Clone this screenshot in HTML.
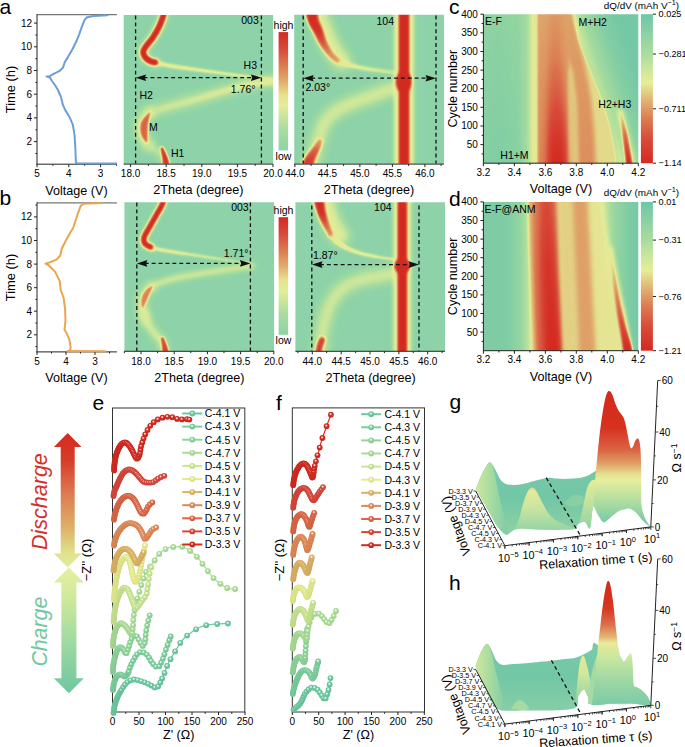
<!DOCTYPE html>
<html><head><meta charset="utf-8"><style>
html,body{margin:0;padding:0;background:#fff;width:685px;height:747px;overflow:hidden}
svg{display:block}
text{font-family:"Liberation Sans",sans-serif}
</style></head><body>
<svg width="685" height="747" viewBox="0 0 685 747" font-family="Liberation Sans">
<defs><filter id="cmX" filterUnits="userSpaceOnUse" x="0" y="0" width="685" height="747" color-interpolation-filters="sRGB"><feComponentTransfer><feFuncR type="table" tableValues="0.553 0.572 0.591 0.610 0.629 0.648 0.671 0.707 0.742 0.778 0.813 0.849 0.885 0.896 0.903 0.910 0.903 0.897 0.890 0.884 0.879 0.873 0.868 0.863 0.858 0.852 0.847 0.842 0.838 0.837 0.835 0.833 0.831"/><feFuncG type="table" tableValues="0.827 0.834 0.841 0.848 0.855 0.861 0.869 0.880 0.890 0.900 0.911 0.921 0.932 0.917 0.898 0.879 0.825 0.769 0.714 0.662 0.617 0.571 0.526 0.480 0.436 0.393 0.349 0.305 0.270 0.243 0.217 0.191 0.165"/><feFuncB type="table" tableValues="0.659 0.653 0.647 0.640 0.634 0.628 0.623 0.618 0.614 0.610 0.605 0.601 0.597 0.585 0.571 0.557 0.520 0.483 0.445 0.413 0.388 0.364 0.339 0.315 0.295 0.276 0.257 0.237 0.217 0.194 0.171 0.148 0.125"/></feComponentTransfer></filter><filter id="cmQ" filterUnits="userSpaceOnUse" x="0" y="0" width="685" height="747" color-interpolation-filters="sRGB"><feComponentTransfer><feFuncR type="table" tableValues="0.431 0.459 0.486 0.514 0.541 0.569 0.596 0.624 0.651 0.688 0.726 0.763 0.800 0.838 0.875 0.900 0.894 0.888 0.882 0.877 0.873 0.868 0.864 0.861 0.857 0.854 0.850 0.847 0.844 0.841 0.838 0.834 0.831"/><feFuncG type="table" tableValues="0.776 0.787 0.798 0.809 0.820 0.830 0.841 0.852 0.863 0.873 0.884 0.894 0.905 0.915 0.926 0.916 0.855 0.794 0.732 0.674 0.619 0.563 0.508 0.460 0.416 0.372 0.329 0.287 0.263 0.238 0.214 0.189 0.165"/><feFuncB type="table" tableValues="0.659 0.654 0.649 0.644 0.639 0.634 0.629 0.625 0.620 0.616 0.613 0.609 0.606 0.602 0.599 0.585 0.546 0.508 0.469 0.433 0.400 0.367 0.335 0.309 0.288 0.267 0.246 0.225 0.205 0.185 0.165 0.145 0.125"/></feComponentTransfer></filter><linearGradient id="sA104" gradientUnits="userSpaceOnUse" x1="0" y1="14" x2="0" y2="62"><stop offset="0" stop-color="rgb(255,255,255)"/><stop offset="0.35" stop-color="rgb(247,247,247)"/><stop offset="0.6" stop-color="rgb(209,209,209)"/><stop offset="0.8" stop-color="rgb(178,178,178)"/><stop offset="1" stop-color="rgb(158,158,158)"/></linearGradient><linearGradient id="sB104" gradientUnits="userSpaceOnUse" x1="0" y1="202" x2="0" y2="237"><stop offset="0" stop-color="rgb(255,255,255)"/><stop offset="0.35" stop-color="rgb(245,245,245)"/><stop offset="0.65" stop-color="rgb(204,204,204)"/><stop offset="1" stop-color="rgb(163,163,163)"/></linearGradient><linearGradient id="sA104b" gradientUnits="userSpaceOnUse" x1="0" y1="140" x2="0" y2="166"><stop offset="0" stop-color="rgb(158,158,158)"/><stop offset="0.4" stop-color="rgb(204,204,204)"/><stop offset="1" stop-color="rgb(242,242,242)"/></linearGradient><filter id="b4" filterUnits="userSpaceOnUse" x="0" y="0" width="685" height="747" color-interpolation-filters="sRGB"><feGaussianBlur stdDeviation="4"/></filter><filter id="b3_5" filterUnits="userSpaceOnUse" x="0" y="0" width="685" height="747" color-interpolation-filters="sRGB"><feGaussianBlur stdDeviation="3.5"/></filter><filter id="b3" filterUnits="userSpaceOnUse" x="0" y="0" width="685" height="747" color-interpolation-filters="sRGB"><feGaussianBlur stdDeviation="3"/></filter><filter id="b2" filterUnits="userSpaceOnUse" x="0" y="0" width="685" height="747" color-interpolation-filters="sRGB"><feGaussianBlur stdDeviation="2"/></filter><filter id="b1_3" filterUnits="userSpaceOnUse" x="0" y="0" width="685" height="747" color-interpolation-filters="sRGB"><feGaussianBlur stdDeviation="1.3"/></filter><filter id="b1_0" filterUnits="userSpaceOnUse" x="0" y="0" width="685" height="747" color-interpolation-filters="sRGB"><feGaussianBlur stdDeviation="1.0"/></filter><clipPath id="hc1"><rect x="123.7" y="14.9" width="149.4" height="148.9"/></clipPath><filter id="b1_4" filterUnits="userSpaceOnUse" x="0" y="0" width="685" height="747" color-interpolation-filters="sRGB"><feGaussianBlur stdDeviation="1.4"/></filter><filter id="b1_8" filterUnits="userSpaceOnUse" x="0" y="0" width="685" height="747" color-interpolation-filters="sRGB"><feGaussianBlur stdDeviation="1.8"/></filter><filter id="b1_1" filterUnits="userSpaceOnUse" x="0" y="0" width="685" height="747" color-interpolation-filters="sRGB"><feGaussianBlur stdDeviation="1.1"/></filter><filter id="b1_5" filterUnits="userSpaceOnUse" x="0" y="0" width="685" height="747" color-interpolation-filters="sRGB"><feGaussianBlur stdDeviation="1.5"/></filter><clipPath id="hc2"><rect x="294.2" y="14.7" width="149.8" height="149.1"/></clipPath><filter id="b2_5" filterUnits="userSpaceOnUse" x="0" y="0" width="685" height="747" color-interpolation-filters="sRGB"><feGaussianBlur stdDeviation="2.5"/></filter><filter id="b1_6" filterUnits="userSpaceOnUse" x="0" y="0" width="685" height="747" color-interpolation-filters="sRGB"><feGaussianBlur stdDeviation="1.6"/></filter><filter id="b0_9" filterUnits="userSpaceOnUse" x="0" y="0" width="685" height="747" color-interpolation-filters="sRGB"><feGaussianBlur stdDeviation="0.9"/></filter><filter id="b1_2" filterUnits="userSpaceOnUse" x="0" y="0" width="685" height="747" color-interpolation-filters="sRGB"><feGaussianBlur stdDeviation="1.2"/></filter><clipPath id="hc3"><rect x="124.4" y="202.2" width="149.7" height="148.9"/></clipPath><clipPath id="hc4"><rect x="295.4" y="202.2" width="149.6" height="148.9"/></clipPath><linearGradient id="gX" x1="0" y1="0" x2="0" y2="1"><stop offset="0.000" stop-color="#d42a20"/><stop offset="0.140" stop-color="#d6483a"/><stop offset="0.280" stop-color="#dc7a50"/><stop offset="0.420" stop-color="#e2ae6c"/><stop offset="0.530" stop-color="#e8e08e"/><stop offset="0.620" stop-color="#e3ee98"/><stop offset="0.820" stop-color="#a9dd9f"/><stop offset="1.000" stop-color="#8dd3a8"/></linearGradient><linearGradient id="cLeft" gradientUnits="userSpaceOnUse" x1="483" y1="0" x2="532" y2="0"><stop offset="0" stop-color="rgb(33,33,33)"/><stop offset="0.35" stop-color="rgb(26,26,26)"/><stop offset="0.7" stop-color="rgb(41,41,41)"/><stop offset="0.9" stop-color="rgb(66,66,66)"/><stop offset="1" stop-color="rgb(102,102,102)"/></linearGradient><linearGradient id="cLeftV" gradientUnits="userSpaceOnUse" x1="0" y1="14" x2="0" y2="163"><stop offset="0" stop-color="rgb(46,46,46)"/><stop offset="1" stop-color="rgb(18,18,18)"/></linearGradient><linearGradient id="cRight" gradientUnits="userSpaceOnUse" x1="592" y1="80" x2="634" y2="66"><stop offset="0" stop-color="rgb(102,102,102)"/><stop offset="0.25" stop-color="rgb(61,61,61)"/><stop offset="0.6" stop-color="rgb(26,26,26)"/><stop offset="1" stop-color="rgb(8,8,8)"/></linearGradient><linearGradient id="cMain" gradientUnits="userSpaceOnUse" x1="0" y1="14" x2="0" y2="163"><stop offset="0" stop-color="rgb(156,156,156)"/><stop offset="0.5" stop-color="rgb(166,166,166)"/><stop offset="1" stop-color="rgb(176,176,176)"/></linearGradient><linearGradient id="cRed" gradientUnits="userSpaceOnUse" x1="0" y1="14" x2="0" y2="163"><stop offset="0" stop-color="rgb(163,163,163)"/><stop offset="0.3" stop-color="rgb(178,178,178)"/><stop offset="0.6" stop-color="rgb(209,209,209)"/><stop offset="0.85" stop-color="rgb(242,242,242)"/><stop offset="1" stop-color="rgb(255,255,255)"/></linearGradient><linearGradient id="cSec" gradientUnits="userSpaceOnUse" x1="0" y1="14" x2="0" y2="163"><stop offset="0" stop-color="rgb(158,158,158)"/><stop offset="1" stop-color="rgb(168,168,168)"/></linearGradient><linearGradient id="cH23" gradientUnits="userSpaceOnUse" x1="0" y1="108" x2="0" y2="163"><stop offset="0" stop-color="rgb(115,115,115)"/><stop offset="0.45" stop-color="rgb(184,184,184)"/><stop offset="1" stop-color="rgb(255,255,255)"/></linearGradient><filter id="b0_8" filterUnits="userSpaceOnUse" x="0" y="0" width="685" height="747" color-interpolation-filters="sRGB"><feGaussianBlur stdDeviation="0.8"/></filter><clipPath id="hc5"><rect x="483.4" y="14.2" width="154.9" height="149"/></clipPath><linearGradient id="dLeft" gradientUnits="userSpaceOnUse" x1="483" y1="0" x2="532" y2="0"><stop offset="0" stop-color="rgb(20,20,20)"/><stop offset="0.5" stop-color="rgb(20,20,20)"/><stop offset="0.76" stop-color="rgb(43,43,43)"/><stop offset="0.9" stop-color="rgb(76,76,76)"/><stop offset="1" stop-color="rgb(115,115,115)"/></linearGradient><linearGradient id="dRight" gradientUnits="userSpaceOnUse" x1="604" y1="0" x2="640" y2="0"><stop offset="0" stop-color="rgb(92,92,92)"/><stop offset="0.3" stop-color="rgb(46,46,46)"/><stop offset="0.7" stop-color="rgb(18,18,18)"/><stop offset="1" stop-color="rgb(10,10,10)"/></linearGradient><linearGradient id="dMain" gradientUnits="userSpaceOnUse" x1="0" y1="202" x2="0" y2="351"><stop offset="0" stop-color="rgb(173,173,173)"/><stop offset="0.5" stop-color="rgb(189,189,189)"/><stop offset="1" stop-color="rgb(199,199,199)"/></linearGradient><linearGradient id="dRed" gradientUnits="userSpaceOnUse" x1="0" y1="202" x2="0" y2="351"><stop offset="0" stop-color="rgb(214,214,214)"/><stop offset="0.4" stop-color="rgb(240,240,240)"/><stop offset="1" stop-color="rgb(255,255,255)"/></linearGradient><linearGradient id="dH23" gradientUnits="userSpaceOnUse" x1="0" y1="250" x2="0" y2="351"><stop offset="0" stop-color="rgb(107,107,107)"/><stop offset="0.4" stop-color="rgb(168,168,168)"/><stop offset="1" stop-color="rgb(255,255,255)"/></linearGradient><filter id="b3_2" filterUnits="userSpaceOnUse" x="0" y="0" width="685" height="747" color-interpolation-filters="sRGB"><feGaussianBlur stdDeviation="3.2"/></filter><clipPath id="hc6"><rect x="483.4" y="201.9" width="154.9" height="148.8"/></clipPath><linearGradient id="gQ" x1="0" y1="0" x2="0" y2="1"><stop offset="0.000" stop-color="#6ec6a8"/><stop offset="0.250" stop-color="#a6dc9e"/><stop offset="0.460" stop-color="#e6ee98"/><stop offset="0.580" stop-color="#e0b272"/><stop offset="0.700" stop-color="#dc7c52"/><stop offset="0.840" stop-color="#d84a3a"/><stop offset="1.000" stop-color="#d42a20"/></linearGradient><radialGradient id="m0" cx="0.45" cy="0.42" r="0.58" fx="0.45" fy="0.38"><stop offset="0" stop-color="#e9f7f1"/><stop offset="0.12" stop-color="#e9f7f1"/><stop offset="0.3" stop-color="#9fdcc1"/><stop offset="0.45" stop-color="#6cc9a0"/><stop offset="1" stop-color="#64bb95"/></radialGradient><radialGradient id="m1" cx="0.45" cy="0.42" r="0.58" fx="0.45" fy="0.38"><stop offset="0" stop-color="#ebf8f0"/><stop offset="0.12" stop-color="#ebf8f0"/><stop offset="0.3" stop-color="#aae0bf"/><stop offset="0.45" stop-color="#7ccf9c"/><stop offset="1" stop-color="#73c191"/></radialGradient><radialGradient id="m2" cx="0.45" cy="0.42" r="0.58" fx="0.45" fy="0.38"><stop offset="0" stop-color="#eef9f0"/><stop offset="0.12" stop-color="#eef9f0"/><stop offset="0.3" stop-color="#b6e4be"/><stop offset="0.45" stop-color="#8fd59b"/><stop offset="1" stop-color="#85c690"/></radialGradient><radialGradient id="m3" cx="0.45" cy="0.42" r="0.58" fx="0.45" fy="0.38"><stop offset="0" stop-color="#f2faef"/><stop offset="0.12" stop-color="#f2faef"/><stop offset="0.3" stop-color="#c7e9b9"/><stop offset="0.45" stop-color="#a9dd94"/><stop offset="1" stop-color="#9dce8a"/></radialGradient><radialGradient id="m4" cx="0.45" cy="0.42" r="0.58" fx="0.45" fy="0.38"><stop offset="0" stop-color="#f7fbee"/><stop offset="0.12" stop-color="#f7fbee"/><stop offset="0.3" stop-color="#dbefb7"/><stop offset="0.45" stop-color="#c8e690"/><stop offset="1" stop-color="#bad686"/></radialGradient><radialGradient id="m5" cx="0.45" cy="0.42" r="0.58" fx="0.45" fy="0.38"><stop offset="0" stop-color="#fbfcee"/><stop offset="0.12" stop-color="#fbfcee"/><stop offset="0.3" stop-color="#edf3b6"/><stop offset="0.45" stop-color="#e4ec8e"/><stop offset="1" stop-color="#d4db84"/></radialGradient><radialGradient id="m6" cx="0.45" cy="0.42" r="0.58" fx="0.45" fy="0.38"><stop offset="0" stop-color="#faf3e8"/><stop offset="0.12" stop-color="#faf3e8"/><stop offset="0.3" stop-color="#e9cd9a"/><stop offset="0.45" stop-color="#ddb264"/><stop offset="1" stop-color="#cea65d"/></radialGradient><radialGradient id="m7" cx="0.45" cy="0.42" r="0.58" fx="0.45" fy="0.38"><stop offset="0" stop-color="#faede6"/><stop offset="0.12" stop-color="#faede6"/><stop offset="0.3" stop-color="#eab391"/><stop offset="0.45" stop-color="#df8a56"/><stop offset="1" stop-color="#cf8050"/></radialGradient><radialGradient id="m8" cx="0.45" cy="0.42" r="0.58" fx="0.45" fy="0.38"><stop offset="0" stop-color="#fae8e3"/><stop offset="0.12" stop-color="#fae8e3"/><stop offset="0.3" stop-color="#e89c87"/><stop offset="0.45" stop-color="#dc6646"/><stop offset="1" stop-color="#cd5f41"/></radialGradient><radialGradient id="m9" cx="0.45" cy="0.42" r="0.58" fx="0.45" fy="0.38"><stop offset="0" stop-color="#f9e3e1"/><stop offset="0.12" stop-color="#f9e3e1"/><stop offset="0.3" stop-color="#e5877f"/><stop offset="0.45" stop-color="#d7463a"/><stop offset="1" stop-color="#c84136"/></radialGradient><radialGradient id="m10" cx="0.45" cy="0.42" r="0.58" fx="0.45" fy="0.38"><stop offset="0" stop-color="#f9dfde"/><stop offset="0.12" stop-color="#f9dfde"/><stop offset="0.3" stop-color="#e3756e"/><stop offset="0.45" stop-color="#d42a20"/><stop offset="1" stop-color="#c5271e"/></radialGradient><linearGradient id="gDis" x1="0" y1="432.9" x2="0" y2="567.4" gradientUnits="userSpaceOnUse"><stop offset="0" stop-color="#d42a1e"/><stop offset="0.2" stop-color="#d63c2a"/><stop offset="0.45" stop-color="#dc7a52"/><stop offset="0.7" stop-color="#ddb068"/><stop offset="0.88" stop-color="#e0df88"/><stop offset="1" stop-color="#e2eca0"/></linearGradient><linearGradient id="gCh" x1="0" y1="567.4" x2="0" y2="693.2" gradientUnits="userSpaceOnUse"><stop offset="0" stop-color="#e6f0a0"/><stop offset="0.25" stop-color="#cfe89c"/><stop offset="0.55" stop-color="#a4dca0"/><stop offset="1" stop-color="#6ec6a0"/></linearGradient><linearGradient id="gRed" gradientUnits="userSpaceOnUse" x1="0" y1="391" x2="0" y2="522"><stop offset="0" stop-color="#d42a1c"/><stop offset="0.28" stop-color="#d5321f"/><stop offset="0.45" stop-color="#da6444"/><stop offset="0.56" stop-color="#e0a468"/><stop offset="0.64" stop-color="#e6e294"/><stop offset="0.68" stop-color="#e8ee9c"/><stop offset="0.82" stop-color="#b6e0a0"/><stop offset="1" stop-color="#7ccaa8"/></linearGradient><linearGradient id="gBack" gradientUnits="userSpaceOnUse" x1="0" y1="462" x2="0" y2="535"><stop offset="0" stop-color="#76c9a6"/><stop offset="0.5" stop-color="#72c7a6"/><stop offset="1" stop-color="#8ed2a4"/></linearGradient><linearGradient id="gLeft" gradientUnits="userSpaceOnUse" x1="478" y1="0" x2="508" y2="0"><stop offset="0" stop-color="#c8e69c"/><stop offset="0.45" stop-color="#a6dba0"/><stop offset="1" stop-color="#7ecba8"/></linearGradient><linearGradient id="gMid" gradientUnits="userSpaceOnUse" x1="0" y1="487" x2="0" y2="530"><stop offset="0" stop-color="#e4cc8a"/><stop offset="0.1" stop-color="#e6ea98"/><stop offset="0.5" stop-color="#c8e4a0"/><stop offset="1" stop-color="#96d4a4"/></linearGradient><linearGradient id="gMid2" gradientUnits="userSpaceOnUse" x1="0" y1="481" x2="0" y2="528"><stop offset="0" stop-color="#e4ec98"/><stop offset="0.45" stop-color="#c2e29e"/><stop offset="1" stop-color="#94d3a4"/></linearGradient><linearGradient id="hRed" gradientUnits="userSpaceOnUse" x1="0" y1="581" x2="0" y2="705"><stop offset="0" stop-color="#d42a1c"/><stop offset="0.22" stop-color="#d6361f"/><stop offset="0.36" stop-color="#dc7450"/><stop offset="0.45" stop-color="#e2b474"/><stop offset="0.5" stop-color="#e8ea98"/><stop offset="0.63" stop-color="#c6e6a0"/><stop offset="0.82" stop-color="#9ad6a4"/><stop offset="1" stop-color="#7ccaa8"/></linearGradient><linearGradient id="hBack" gradientUnits="userSpaceOnUse" x1="0" y1="640" x2="0" y2="712"><stop offset="0" stop-color="#7acba8"/><stop offset="0.5" stop-color="#72c7a6"/><stop offset="1" stop-color="#86cea6"/></linearGradient><linearGradient id="hLeft" gradientUnits="userSpaceOnUse" x1="478" y1="0" x2="506" y2="0"><stop offset="0" stop-color="#c8e69c"/><stop offset="0.45" stop-color="#a6dba0"/><stop offset="1" stop-color="#7ecba8"/></linearGradient><linearGradient id="hMid" gradientUnits="userSpaceOnUse" x1="0" y1="655" x2="0" y2="705"><stop offset="0" stop-color="#e2ea98"/><stop offset="0.35" stop-color="#d2e89c"/><stop offset="0.7" stop-color="#acdca0"/><stop offset="1" stop-color="#88d0a6"/></linearGradient></defs>
<text x="-0.5" y="14.3" font-size="21">a</text><text x="-0.5" y="205" font-size="21">b</text><text x="449" y="14.3" font-size="21">c</text><text x="449" y="205.8" font-size="21">d</text><text x="92.5" y="409.7" font-size="21">e</text><text x="276" y="409.7" font-size="21">f</text><text x="449.5" y="409" font-size="21">g</text><text x="449" y="589.5" font-size="21">h</text><line x1="37" y1="14.7" x2="116.9" y2="14.7" stroke="#777" stroke-width="1.2"/><line x1="37" y1="14.1" x2="37" y2="164.7" stroke="#222" stroke-width="1"/><line x1="36.5" y1="164.2" x2="116.9" y2="164.2" stroke="#222" stroke-width="1"/><line x1="35.4" y1="153.5" x2="37" y2="153.5" stroke="#222" stroke-width="1"/><line x1="34" y1="141.6" x2="37" y2="141.6" stroke="#222" stroke-width="1"/><text x="32" y="145.1" font-size="10" text-anchor="end">2</text><line x1="35.4" y1="129.8" x2="37" y2="129.8" stroke="#222" stroke-width="1"/><line x1="34" y1="117.9" x2="37" y2="117.9" stroke="#222" stroke-width="1"/><text x="32" y="121.4" font-size="10" text-anchor="end">4</text><line x1="35.4" y1="106.1" x2="37" y2="106.1" stroke="#222" stroke-width="1"/><line x1="34" y1="94.2" x2="37" y2="94.2" stroke="#222" stroke-width="1"/><text x="32" y="97.7" font-size="10" text-anchor="end">6</text><line x1="35.4" y1="82.4" x2="37" y2="82.4" stroke="#222" stroke-width="1"/><line x1="34" y1="70.5" x2="37" y2="70.5" stroke="#222" stroke-width="1"/><text x="32" y="74" font-size="10" text-anchor="end">8</text><line x1="35.4" y1="58.7" x2="37" y2="58.7" stroke="#222" stroke-width="1"/><line x1="34" y1="46.8" x2="37" y2="46.8" stroke="#222" stroke-width="1"/><text x="32" y="50.3" font-size="10" text-anchor="end">10</text><line x1="35.4" y1="35" x2="37" y2="35" stroke="#222" stroke-width="1"/><line x1="34" y1="23.1" x2="37" y2="23.1" stroke="#222" stroke-width="1"/><text x="32" y="26.6" font-size="10" text-anchor="end">12</text><line x1="37" y1="164.2" x2="37" y2="167.2" stroke="#222" stroke-width="1"/><text x="37" y="177.2" font-size="10" text-anchor="middle">5</text><line x1="52.9" y1="164.2" x2="52.9" y2="165.8" stroke="#222" stroke-width="1"/><line x1="68.8" y1="164.2" x2="68.8" y2="167.2" stroke="#222" stroke-width="1"/><text x="68.8" y="177.2" font-size="10" text-anchor="middle">4</text><line x1="84.7" y1="164.2" x2="84.7" y2="165.8" stroke="#222" stroke-width="1"/><line x1="100.6" y1="164.2" x2="100.6" y2="167.2" stroke="#222" stroke-width="1"/><text x="100.6" y="177.2" font-size="10" text-anchor="middle">3</text><line x1="116.5" y1="164.2" x2="116.5" y2="165.8" stroke="#222" stroke-width="1"/><path d="M116.3,163.5 L77.2,163.2 L75.9,162.5 L75.3,147 L74.5,134.6 L72.8,124.7 L69.7,117.3 L65.4,110.4 L62.9,104.9 L61.1,97.4 L58,90 L54.9,85 L52,81 L49.9,77.6 L46.4,76.4 L49.3,76.4 L53.6,73.9 L59.8,70.8 L62.9,67.7 L64.8,62.1 L67.9,57.1 L72.2,49.7 L75.9,42.3 L79,34.8 L82.1,26.1 L84.6,19.9 L87.1,17.2 L93.3,16 L107.6,15.2" fill="none" stroke="#6c9fd8" stroke-width="2" stroke-linejoin="round" stroke-linecap="round"/><line x1="37" y1="202.9" x2="116.9" y2="202.9" stroke="#777" stroke-width="1.2"/><line x1="37" y1="202.3" x2="37" y2="352.4" stroke="#222" stroke-width="1"/><line x1="36.5" y1="351.9" x2="116.9" y2="351.9" stroke="#222" stroke-width="1"/><line x1="35.4" y1="346.6" x2="37" y2="346.6" stroke="#222" stroke-width="1"/><line x1="34" y1="334.8" x2="37" y2="334.8" stroke="#222" stroke-width="1"/><text x="32" y="338.3" font-size="10" text-anchor="end">2</text><line x1="35.4" y1="323" x2="37" y2="323" stroke="#222" stroke-width="1"/><line x1="34" y1="311.2" x2="37" y2="311.2" stroke="#222" stroke-width="1"/><text x="32" y="314.7" font-size="10" text-anchor="end">4</text><line x1="35.4" y1="299.4" x2="37" y2="299.4" stroke="#222" stroke-width="1"/><line x1="34" y1="287.7" x2="37" y2="287.7" stroke="#222" stroke-width="1"/><text x="32" y="291.2" font-size="10" text-anchor="end">6</text><line x1="35.4" y1="275.9" x2="37" y2="275.9" stroke="#222" stroke-width="1"/><line x1="34" y1="264.1" x2="37" y2="264.1" stroke="#222" stroke-width="1"/><text x="32" y="267.6" font-size="10" text-anchor="end">8</text><line x1="35.4" y1="252.3" x2="37" y2="252.3" stroke="#222" stroke-width="1"/><line x1="34" y1="240.5" x2="37" y2="240.5" stroke="#222" stroke-width="1"/><text x="32" y="244" font-size="10" text-anchor="end">10</text><line x1="35.4" y1="228.7" x2="37" y2="228.7" stroke="#222" stroke-width="1"/><line x1="34" y1="216.9" x2="37" y2="216.9" stroke="#222" stroke-width="1"/><text x="32" y="220.4" font-size="10" text-anchor="end">12</text><line x1="35.4" y1="205.1" x2="37" y2="205.1" stroke="#222" stroke-width="1"/><line x1="37" y1="351.9" x2="37" y2="354.9" stroke="#222" stroke-width="1"/><text x="37" y="364.9" font-size="10" text-anchor="middle">5</text><line x1="51.5" y1="351.9" x2="51.5" y2="353.5" stroke="#222" stroke-width="1"/><line x1="66" y1="351.9" x2="66" y2="354.9" stroke="#222" stroke-width="1"/><text x="66" y="364.9" font-size="10" text-anchor="middle">4</text><line x1="80.5" y1="351.9" x2="80.5" y2="353.5" stroke="#222" stroke-width="1"/><line x1="95" y1="351.9" x2="95" y2="354.9" stroke="#222" stroke-width="1"/><text x="95" y="364.9" font-size="10" text-anchor="middle">3</text><line x1="109.5" y1="351.9" x2="109.5" y2="353.5" stroke="#222" stroke-width="1"/><path d="M105.3,351.3 L67.4,351.1 L70.2,350.3 L70.6,346.9 L69.3,339.3 L66.4,332.7 L64.5,329.8 L65.5,320.4 L65.1,309 L63.6,297.6 L60.7,290 L59.8,281.1 L55,271.6 L48.4,265 L45.5,263.6 L50.3,262.1 L56.9,259.3 L60.3,255.5 L61.7,248.8 L65.5,241.2 L70.2,232.7 L73.1,228 L77.8,213.7 L80.6,206.1 L83.5,203.7 L101.5,202.9" fill="none" stroke="#eaa54e" stroke-width="2" stroke-linejoin="round" stroke-linecap="round"/><text transform="translate(15.2,89.5) rotate(-90)" font-size="12.9" text-anchor="middle" fill="#000">Time (h)</text><text transform="translate(15.2,277.5) rotate(-90)" font-size="12.9" text-anchor="middle" fill="#000">Time (h)</text><text x="76.5" y="195" font-size="12.6" text-anchor="middle">Voltage (V)</text><text x="76.5" y="382" font-size="12.6" text-anchor="middle">Voltage (V)</text><g clip-path="url(#hc1)"><g filter="url(#cmX)"><rect x="103.7" y="-5.1" width="189.4" height="188.9" fill="rgb(0,0,0)"/><path d="M282,80 C276.8,80.6 262.2,81.1 250.8,83.5 C239.4,85.9 225.5,91.1 213.4,94.5 C201.3,97.9 187.8,101.4 178.4,104 C169,106.6 161.7,108.6 157,110 C152.3,111.4 151.2,112.1 150,112.5" fill="none" stroke="rgb(84,84,84)" stroke-width="10" stroke-linecap="round" stroke-linejoin="round" filter="url(#b4)"/><path d="M150,112 C149,113 145.6,115.8 144,118 C142.4,120.2 140.8,122.2 140.5,125 C140.2,127.8 140.8,131.7 142,135 C143.2,138.3 147,143.3 148,145" fill="none" stroke="rgb(92,92,92)" stroke-width="12" stroke-linecap="round" stroke-linejoin="round" filter="url(#b3_5)"/><path d="M148,145 C149.3,145.8 153.5,148.2 156,150 C158.5,151.8 161.3,153.3 163,156 C164.7,158.7 165.5,164.3 166,166" fill="none" stroke="rgb(76,76,76)" stroke-width="8" stroke-linecap="round" stroke-linejoin="round" filter="url(#b3)"/><path d="M164.5,8 C164.3,9.2 164.3,12.1 163.5,15 C162.7,17.9 161.3,22 159.6,25.7 C157.8,29.4 155.1,34.2 153,37.4 C150.9,40.6 148.6,42.8 147,45 C145.4,47.2 144,48.8 143.5,50.5 C143,52.2 143.3,54 144,55.5 C144.7,57 146.2,58.5 147.5,59.5 C148.8,60.5 150.6,61.2 152,61.8 C153.4,62.3 155.3,62.6 156,62.8" fill="none" stroke="rgb(102,102,102)" stroke-width="10" stroke-linecap="round" stroke-linejoin="round" filter="url(#b2)"/><path d="M151.5,64.4 L152.5,64.6 L153.7,64.9 L155.3,65.2 L157,65.6 L158.9,66 L160.8,66.4 L162.7,66.8 L164.5,67.1 L166.2,67.4 L167.7,67.7 L169.2,67.9 L170.8,68.2 L172.6,68.5 L174.6,68.8 L176.9,69.2 L179.7,69.5 L183,70 L186.7,70.5 L190.8,71 L195.2,71.5 L199.7,72.1 L204.2,72.7 L208.8,73.2 L213.2,73.8 L217.5,74.3 L222,74.8 L226.5,75.4 L231,75.9 L235.5,76.5 L239.9,77 L244.2,77.5 L248.3,77.9 L252.5,78.4 L256.8,78.8 L261.1,79.2 L265.3,79.6 L269.2,80 L272.7,80.3 L275.7,80.6 L277.9,80.8 L278.1,78.8 L275.9,78.5 L272.9,78.2 L269.5,77.8 L265.6,77.3 L261.4,76.9 L257.1,76.3 L252.8,75.8 L248.7,75.3 L244.5,74.7 L240.3,74.1 L235.9,73.5 L231.4,72.8 L226.9,72.2 L222.4,71.5 L218,70.9 L213.6,70.2 L209.3,69.6 L204.7,68.9 L200.2,68.3 L195.7,67.6 L191.4,67 L187.3,66.3 L183.6,65.8 L180.3,65.3 L177.6,64.8 L175.3,64.4 L173.3,64.1 L171.6,63.8 L170.1,63.5 L168.6,63.2 L167.1,62.8 L165.5,62.5 L163.7,62.1 L161.8,61.7 L159.9,61.3 L158.1,60.9 L156.4,60.5 L154.8,60.1 L153.5,59.8 L152.5,59.6Z" fill="rgb(107,107,107)" filter="url(#b1_3)"/><path d="M164.5,8 C164.3,9.2 164.3,12.1 163.5,15 C162.7,17.9 161.3,22 159.6,25.7 C157.8,29.4 155.1,34.2 153,37.4 C150.9,40.6 148.6,42.8 147,45 C145.4,47.2 144,48.8 143.5,50.5 C143,52.2 143.3,54 144,55.5 C144.7,57 146.2,58.5 147.5,59.5 C148.8,60.5 150.8,61.3 152,61.8 C153.2,62.3 154.5,62.2 155,62.3" fill="none" stroke="rgb(255,255,255)" stroke-width="6" stroke-linecap="round" stroke-linejoin="round" filter="url(#b1_0)"/><path d="M277.7,78 L275.5,78.3 L272.6,78.7 L269.1,79.1 L265.2,79.6 L261.2,80.2 L257.1,80.8 L253.2,81.4 L249.6,82.1 L246.3,82.7 L243,83.5 L239.9,84.3 L236.8,85.1 L233.7,85.9 L230.6,86.8 L227.6,87.7 L224.5,88.6 L221.3,89.5 L218.2,90.5 L215.1,91.5 L212,92.5 L208.9,93.5 L205.8,94.5 L202.7,95.5 L199.6,96.5 L196.4,97.5 L193.2,98.5 L189.9,99.5 L186.7,100.4 L183.5,101.4 L180.4,102.3 L177.4,103.2 L174.7,104 L172.1,104.7 L169.5,105.5 L167.1,106.2 L164.7,106.8 L162.6,107.4 L160.7,108 L159.1,108.4 L157.8,108.8 L158.2,110.2 L159.5,109.9 L161.1,109.5 L163,109.1 L165.2,108.5 L167.5,108 L170,107.3 L172.6,106.7 L175.3,106 L178,105.3 L181,104.6 L184.1,103.8 L187.3,102.9 L190.6,102.1 L193.9,101.2 L197.2,100.3 L200.4,99.5 L203.6,98.6 L206.7,97.7 L209.9,96.8 L213,95.9 L216.2,95 L219.3,94.1 L222.4,93.3 L225.5,92.4 L228.6,91.7 L231.7,90.9 L234.8,90.2 L237.9,89.4 L240.9,88.7 L244,88.1 L247.2,87.5 L250.4,86.9 L253.9,86.4 L257.8,86 L261.8,85.5 L265.9,85.1 L269.7,84.8 L273.2,84.5 L276.1,84.2 L278.3,84Z" fill="rgb(102,102,102)" filter="url(#b2)"/><path d="M151,111 L150.3,111.6 L149.4,112.4 L148.3,113.3 L147.1,114.4 L146,115.5 L145,116.5 L144.2,117.5 L143.3,118.5 L142.6,119.6 L141.9,120.7 L141.3,121.8 L140.8,123 L140.5,124.3 L140.3,125.6 L140.2,127 L140.1,128.4 L140.2,129.7 L140.3,131 L140.5,132.2 L140.7,133.4 L141.1,134.6 L141.5,135.8 L141.9,136.9 L142.5,138 L143.2,139.1 L144.1,140.3 L145.1,141.4 L146.1,142.5 L146.9,143.4 L147.5,144 L147.5,144 L147.5,143.1 L147.6,141.9 L147.6,140.5 L147.7,139 L147.8,137.4 L147.8,136 L147.8,134.7 L147.8,133.3 L147.9,132 L147.9,130.7 L147.9,129.3 L148,128 L148.1,126.7 L148.2,125.4 L148.4,124.1 L148.6,122.7 L148.8,121.4 L149,120 L149.3,118.5 L149.7,116.7 L150.1,115 L150.4,113.4 L150.8,112 L151,111Z" fill="rgb(199,199,199)" filter="url(#b1_0)"/><path d="M160.1,147.5 L160.2,148 L160.3,148.6 L160.5,149.3 L160.7,150.1 L160.8,151 L161,151.9 L161.2,152.8 L161.4,153.7 L161.5,154.5 L161.7,155.4 L161.9,156.3 L162,157.1 L162.2,158 L162.3,158.9 L162.4,159.7 L162.5,160.6 L162.5,161.5 L162.6,162.6 L162.6,163.7 L162.6,164.8 L162.5,165.9 L162.5,166.9 L162.5,167.8 L162.5,168.4 L170.5,167.6 L170.3,167 L170.2,166.1 L169.9,165.2 L169.7,164 L169.4,162.9 L169.1,161.7 L168.8,160.5 L168.5,159.4 L168.2,158.4 L167.8,157.4 L167.5,156.5 L167.1,155.6 L166.7,154.7 L166.3,153.9 L166,153.1 L165.6,152.3 L165.3,151.5 L164.9,150.7 L164.5,149.8 L164.1,149 L163.7,148.2 L163.4,147.5 L163.1,147 L162.9,146.5Z" fill="rgb(242,242,242)" filter="url(#b1_0)"/></g></g><g clip-path="url(#hc2)"><g filter="url(#cmX)"><rect x="274.2" y="-5.3" width="189.8" height="189.1" fill="rgb(0,0,0)"/><path d="M400,86 C396.7,87.2 387,90.5 380,93 C373,95.5 365,98.2 358,101 C351,103.8 343.5,106.5 338,110 C332.5,113.5 328.3,116.9 325,122 C321.7,127.1 320.2,133.5 318,140.7 C315.8,147.9 313,160.9 312,165" fill="none" stroke="rgb(84,84,84)" stroke-width="16" stroke-linecap="round" stroke-linejoin="round" filter="url(#b4)"/><path d="M316,8 C317,10.8 320,19.7 322,25 C324,30.3 325.8,35.3 328,40 C330.2,44.7 332.7,49.5 335,53 C337.3,56.5 340.8,59.7 342,61" fill="none" stroke="rgb(92,92,92)" stroke-width="20" stroke-linecap="round" stroke-linejoin="round" filter="url(#b4)"/><path d="M332.5,59.6 L333.6,60.2 L334.9,60.9 L336.6,61.9 L338.5,62.9 L340.6,64 L342.7,65.1 L344.9,66.1 L347.1,66.9 L349.2,67.6 L351.4,68.2 L353.6,68.7 L355.8,69.1 L358,69.5 L360.3,69.9 L362.4,70.3 L364.6,70.6 L366.8,71 L369,71.3 L371.1,71.5 L373.3,71.8 L375.4,72 L377.6,72.2 L379.7,72.5 L381.8,72.7 L383.9,72.9 L386.2,73.2 L388.6,73.4 L390.9,73.6 L393,73.8 L395,74 L396.6,74.2 L397.8,74.3 L398.2,71.7 L396.9,71.5 L395.3,71.3 L393.4,71 L391.2,70.7 L389,70.3 L386.6,70 L384.4,69.6 L382.2,69.3 L380.2,69 L378.1,68.6 L375.9,68.3 L373.8,68 L371.7,67.6 L369.6,67.2 L367.5,66.8 L365.4,66.4 L363.3,65.9 L361.1,65.5 L358.9,65 L356.8,64.5 L354.7,64 L352.7,63.4 L350.7,62.8 L348.9,62.1 L347.1,61.3 L345.2,60.3 L343.2,59.2 L341.3,58.1 L339.6,56.9 L337.9,55.9 L336.6,55 L335.5,54.4Z" fill="rgb(107,107,107)" filter="url(#b1_4)"/><path d="M303.6,5.1 L303.9,6.3 L304.3,8 L304.7,10 L305.2,12.3 L305.8,14.7 L306.4,17.1 L307,19.4 L307.7,21.6 L308.4,23.5 L309.2,25.2 L310,26.7 L310.8,28.1 L311.6,29.4 L312.3,30.6 L313,31.8 L313.6,32.9 L314.2,34.2 L314.8,35.5 L315.5,36.8 L316.1,38.2 L316.7,39.6 L317.4,41 L318.1,42.4 L318.8,43.8 L319.6,45.1 L320.4,46.4 L321.2,47.6 L322,48.8 L322.9,49.9 L323.7,51 L324.4,52 L325.2,53 L325.9,53.9 L326.6,54.7 L327.3,55.5 L328,56.3 L328.7,57 L329.4,57.7 L330.1,58.4 L330.9,59.1 L331.8,59.9 L332.7,60.6 L333.7,61.3 L334.6,62 L335.5,62.6 L336.3,63.2 L337,63.6 L337.4,63.9 L340.6,60.1 L340.1,59.6 L339.5,59.1 L338.8,58.5 L338,57.8 L337.2,57 L336.4,56.3 L335.7,55.6 L335.1,54.9 L334.5,54.2 L334,53.6 L333.4,52.9 L332.9,52.2 L332.4,51.5 L331.9,50.7 L331.4,49.9 L330.8,49 L330.2,48 L329.6,47 L329,45.9 L328.4,44.8 L327.8,43.7 L327.2,42.5 L326.7,41.4 L326.2,40.2 L325.7,39 L325.2,37.7 L324.8,36.4 L324.4,35 L323.9,33.6 L323.4,32.1 L322.9,30.6 L322.4,29.1 L321.8,27.6 L321.2,26.1 L320.6,24.8 L320,23.5 L319.5,22.3 L319,21 L318.6,19.8 L318.3,18.4 L318,16.8 L317.7,14.8 L317.4,12.6 L317.2,10.3 L316.9,8.1 L316.7,6 L316.6,4.2 L316.4,2.9Z" fill="url(#sA104)" filter="url(#b1_4)"/><path d="M318.8,137.9 L318.3,138.6 L317.7,139.6 L316.9,140.8 L316.1,142 L315.3,143.4 L314.4,144.7 L313.5,146 L312.7,147.2 L311.9,148.2 L311,149.3 L310.1,150.4 L309.2,151.5 L308.2,152.7 L307.2,154 L306.3,155.3 L305.4,156.8 L304.5,158.3 L303.6,160 L302.8,161.6 L302,163.2 L301.3,164.7 L300.7,166 L300.2,167.1 L299.9,167.9 L312.1,172.1 L312.4,171.2 L312.6,170 L312.9,168.6 L313.2,167 L313.6,165.5 L313.9,163.9 L314.3,162.5 L314.6,161.2 L315,160.1 L315.5,158.9 L316.1,157.6 L316.7,156.4 L317.3,155 L318,153.7 L318.7,152.3 L319.3,150.8 L319.9,149.4 L320.5,147.8 L321.1,146.3 L321.6,144.7 L322.1,143.3 L322.6,142 L323,140.9 L323.2,140.1Z" fill="url(#sA104b)" filter="url(#b1_8)"/><path d="M404,8 L404,170" fill="none" stroke="rgb(115,115,115)" stroke-width="20" stroke-linecap="round" stroke-linejoin="round" filter="url(#b2)"/><path d="M404,8 L404,170" fill="none" stroke="rgb(255,255,255)" stroke-width="10" stroke-linecap="round" stroke-linejoin="round" filter="url(#b1_1)"/><ellipse cx="403.7" cy="82" rx="7.8" ry="10.5" fill="rgb(255,255,255)" filter="url(#b1_5)"/></g></g><g clip-path="url(#hc3)"><g filter="url(#cmX)"><rect x="104.4" y="182.2" width="189.7" height="188.9" fill="rgb(0,0,0)"/><path d="M252,266 C246.7,266.8 232.7,268.6 220.4,270.5 C208.1,272.4 189.3,275.2 178.4,277.5 C167.5,279.8 159.6,282.9 155,284.5 C150.4,286.1 151.7,286.6 151,287" fill="none" stroke="rgb(87,87,87)" stroke-width="7" stroke-linecap="round" stroke-linejoin="round" filter="url(#b2_5)"/><path d="M151,287 C150,288 146.5,290.8 145,293 C143.5,295.2 142.4,297.2 142,300 C141.6,302.8 142,306.7 142.5,310 C143,313.3 144.6,318.3 145,320" fill="none" stroke="rgb(87,87,87)" stroke-width="11" stroke-linecap="round" stroke-linejoin="round" filter="url(#b3_5)"/><path d="M144,312 C144.7,314 146.2,320.3 148,324 C149.8,327.7 152.7,331 155,334 C157.3,337 160.3,338.5 162,342 C163.7,345.5 164.5,352.8 165,355" fill="none" stroke="rgb(92,92,92)" stroke-width="9" stroke-linecap="round" stroke-linejoin="round" filter="url(#b3)"/><path d="M164,196 C163.8,197 163.6,200.2 163.1,202 C162.6,203.8 161.9,205.2 161,207 C160.1,208.8 158.8,210.7 157.5,213 C156.2,215.3 154.5,218.3 153,221 C151.5,223.7 149.8,226.7 148.5,229 C147.2,231.3 145.8,233.3 145,235 C144.2,236.7 143.9,237.7 143.8,239 C143.7,240.3 143.9,241.9 144.5,243 C145.1,244.1 146.2,244.8 147.4,245.5 C148.6,246.2 150.8,247.2 151.5,247.5" fill="none" stroke="rgb(107,107,107)" stroke-width="9" stroke-linecap="round" stroke-linejoin="round" filter="url(#b1_6)"/><path d="M149.6,250 L150.8,250.2 L152.3,250.5 L154.1,250.8 L156.2,251.1 L158.3,251.5 L160.5,251.8 L162.7,252.2 L164.7,252.5 L166.4,252.8 L168.1,253 L169.6,253.3 L171.2,253.5 L173,253.8 L174.9,254.1 L177.1,254.4 L179.7,254.7 L182.7,255.2 L186.1,255.6 L189.7,256.1 L193.5,256.6 L197.4,257.1 L201.5,257.6 L205.7,258.2 L209.8,258.8 L214.2,259.4 L219.1,260.1 L224.2,260.8 L229.3,261.5 L234.3,262.2 L238.8,262.9 L242.8,263.5 L245.9,263.9 L248.1,264.2 L249.7,264.4 L250.6,264.5 L251.2,264.6 L251.5,264.6 L251.6,264.6 L251.7,264.6 L251.9,264.6 L252.1,263.4 L251.8,263.4 L251.6,263.4 L251.5,263.4 L251.3,263.3 L250.8,263.3 L249.8,263.1 L248.3,262.9 L246.1,262.5 L243,262 L239.1,261.3 L234.6,260.5 L229.7,259.6 L224.5,258.7 L219.5,257.8 L214.6,257 L210.2,256.2 L206.1,255.5 L201.9,254.8 L197.9,254.2 L193.9,253.5 L190.1,252.9 L186.6,252.3 L183.2,251.8 L180.3,251.3 L177.7,250.8 L175.5,250.4 L173.6,250.1 L171.9,249.8 L170.3,249.5 L168.7,249.2 L167.1,248.9 L165.3,248.5 L163.4,248.1 L161.3,247.7 L159.1,247.3 L156.9,246.9 L154.9,246.5 L153.1,246.1 L151.6,245.8 L150.4,245.6Z" fill="rgb(105,105,105)" filter="url(#b1_1)"/><path d="M164,196 C163.8,197 163.6,200.2 163.1,202 C162.6,203.8 161.9,205.2 161,207 C160.1,208.8 158.8,210.7 157.5,213 C156.2,215.3 154.5,218.3 153,221 C151.5,223.7 149.8,226.7 148.5,229 C147.2,231.3 145.8,233.3 145,235 C144.2,236.7 143.9,237.7 143.8,239 C143.7,240.3 143.9,241.9 144.5,243 C145.1,244.1 146.4,244.8 147.4,245.5 C148.4,246.2 150,246.8 150.5,247" fill="none" stroke="rgb(255,255,255)" stroke-width="5.2" stroke-linecap="round" stroke-linejoin="round" filter="url(#b0_9)"/><path d="M153.5,285 L152.8,285.3 L151.7,285.8 L150.5,286.3 L149.3,287 L148,287.7 L147,288.5 L146.1,289.4 L145.2,290.4 L144.4,291.5 L143.6,292.7 L143,293.9 L142.4,295 L142,296.1 L141.6,297.3 L141.4,298.4 L141.2,299.6 L141.1,300.8 L141,302 L141,303.4 L141.2,304.9 L141.4,306.4 L141.7,307.9 L141.9,309.1 L142,310 L142,310 L142.5,309.1 L143.2,307.9 L144.1,306.4 L145,304.8 L145.8,303.3 L146.5,302 L147,300.9 L147.5,299.8 L147.9,298.8 L148.2,297.9 L148.6,296.9 L149,296 L149.4,295.1 L149.9,294.1 L150.3,293.2 L150.7,292.3 L151.1,291.4 L151.5,290.5 L151.9,289.5 L152.3,288.5 L152.7,287.4 L153,286.4 L153.3,285.6 L153.5,285Z" fill="rgb(178,178,178)" filter="url(#b1_1)"/><path d="M160.6,337.4 L160.7,338 L160.8,338.7 L160.9,339.6 L161.1,340.6 L161.3,341.6 L161.4,342.7 L161.6,343.7 L161.7,344.6 L161.8,345.5 L161.9,346.4 L162,347.2 L162,348.1 L162.1,349 L162.2,349.9 L162.2,350.8 L162.3,351.6 L162.3,352.4 L162.4,353.3 L162.4,354.2 L162.5,355 L162.5,355.8 L162.5,356.5 L162.5,357.2 L162.6,357.6 L170.4,356.4 L170.3,355.9 L170.2,355.3 L170,354.6 L169.7,353.9 L169.5,353 L169.2,352.1 L169,351.2 L168.7,350.4 L168.4,349.6 L168.2,348.7 L167.9,347.9 L167.6,347 L167.3,346.1 L167,345.2 L166.6,344.3 L166.3,343.4 L166,342.5 L165.6,341.5 L165.1,340.5 L164.7,339.5 L164.3,338.6 L164,337.8 L163.7,337.1 L163.4,336.6Z" fill="rgb(224,224,224)" filter="url(#b1_2)"/></g></g><g clip-path="url(#hc4)"><g filter="url(#cmX)"><rect x="275.4" y="182.2" width="189.6" height="188.9" fill="rgb(0,0,0)"/><path d="M398,273 C395,273.5 386.3,274.8 380,276 C373.7,277.2 366.3,277.8 360,280 C353.7,282.2 347,284.8 342,289 C337,293.2 333.2,298.4 330,305 C326.8,311.6 324.7,319.9 323,328.4 C321.3,336.9 320.5,351.4 320,356" fill="none" stroke="rgb(82,82,82)" stroke-width="15" stroke-linecap="round" stroke-linejoin="round" filter="url(#b4)"/><path d="M324,196 C324.7,198.7 326.5,207.2 328,212 C329.5,216.8 331,221 333,225 C335,229 338.8,234.2 340,236" fill="none" stroke="rgb(92,92,92)" stroke-width="20" stroke-linecap="round" stroke-linejoin="round" filter="url(#b4)"/><path d="M326.8,235.1 L327.6,235.9 L328.7,237 L330,238.4 L331.5,240 L333.1,241.6 L334.8,243.2 L336.6,244.8 L338.5,246.1 L340.2,247.3 L342.1,248.4 L343.9,249.4 L345.9,250.3 L347.8,251.2 L349.9,252 L352,252.8 L354.3,253.6 L356.6,254.3 L359,255 L361.6,255.6 L364.2,256.2 L366.8,256.7 L369.4,257.3 L372.1,257.7 L374.7,258.2 L377.4,258.6 L380.4,259 L383.5,259.4 L386.6,259.7 L389.4,260 L392,260.3 L394.2,260.5 L395.8,260.7 L396.2,258.3 L394.5,258.1 L392.4,257.7 L389.8,257.3 L386.9,256.9 L383.9,256.4 L380.9,255.9 L378,255.4 L375.3,254.8 L372.8,254.2 L370.2,253.6 L367.6,253 L365.1,252.4 L362.6,251.7 L360.2,251 L357.9,250.2 L355.7,249.4 L353.7,248.6 L351.7,247.7 L349.8,246.9 L348,246 L346.3,245 L344.6,244 L343.1,243 L341.5,241.9 L340.1,240.7 L338.6,239.3 L337.1,237.7 L335.6,236.1 L334.3,234.5 L333.1,233.1 L332,231.9 L331.2,230.9Z" fill="rgb(107,107,107)" filter="url(#b1_3)"/><path d="M312.6,197 L312.9,198.2 L313.3,199.8 L313.8,201.7 L314.4,203.9 L315,206.1 L315.6,208.3 L316.2,210.3 L316.7,212.1 L317.2,213.6 L317.7,214.9 L318.2,216.1 L318.6,217.3 L319.1,218.3 L319.6,219.4 L320,220.3 L320.5,221.4 L321,222.4 L321.5,223.5 L322,224.5 L322.5,225.5 L323.1,226.4 L323.6,227.4 L324.1,228.4 L324.7,229.3 L325.3,230.4 L325.9,231.5 L326.6,232.6 L327.2,233.8 L327.9,234.8 L328.4,235.8 L328.9,236.5 L329.3,237.1 L333.7,234.9 L333.5,234.2 L333.1,233.4 L332.7,232.4 L332.2,231.2 L331.7,230.1 L331.2,228.9 L330.7,227.7 L330.3,226.7 L329.9,225.7 L329.6,224.6 L329.2,223.7 L328.8,222.7 L328.5,221.7 L328.1,220.7 L327.8,219.7 L327.5,218.6 L327.2,217.6 L326.9,216.6 L326.6,215.6 L326.3,214.6 L326,213.6 L325.8,212.5 L325.5,211.3 L325.3,209.9 L325,208.3 L324.8,206.4 L324.5,204.2 L324.2,202 L324,199.8 L323.7,197.9 L323.6,196.2 L323.4,195Z" fill="url(#sB104)" filter="url(#b1_4)"/><path d="M322,340 C321.6,341.2 320.2,344.3 319.5,347 C318.8,349.7 318.2,354.5 318,356" fill="none" stroke="rgb(230,230,230)" stroke-width="6.5" stroke-linecap="round" stroke-linejoin="round" filter="url(#b1_6)"/><path d="M402.3,196 L402.3,358" fill="none" stroke="rgb(115,115,115)" stroke-width="18" stroke-linecap="round" stroke-linejoin="round" filter="url(#b2)"/><path d="M402.3,196 L402.3,358" fill="none" stroke="rgb(255,255,255)" stroke-width="9" stroke-linecap="round" stroke-linejoin="round" filter="url(#b1_1)"/><ellipse cx="402.2" cy="266" rx="8" ry="7.5" fill="rgb(255,255,255)" filter="url(#b1_5)"/></g></g><line x1="135.6" y1="15.5" x2="135.6" y2="163.5" stroke="#111" stroke-width="1.3" stroke-dasharray="3.9,3"/><line x1="261.4" y1="15.5" x2="261.4" y2="163.5" stroke="#111" stroke-width="1.3" stroke-dasharray="3.9,3"/><line x1="143.6" y1="77.7" x2="253.4" y2="77.7" stroke="#111" stroke-width="1.3" stroke-dasharray="3.9,3"/><path d="M135.6,77.7 L146.1,74.4 L144.9,77.7 L146.1,81Z M261.4,77.7 L250.9,74.4 L252.1,77.7 L250.9,81Z" fill="#111"/><line x1="303.2" y1="15.5" x2="303.2" y2="163.5" stroke="#111" stroke-width="1.3" stroke-dasharray="3.9,3"/><line x1="436" y1="15.5" x2="436" y2="163.5" stroke="#111" stroke-width="1.3" stroke-dasharray="3.9,3"/><line x1="311.2" y1="78.2" x2="428" y2="78.2" stroke="#111" stroke-width="1.3" stroke-dasharray="3.9,3"/><path d="M303.2,78.2 L313.7,74.9 L312.5,78.2 L313.7,81.5Z M436,78.2 L425.5,74.9 L426.7,78.2 L425.5,81.5Z" fill="#111"/><line x1="136.8" y1="202.5" x2="136.8" y2="351" stroke="#111" stroke-width="1.3" stroke-dasharray="3.9,3"/><line x1="250.4" y1="202.5" x2="250.4" y2="351" stroke="#111" stroke-width="1.3" stroke-dasharray="3.9,3"/><line x1="144.8" y1="263.4" x2="242.4" y2="263.4" stroke="#111" stroke-width="1.3" stroke-dasharray="3.9,3"/><path d="M136.8,263.4 L147.3,260.1 L146.1,263.4 L147.3,266.7Z M250.4,263.4 L239.9,260.1 L241.1,263.4 L239.9,266.7Z" fill="#111"/><line x1="311.8" y1="205.5" x2="311.8" y2="351" stroke="#111" stroke-width="1.3" stroke-dasharray="3.9,3"/><line x1="419" y1="205.5" x2="419" y2="351" stroke="#111" stroke-width="1.3" stroke-dasharray="3.9,3"/><line x1="320" y1="264.6" x2="411" y2="264.6" stroke="#111" stroke-width="1.3" stroke-dasharray="3.9,3"/><path d="M312,264.6 L322.5,261.3 L321.3,264.6 L322.5,267.9Z M419,264.6 L408.5,261.3 L409.7,264.6 L408.5,267.9Z" fill="#111"/><text x="258.8" y="23.6" font-size="10.5" text-anchor="end">003</text><text x="394" y="24.5" font-size="10.5" text-anchor="end">104</text><text x="248.7" y="211.4" font-size="10.5" text-anchor="end">003</text><text x="391.6" y="211.3" font-size="10.5" text-anchor="end">104</text><text x="257" y="68.6" font-size="10.5" text-anchor="end">H3</text><text x="139.5" y="98.7" font-size="10.5">H2</text><text x="149" y="131.4" font-size="10.5">M</text><text x="171" y="157.1" font-size="10.5">H1</text><text x="255.5" y="92.8" font-size="10.5" text-anchor="end">1.76°</text><text x="305.5" y="90.5" font-size="10.5">2.03°</text><text x="248.5" y="256.9" font-size="10.5" text-anchor="end">1.71°</text><text x="313" y="259.2" font-size="10.5">1.87°</text><rect x="278.6" y="32.1" width="9.5" height="118.3" fill="url(#gX)"/><text x="283.5" y="28.5" font-size="10.5" text-anchor="middle">high</text><text x="283.5" y="159.9" font-size="10.5" text-anchor="middle">low</text><rect x="278.6" y="217.2" width="9.5" height="117.6" fill="url(#gX)"/><text x="283.5" y="213.9" font-size="10.5" text-anchor="middle">high</text><text x="283.5" y="343.9" font-size="10.5" text-anchor="middle">low</text><line x1="123.7" y1="164.1" x2="273.1" y2="164.1" stroke="#222" stroke-width="1"/><line x1="130.6" y1="164.1" x2="130.6" y2="167.1" stroke="#222" stroke-width="1"/><text x="130.6" y="177.2" font-size="10" text-anchor="middle">18.0</text><line x1="166.2" y1="164.1" x2="166.2" y2="167.1" stroke="#222" stroke-width="1"/><text x="166.2" y="177.2" font-size="10" text-anchor="middle">18.5</text><line x1="201.8" y1="164.1" x2="201.8" y2="167.1" stroke="#222" stroke-width="1"/><text x="201.8" y="177.2" font-size="10" text-anchor="middle">19.0</text><line x1="237.4" y1="164.1" x2="237.4" y2="167.1" stroke="#222" stroke-width="1"/><text x="237.4" y="177.2" font-size="10" text-anchor="middle">19.5</text><line x1="273" y1="164.1" x2="273" y2="167.1" stroke="#222" stroke-width="1"/><text x="273" y="177.2" font-size="10" text-anchor="middle">20.0</text><line x1="148.4" y1="164.1" x2="148.4" y2="165.9" stroke="#222" stroke-width="1"/><line x1="184" y1="164.1" x2="184" y2="165.9" stroke="#222" stroke-width="1"/><line x1="219.6" y1="164.1" x2="219.6" y2="165.9" stroke="#222" stroke-width="1"/><line x1="255.2" y1="164.1" x2="255.2" y2="165.9" stroke="#222" stroke-width="1"/><line x1="294.2" y1="164.1" x2="444" y2="164.1" stroke="#222" stroke-width="1"/><line x1="294.9" y1="164.1" x2="294.9" y2="167.1" stroke="#222" stroke-width="1"/><text x="294.9" y="177.2" font-size="10" text-anchor="middle">44.0</text><line x1="327.4" y1="164.1" x2="327.4" y2="167.1" stroke="#222" stroke-width="1"/><text x="327.4" y="177.2" font-size="10" text-anchor="middle">44.5</text><line x1="359.9" y1="164.1" x2="359.9" y2="167.1" stroke="#222" stroke-width="1"/><text x="359.9" y="177.2" font-size="10" text-anchor="middle">45.0</text><line x1="392.4" y1="164.1" x2="392.4" y2="167.1" stroke="#222" stroke-width="1"/><text x="392.4" y="177.2" font-size="10" text-anchor="middle">45.5</text><line x1="424.9" y1="164.1" x2="424.9" y2="167.1" stroke="#222" stroke-width="1"/><text x="424.9" y="177.2" font-size="10" text-anchor="middle">46.0</text><line x1="311.1" y1="164.1" x2="311.1" y2="165.9" stroke="#222" stroke-width="1"/><line x1="343.6" y1="164.1" x2="343.6" y2="165.9" stroke="#222" stroke-width="1"/><line x1="376.1" y1="164.1" x2="376.1" y2="165.9" stroke="#222" stroke-width="1"/><line x1="408.6" y1="164.1" x2="408.6" y2="165.9" stroke="#222" stroke-width="1"/><line x1="441.1" y1="164.1" x2="441.1" y2="165.9" stroke="#222" stroke-width="1"/><line x1="124.4" y1="351.3" x2="274.1" y2="351.3" stroke="#222" stroke-width="1"/><line x1="141" y1="351.3" x2="141" y2="354.3" stroke="#222" stroke-width="1"/><text x="141" y="364.7" font-size="10" text-anchor="middle">18.0</text><line x1="174.2" y1="351.3" x2="174.2" y2="354.3" stroke="#222" stroke-width="1"/><text x="174.2" y="364.7" font-size="10" text-anchor="middle">18.5</text><line x1="207.4" y1="351.3" x2="207.4" y2="354.3" stroke="#222" stroke-width="1"/><text x="207.4" y="364.7" font-size="10" text-anchor="middle">19.0</text><line x1="240.6" y1="351.3" x2="240.6" y2="354.3" stroke="#222" stroke-width="1"/><text x="240.6" y="364.7" font-size="10" text-anchor="middle">19.5</text><line x1="273.8" y1="351.3" x2="273.8" y2="354.3" stroke="#222" stroke-width="1"/><text x="273.8" y="364.7" font-size="10" text-anchor="middle">20.0</text><line x1="124.4" y1="351.3" x2="124.4" y2="353.1" stroke="#222" stroke-width="1"/><line x1="157.6" y1="351.3" x2="157.6" y2="353.1" stroke="#222" stroke-width="1"/><line x1="190.8" y1="351.3" x2="190.8" y2="353.1" stroke="#222" stroke-width="1"/><line x1="224" y1="351.3" x2="224" y2="353.1" stroke="#222" stroke-width="1"/><line x1="257.2" y1="351.3" x2="257.2" y2="353.1" stroke="#222" stroke-width="1"/><line x1="295.4" y1="351.3" x2="445" y2="351.3" stroke="#222" stroke-width="1"/><line x1="312.3" y1="351.3" x2="312.3" y2="354.3" stroke="#222" stroke-width="1"/><text x="312.3" y="364.7" font-size="10" text-anchor="middle">44.0</text><line x1="341.2" y1="351.3" x2="341.2" y2="354.3" stroke="#222" stroke-width="1"/><text x="341.2" y="364.7" font-size="10" text-anchor="middle">44.5</text><line x1="370" y1="351.3" x2="370" y2="354.3" stroke="#222" stroke-width="1"/><text x="370" y="364.7" font-size="10" text-anchor="middle">45.0</text><line x1="398.9" y1="351.3" x2="398.9" y2="354.3" stroke="#222" stroke-width="1"/><text x="398.9" y="364.7" font-size="10" text-anchor="middle">45.5</text><line x1="427.7" y1="351.3" x2="427.7" y2="354.3" stroke="#222" stroke-width="1"/><text x="427.7" y="364.7" font-size="10" text-anchor="middle">46.0</text><line x1="297.9" y1="351.3" x2="297.9" y2="353.1" stroke="#222" stroke-width="1"/><line x1="326.7" y1="351.3" x2="326.7" y2="353.1" stroke="#222" stroke-width="1"/><line x1="355.6" y1="351.3" x2="355.6" y2="353.1" stroke="#222" stroke-width="1"/><line x1="384.4" y1="351.3" x2="384.4" y2="353.1" stroke="#222" stroke-width="1"/><line x1="413.3" y1="351.3" x2="413.3" y2="353.1" stroke="#222" stroke-width="1"/><line x1="442.1" y1="351.3" x2="442.1" y2="353.1" stroke="#222" stroke-width="1"/><text x="198.4" y="194" font-size="12.6" text-anchor="middle">2Theta (degree)</text><text x="369" y="194" font-size="12.6" text-anchor="middle">2Theta (degree)</text><text x="199.4" y="382" font-size="12.6" text-anchor="middle">2Theta (degree)</text><text x="370.6" y="382" font-size="12.6" text-anchor="middle">2Theta (degree)</text><g clip-path="url(#hc5)"><g filter="url(#cmQ)"><rect x="463.4" y="-5.8" width="194.9" height="189" fill="rgb(0,0,0)"/><path d="M470,4.2 L532,4.2 L532,173.2 L470,173.2Z" fill="url(#cLeft)" filter="url(#b0_8)"/><path d="M470,4.2 L522,4.2 L522,173.2 L470,173.2Z" fill="url(#cLeftV)" fill-opacity="0.5" filter="url(#b3)"/><path d="M570.4,0 L570.4,13.6 L581.2,46 L593.3,75 L602.9,99 L610.1,123 L615,145 L617.3,161.8 L618,175 L660,175 L660,0Z" fill="url(#cRight)" filter="url(#b1_2)"/><path d="M531,0 L537,0 L537,175 L531,175Z" fill="rgb(120,120,120)" filter="url(#b0_8)"/><path d="M536,0 L570.4,0 L570.4,13.6 L581.2,46 L593.3,75 L602.9,99 L610.1,123 L615,145 L617.3,161.8 L618,175 L536,175Z" fill="rgb(128,128,128)" filter="url(#b1_2)"/><path d="M537.5,0 L570,0 L569,60 L568,175 L538,175Z" fill="url(#cMain)" filter="url(#b1_5)"/><path d="M556,0 L571,0 L578,40 L584,62 L588,82 L591,100 L594,130 L596,175 L578,175 L576,100 L572,70 L560,40Z" fill="url(#cSec)" filter="url(#b2)"/><path d="M568,70 L570.5,70 L576,112 L578,175 L569,175 L569,112Z" fill="rgb(140,140,140)" filter="url(#b2)"/><path d="M550,0 L560,0 L562,60 L565,120 L567,175 L548,175 L548,120 L549,60Z" fill="url(#cRed)" filter="url(#b3)"/><path d="M620,112 C620.6,114.5 622.3,122 623.5,127 C624.7,132 625.8,136.8 627,142 C628.2,147.2 629.7,153.3 630.5,158 C631.3,162.7 631.8,168 632,170" fill="none" stroke="rgb(117,117,117)" stroke-width="7" stroke-linecap="round" stroke-linejoin="round" filter="url(#b2)"/><path d="M620,112 L621.5,112 L627.5,135 L633.5,173.2 L627.5,173.2 L622.5,135Z" fill="url(#cH23)" filter="url(#b1_0)"/></g></g><g clip-path="url(#hc6)"><g filter="url(#cmQ)"><rect x="463.4" y="181.9" width="194.9" height="188.8" fill="rgb(0,0,0)"/><path d="M470,191.9 L530,191.9 L536,360.7 L470,360.7Z" fill="url(#dLeft)" filter="url(#b0_8)"/><path d="M527,191.9 L612,191.9 L634,360.7 L532,360.7Z" fill="rgb(122,122,122)" filter="url(#b1_2)"/><path d="M530,191.9 L557,191.9 L559,270 L563.5,360.7 L536,360.7 L532.5,270Z" fill="url(#dMain)" filter="url(#b2_5)"/><path d="M539,191.9 L553,191.9 L556,270 L562,360.7 L545,360.7 L541,270Z" fill="url(#dRed)" filter="url(#b3_2)"/><path d="M558,191.9 L572,191.9 L578,360.7 L563,360.7Z" fill="rgb(133,133,133)" filter="url(#b2_5)"/><path d="M572,191.9 L587,191.9 L596,360.7 L579,360.7Z" fill="rgb(158,158,158)" filter="url(#b2_5)"/><path d="M602,191.9 L650,191.9 L650,360.7 L635,360.7 L629,330 L618,285 L609,240Z" fill="url(#dRight)" filter="url(#b2_5)"/><path d="M609,250 C609.8,255 612.3,270.8 614,280 C615.7,289.2 617.2,296.3 619,305 C620.8,313.7 623.2,323.5 625,332 C626.8,340.5 629.2,352 630,356" fill="none" stroke="rgb(117,117,117)" stroke-width="8" stroke-linecap="round" stroke-linejoin="round" filter="url(#b2)"/><path d="M610,252 L611.5,252 L616,280 L620.5,305 L625.5,327 L631,345 L634,360.7 L625,360.7 L621.5,337 L617.5,315 L614,290Z" fill="url(#dH23)" filter="url(#b1_0)"/></g></g><line x1="483.4" y1="14.2" x2="483.4" y2="163.2" stroke="#222" stroke-width="1"/><line x1="483.4" y1="163.2" x2="638.3" y2="163.2" stroke="#222" stroke-width="1"/><line x1="480.4" y1="14.2" x2="483.4" y2="14.2" stroke="#222" stroke-width="1"/><text x="477.9" y="17.7" font-size="10" text-anchor="end">400</text><line x1="481.6" y1="23.5" x2="483.4" y2="23.5" stroke="#222" stroke-width="1"/><line x1="480.4" y1="32.8" x2="483.4" y2="32.8" stroke="#222" stroke-width="1"/><text x="477.9" y="36.3" font-size="10" text-anchor="end">350</text><line x1="481.6" y1="42.1" x2="483.4" y2="42.1" stroke="#222" stroke-width="1"/><line x1="480.4" y1="51.5" x2="483.4" y2="51.5" stroke="#222" stroke-width="1"/><text x="477.9" y="55" font-size="10" text-anchor="end">300</text><line x1="481.6" y1="60.8" x2="483.4" y2="60.8" stroke="#222" stroke-width="1"/><line x1="480.4" y1="70.1" x2="483.4" y2="70.1" stroke="#222" stroke-width="1"/><text x="477.9" y="73.6" font-size="10" text-anchor="end">250</text><line x1="481.6" y1="79.4" x2="483.4" y2="79.4" stroke="#222" stroke-width="1"/><line x1="480.4" y1="88.7" x2="483.4" y2="88.7" stroke="#222" stroke-width="1"/><text x="477.9" y="92.2" font-size="10" text-anchor="end">200</text><line x1="481.6" y1="98" x2="483.4" y2="98" stroke="#222" stroke-width="1"/><line x1="480.4" y1="107.3" x2="483.4" y2="107.3" stroke="#222" stroke-width="1"/><text x="477.9" y="110.8" font-size="10" text-anchor="end">150</text><line x1="481.6" y1="116.6" x2="483.4" y2="116.6" stroke="#222" stroke-width="1"/><line x1="480.4" y1="126" x2="483.4" y2="126" stroke="#222" stroke-width="1"/><text x="477.9" y="129.4" font-size="10" text-anchor="end">100</text><line x1="481.6" y1="135.3" x2="483.4" y2="135.3" stroke="#222" stroke-width="1"/><line x1="480.4" y1="144.6" x2="483.4" y2="144.6" stroke="#222" stroke-width="1"/><text x="477.9" y="148.1" font-size="10" text-anchor="end">50</text><line x1="481.6" y1="153.9" x2="483.4" y2="153.9" stroke="#222" stroke-width="1"/><line x1="483.4" y1="163.2" x2="483.4" y2="166.2" stroke="#222" stroke-width="1"/><text x="483.4" y="175.9" font-size="10" text-anchor="middle">3.2</text><line x1="498.9" y1="163.2" x2="498.9" y2="165" stroke="#222" stroke-width="1"/><line x1="514.4" y1="163.2" x2="514.4" y2="166.2" stroke="#222" stroke-width="1"/><text x="514.4" y="175.9" font-size="10" text-anchor="middle">3.4</text><line x1="529.9" y1="163.2" x2="529.9" y2="165" stroke="#222" stroke-width="1"/><line x1="545.4" y1="163.2" x2="545.4" y2="166.2" stroke="#222" stroke-width="1"/><text x="545.4" y="175.9" font-size="10" text-anchor="middle">3.6</text><line x1="560.9" y1="163.2" x2="560.9" y2="165" stroke="#222" stroke-width="1"/><line x1="576.3" y1="163.2" x2="576.3" y2="166.2" stroke="#222" stroke-width="1"/><text x="576.3" y="175.9" font-size="10" text-anchor="middle">3.8</text><line x1="591.8" y1="163.2" x2="591.8" y2="165" stroke="#222" stroke-width="1"/><line x1="607.3" y1="163.2" x2="607.3" y2="166.2" stroke="#222" stroke-width="1"/><text x="607.3" y="175.9" font-size="10" text-anchor="middle">4.0</text><line x1="622.8" y1="163.2" x2="622.8" y2="165" stroke="#222" stroke-width="1"/><line x1="638.3" y1="163.2" x2="638.3" y2="166.2" stroke="#222" stroke-width="1"/><text x="638.3" y="175.9" font-size="10" text-anchor="middle">4.2</text><rect x="640.9" y="14.2" width="12" height="149" fill="url(#gQ)"/><line x1="652.9" y1="14.2" x2="656" y2="14.2" stroke="#222" stroke-width="1"/><text x="658.6" y="17.4" font-size="9.1">0.025</text><line x1="652.9" y1="54" x2="656" y2="54" stroke="#222" stroke-width="1"/><text x="658.6" y="57.2" font-size="9.1">−0.281</text><line x1="652.9" y1="108.8" x2="656" y2="108.8" stroke="#222" stroke-width="1"/><text x="658.6" y="112" font-size="9.1">−0.711</text><line x1="652.9" y1="163.2" x2="656" y2="163.2" stroke="#222" stroke-width="1"/><text x="658.6" y="166.4" font-size="9.1">−1.14</text><text transform="translate(456.5,88.7) rotate(-90)" font-size="12.6" text-anchor="middle" fill="#000">Cycle number</text><text x="561" y="193" font-size="12.6" text-anchor="middle">Voltage (V)</text><line x1="483.4" y1="201.9" x2="483.4" y2="350.7" stroke="#222" stroke-width="1"/><line x1="483.4" y1="350.7" x2="638.3" y2="350.7" stroke="#222" stroke-width="1"/><line x1="480.4" y1="201.9" x2="483.4" y2="201.9" stroke="#222" stroke-width="1"/><text x="477.9" y="205.4" font-size="10" text-anchor="end">400</text><line x1="481.6" y1="211.2" x2="483.4" y2="211.2" stroke="#222" stroke-width="1"/><line x1="480.4" y1="220.5" x2="483.4" y2="220.5" stroke="#222" stroke-width="1"/><text x="477.9" y="224" font-size="10" text-anchor="end">350</text><line x1="481.6" y1="229.8" x2="483.4" y2="229.8" stroke="#222" stroke-width="1"/><line x1="480.4" y1="239.1" x2="483.4" y2="239.1" stroke="#222" stroke-width="1"/><text x="477.9" y="242.6" font-size="10" text-anchor="end">300</text><line x1="481.6" y1="248.4" x2="483.4" y2="248.4" stroke="#222" stroke-width="1"/><line x1="480.4" y1="257.7" x2="483.4" y2="257.7" stroke="#222" stroke-width="1"/><text x="477.9" y="261.2" font-size="10" text-anchor="end">250</text><line x1="481.6" y1="267" x2="483.4" y2="267" stroke="#222" stroke-width="1"/><line x1="480.4" y1="276.3" x2="483.4" y2="276.3" stroke="#222" stroke-width="1"/><text x="477.9" y="279.8" font-size="10" text-anchor="end">200</text><line x1="481.6" y1="285.6" x2="483.4" y2="285.6" stroke="#222" stroke-width="1"/><line x1="480.4" y1="294.9" x2="483.4" y2="294.9" stroke="#222" stroke-width="1"/><text x="477.9" y="298.4" font-size="10" text-anchor="end">150</text><line x1="481.6" y1="304.2" x2="483.4" y2="304.2" stroke="#222" stroke-width="1"/><line x1="480.4" y1="313.5" x2="483.4" y2="313.5" stroke="#222" stroke-width="1"/><text x="477.9" y="317" font-size="10" text-anchor="end">100</text><line x1="481.6" y1="322.8" x2="483.4" y2="322.8" stroke="#222" stroke-width="1"/><line x1="480.4" y1="332.1" x2="483.4" y2="332.1" stroke="#222" stroke-width="1"/><text x="477.9" y="335.6" font-size="10" text-anchor="end">50</text><line x1="481.6" y1="341.4" x2="483.4" y2="341.4" stroke="#222" stroke-width="1"/><line x1="483.4" y1="350.7" x2="483.4" y2="353.7" stroke="#222" stroke-width="1"/><text x="483.4" y="363.4" font-size="10" text-anchor="middle">3.2</text><line x1="498.9" y1="350.7" x2="498.9" y2="352.5" stroke="#222" stroke-width="1"/><line x1="514.4" y1="350.7" x2="514.4" y2="353.7" stroke="#222" stroke-width="1"/><text x="514.4" y="363.4" font-size="10" text-anchor="middle">3.4</text><line x1="529.9" y1="350.7" x2="529.9" y2="352.5" stroke="#222" stroke-width="1"/><line x1="545.4" y1="350.7" x2="545.4" y2="353.7" stroke="#222" stroke-width="1"/><text x="545.4" y="363.4" font-size="10" text-anchor="middle">3.6</text><line x1="560.9" y1="350.7" x2="560.9" y2="352.5" stroke="#222" stroke-width="1"/><line x1="576.3" y1="350.7" x2="576.3" y2="353.7" stroke="#222" stroke-width="1"/><text x="576.3" y="363.4" font-size="10" text-anchor="middle">3.8</text><line x1="591.8" y1="350.7" x2="591.8" y2="352.5" stroke="#222" stroke-width="1"/><line x1="607.3" y1="350.7" x2="607.3" y2="353.7" stroke="#222" stroke-width="1"/><text x="607.3" y="363.4" font-size="10" text-anchor="middle">4.0</text><line x1="622.8" y1="350.7" x2="622.8" y2="352.5" stroke="#222" stroke-width="1"/><line x1="638.3" y1="350.7" x2="638.3" y2="353.7" stroke="#222" stroke-width="1"/><text x="638.3" y="363.4" font-size="10" text-anchor="middle">4.2</text><rect x="640.9" y="201.9" width="12" height="148.8" fill="url(#gQ)"/><line x1="652.9" y1="201.9" x2="656" y2="201.9" stroke="#222" stroke-width="1"/><text x="658.6" y="205.1" font-size="9.1">0.01</text><line x1="652.9" y1="240.1" x2="656" y2="240.1" stroke="#222" stroke-width="1"/><text x="658.6" y="243.3" font-size="9.1">−0.31</text><line x1="652.9" y1="296.5" x2="656" y2="296.5" stroke="#222" stroke-width="1"/><text x="658.6" y="299.7" font-size="9.1">−0.76</text><line x1="652.9" y1="350.7" x2="656" y2="350.7" stroke="#222" stroke-width="1"/><text x="658.6" y="353.9" font-size="9.1">−1.21</text><text transform="translate(456.5,276.3) rotate(-90)" font-size="12.6" text-anchor="middle" fill="#000">Cycle number</text><text x="561" y="381" font-size="12.6" text-anchor="middle">Voltage (V)</text><text x="641.5" y="8.5" font-size="9.9" text-anchor="middle">dQ/dV (mAh V<tspan font-size="7.3" dy="-3.6">−1</tspan><tspan dy="3.6">)</tspan></text><text x="641.5" y="195.6" font-size="9.9" text-anchor="middle">dQ/dV (mAh V<tspan font-size="7.3" dy="-3.6">−1</tspan><tspan dy="3.6">)</tspan></text><text x="485" y="24.5" font-size="10.5">E-F</text><text x="578.5" y="25.7" font-size="10.5">M+H2</text><text x="598.3" y="108.4" font-size="10.5">H2+H3</text><text x="500.3" y="158.5" font-size="10.5">H1+M</text><text x="484.6" y="213" font-size="10.5">E-F@ANM</text><rect x="112.5" y="408" width="132.3" height="304" fill="none" stroke="#333" stroke-width="1"/><line x1="112.5" y1="712" x2="112.5" y2="715" stroke="#222" stroke-width="1"/><text x="112.5" y="724.5" font-size="10" text-anchor="middle">0</text><line x1="125.8" y1="712" x2="125.8" y2="713.8" stroke="#222" stroke-width="1"/><line x1="139" y1="712" x2="139" y2="715" stroke="#222" stroke-width="1"/><text x="139" y="724.5" font-size="10" text-anchor="middle">50</text><line x1="152.2" y1="712" x2="152.2" y2="713.8" stroke="#222" stroke-width="1"/><line x1="165.5" y1="712" x2="165.5" y2="715" stroke="#222" stroke-width="1"/><text x="165.5" y="724.5" font-size="10" text-anchor="middle">100</text><line x1="178.8" y1="712" x2="178.8" y2="713.8" stroke="#222" stroke-width="1"/><line x1="192" y1="712" x2="192" y2="715" stroke="#222" stroke-width="1"/><text x="192" y="724.5" font-size="10" text-anchor="middle">150</text><line x1="205.2" y1="712" x2="205.2" y2="713.8" stroke="#222" stroke-width="1"/><line x1="218.5" y1="712" x2="218.5" y2="715" stroke="#222" stroke-width="1"/><text x="218.5" y="724.5" font-size="10" text-anchor="middle">200</text><line x1="231.8" y1="712" x2="231.8" y2="713.8" stroke="#222" stroke-width="1"/><line x1="245" y1="712" x2="245" y2="715" stroke="#222" stroke-width="1"/><text x="245" y="724.5" font-size="10" text-anchor="middle">250</text><text x="178.7" y="739" font-size="12.6" text-anchor="middle">Z' (Ω)</text><path d="M113.5,713 L113.7,711.7 L113.9,709.8 L114.2,707.8 L114.5,706 L114.8,704.6 L115.2,703.4 L115.6,702.2 L116,701 L116.5,699.7 L116.9,698.5 L117.5,697.2 L118,696 L118.5,694.9 L119.1,693.9 L119.7,692.8 L120.5,691.5 L121.6,689.7 L122.8,687.7 L124.1,685.7 L125.4,684 L126.6,682.8 L127.8,681.8 L128.9,681.1 L130,680.5 L131,680 L131.9,679.7 L132.8,679.5 L134,679.5 L135.5,679.7 L137.3,680 L139.1,680.5 L140.9,681 L142.6,681.6 L144.4,682.2 L146.1,682.9 L147.9,683.7 L149.8,684.7 L151.7,685.8 L153.5,686.9 L155,687.5 L156,687.7 L156.8,687.5 L157.4,687.1 L158,686.5 L158.6,685.7 L159.2,684.7 L159.8,683.5 L160.5,682 L161.3,680.3 L162.2,678.3 L163.1,676.2 L164,674 L164.9,671.7 L165.8,669.3 L166.8,666.7 L168,664 L169.5,661 L171.2,657.9 L173.1,654.6 L175,651.5 L176.9,648.4 L178.8,645.3 L180.8,642.3 L183,639.5 L185.5,636.9 L188.3,634.6 L191.2,632.4 L194,630.5 L196.7,628.9 L199.4,627.5 L202.2,626.4 L205,625.5 L208,624.9 L211,624.5 L214,624.2 L217,624 L220.1,623.8 L223.2,623.7 L226,623.6 L228,623.5 L228,623.5" fill="none" stroke="#6cc9a0" stroke-width="1.2"/><g fill="url(#m0)"><circle cx="113.5" cy="713" r="2.9"/><circle cx="113.8" cy="711" r="2.9"/><circle cx="114" cy="709" r="2.9"/><circle cx="114.3" cy="707.1" r="2.9"/><circle cx="114.7" cy="705.1" r="2.9"/><circle cx="115.3" cy="703.2" r="2.9"/><circle cx="115.9" cy="701.3" r="2.9"/><circle cx="116.6" cy="699.4" r="2.9"/><circle cx="117.3" cy="697.5" r="2.9"/><circle cx="118.1" cy="695.7" r="2.9"/><circle cx="119.1" cy="693.8" r="2.9"/><circle cx="120.3" cy="691.9" r="2.9"/><circle cx="121.4" cy="690" r="2.9"/><circle cx="123.1" cy="687.2" r="2.9"/><circle cx="125" cy="684.5" r="2.9"/><circle cx="127.4" cy="682.1" r="2.9"/><circle cx="130.4" cy="680.3" r="2.9"/><circle cx="134" cy="679.5" r="2.9"/><circle cx="137.6" cy="680.1" r="2.9"/><circle cx="141.2" cy="681.1" r="2.9"/><circle cx="144.7" cy="682.3" r="2.9"/><circle cx="148.1" cy="683.8" r="2.9"/><circle cx="151.4" cy="685.6" r="2.9"/><circle cx="154.8" cy="687.4" r="2.9"/><circle cx="158.1" cy="686.4" r="2.9"/><circle cx="160.3" cy="682.5" r="2.9"/><circle cx="162.1" cy="678.4" r="2.9"/><circle cx="164.5" cy="672.9" r="2.9"/><circle cx="167.1" cy="665.9" r="2.9"/><circle cx="170.5" cy="659.2" r="2.9"/><circle cx="175.1" cy="651.4" r="2.9"/><circle cx="180.3" cy="642.9" r="2.9"/><circle cx="187.1" cy="635.6" r="2.9"/><circle cx="196.1" cy="629.3" r="2.9"/><circle cx="206.2" cy="625.2" r="2.9"/><circle cx="217.2" cy="624" r="2.9"/><circle cx="228" cy="623.5" r="2.9"/></g><path d="M113,690 L113.2,688.7 L113.4,686.8 L113.7,684.8 L114,683 L114.4,681.5 L114.9,680 L115.4,678.7 L116,677.5 L116.7,676.5 L117.4,675.6 L118.2,674.9 L119,674.5 L119.8,674.4 L120.5,674.5 L121.2,674.7 L122,675 L122.8,675.4 L123.5,676 L124.2,676.5 L125,676.5 L125.8,676.1 L126.5,675.3 L127.2,674.3 L128,673 L128.7,671.3 L129.5,669.2 L130.2,667 L131,665 L131.9,663.1 L132.8,661.3 L133.7,659.6 L134.6,658 L135.5,656.5 L136.3,655.1 L137.2,653.9 L138.1,653 L139.1,652.4 L140.1,652.1 L141.2,652 L142.3,652.1 L143.5,652.5 L144.8,653.1 L146.1,654 L147.2,655 L148.2,656.2 L149,657.6 L149.8,659.2 L150.7,660.6 L151.7,662.1 L152.9,663.6 L154,665 L155,666 L155.9,666.7 L156.8,667.1 L157.5,667.2 L158.3,667 L159,666.4 L159.7,665.4 L160.4,664.2 L161,663 L161.6,661.9 L162.1,660.8 L162.6,659.4 L163.3,657.6 L164.1,655.2 L165.1,652.3 L166,649.2 L167,646.4 L168,643.6 L169.1,640.8 L170,638.2 L170.7,636.5 L170.7,636.5" fill="none" stroke="#7ccf9c" stroke-width="1.2"/><g fill="url(#m1)"><circle cx="113" cy="690" r="2.9"/><circle cx="113.2" cy="688.5" r="2.9"/><circle cx="113.4" cy="687" r="2.9"/><circle cx="113.5" cy="685.5" r="2.9"/><circle cx="113.8" cy="684.1" r="2.9"/><circle cx="114.1" cy="682.6" r="2.9"/><circle cx="114.5" cy="681.1" r="2.9"/><circle cx="115" cy="679.7" r="2.9"/><circle cx="115.6" cy="678.3" r="2.9"/><circle cx="116.3" cy="677" r="2.9"/><circle cx="117.3" cy="675.8" r="2.9"/><circle cx="118.5" cy="674.8" r="2.9"/><circle cx="120" cy="674.4" r="2.9"/><circle cx="121.6" cy="674.8" r="2.9"/><circle cx="123" cy="675.6" r="2.9"/><circle cx="124.4" cy="676.5" r="2.9"/><circle cx="125.9" cy="675.9" r="2.9"/><circle cx="127.1" cy="674.6" r="2.9"/><circle cx="128" cy="673" r="2.9"/><circle cx="128.7" cy="671.4" r="2.9"/><circle cx="129.9" cy="667.8" r="2.9"/><circle cx="131.3" cy="664.3" r="2.9"/><circle cx="133" cy="660.8" r="2.9"/><circle cx="134.9" cy="657.5" r="2.9"/><circle cx="136.9" cy="654.3" r="2.9"/><circle cx="139.9" cy="652.1" r="2.9"/><circle cx="143.6" cy="652.5" r="2.9"/><circle cx="146.8" cy="654.6" r="2.9"/><circle cx="149" cy="657.6" r="2.9"/><circle cx="150.9" cy="660.9" r="2.9"/><circle cx="153.2" cy="664" r="2.9"/><circle cx="155.9" cy="666.6" r="2.9"/><circle cx="159.2" cy="666.2" r="2.9"/><circle cx="161.1" cy="662.7" r="2.9"/><circle cx="162.9" cy="658.6" r="2.9"/><circle cx="164.4" cy="654.3" r="2.9"/><circle cx="165.9" cy="649.6" r="2.9"/><circle cx="167.6" cy="644.9" r="2.9"/><circle cx="169.3" cy="640.2" r="2.9"/><circle cx="170.7" cy="636.5" r="2.9"/></g><path d="M112.8,672 L112.9,670.6 L113,668.6 L113.2,666.3 L113.5,664 L113.9,661.8 L114.4,659.4 L114.9,657.1 L115.5,655 L116.1,653.2 L116.7,651.6 L117.4,650.1 L118,649 L118.6,648.2 L119.2,647.6 L119.8,647.3 L120.5,647.2 L121.2,647.4 L122,648 L122.8,648.7 L123.5,649.5 L124.2,650.6 L124.9,652 L125.6,653.1 L126.2,653.5 L126.8,652.8 L127.4,651.4 L128,649.7 L128.5,648 L129,646.4 L129.5,644.7 L130,643 L130.5,641.5 L131.1,640.1 L131.7,638.7 L132.3,637.4 L133,636.5 L133.7,635.8 L134.4,635.2 L135.2,635 L136,635.3 L136.8,636.3 L137.7,637.8 L138.6,639.5 L139.5,641 L140.4,642.5 L141.3,644.1 L142.2,645.4 L143,646 L143.6,645.8 L144.2,644.9 L144.6,643.6 L145,642 L145.3,640 L145.5,637.5 L145.7,634.9 L146,632.5 L146.3,630.3 L146.7,628.3 L147,626.2 L147.5,624 L148.1,621.4 L148.8,618.6 L149.5,616 L150,614.2 L150,614.2" fill="none" stroke="#8fd59b" stroke-width="1.2"/><g fill="url(#m2)"><circle cx="112.8" cy="672" r="2.9"/><circle cx="112.9" cy="670.5" r="2.9"/><circle cx="113" cy="669" r="2.9"/><circle cx="113.1" cy="667.5" r="2.9"/><circle cx="113.2" cy="666" r="2.9"/><circle cx="113.4" cy="664.5" r="2.9"/><circle cx="113.7" cy="663" r="2.9"/><circle cx="113.9" cy="661.6" r="2.9"/><circle cx="114.2" cy="660.1" r="2.9"/><circle cx="114.6" cy="658.6" r="2.9"/><circle cx="114.9" cy="657.2" r="2.9"/><circle cx="115.3" cy="655.7" r="2.9"/><circle cx="115.7" cy="654.3" r="2.9"/><circle cx="116.2" cy="652.8" r="2.9"/><circle cx="116.8" cy="651.3" r="2.9"/><circle cx="117.5" cy="649.8" r="2.9"/><circle cx="118.4" cy="648.5" r="2.9"/><circle cx="119.5" cy="647.4" r="2.9"/><circle cx="121" cy="647.4" r="2.9"/><circle cx="122.4" cy="648.4" r="2.9"/><circle cx="123.6" cy="649.6" r="2.9"/><circle cx="124.5" cy="651.2" r="2.9"/><circle cx="125.3" cy="652.8" r="2.9"/><circle cx="126.6" cy="653.1" r="2.9"/><circle cx="128" cy="649.6" r="2.9"/><circle cx="129.1" cy="646" r="2.9"/><circle cx="130.2" cy="642.3" r="2.9"/><circle cx="131.6" cy="638.8" r="2.9"/><circle cx="133.8" cy="635.7" r="2.9"/><circle cx="136.9" cy="636.3" r="2.9"/><circle cx="138.7" cy="639.6" r="2.9"/><circle cx="140.6" cy="642.9" r="2.9"/><circle cx="142.8" cy="645.9" r="2.9"/><circle cx="144.7" cy="643.1" r="2.9"/><circle cx="145.4" cy="639.3" r="2.9"/><circle cx="145.7" cy="634.8" r="2.9"/><circle cx="146.3" cy="630.4" r="2.9"/><circle cx="147.2" cy="625.5" r="2.9"/><circle cx="148.3" cy="620.6" r="2.9"/><circle cx="149.7" cy="615.3" r="2.9"/></g><path d="M113,646 L113.1,644.6 L113.2,642.5 L113.3,640.2 L113.6,638 L114,635.9 L114.4,633.8 L115,631.8 L115.5,630 L116.1,628.5 L116.7,627.1 L117.3,625.9 L118,625 L118.8,624.3 L119.7,623.8 L120.6,623.5 L121.5,623.4 L122.4,623.6 L123.2,624.1 L124.1,624.7 L125,625.5 L125.9,626.5 L126.8,627.6 L127.7,628.9 L128.5,630 L129.3,631.3 L130.1,632.8 L130.9,633.9 L131.5,634 L132,632.9 L132.4,630.9 L132.7,628.5 L133,626 L133.2,623.6 L133.3,620.9 L133.4,618.1 L133.8,615 L134.4,611.5 L135.2,607.7 L136.1,603.8 L137,600 L138,596.3 L139,592.6 L140.1,589.1 L141,586 L141.8,583.4 L142.5,581.1 L143.2,579.1 L144,577 L144.8,574.8 L145.7,572.7 L146.6,570.7 L147.5,569 L148.5,567.8 L149.5,566.9 L150.6,566 L151.8,564.6 L153.3,562.5 L154.9,559.8 L156.6,557.2 L158.2,555 L159.7,553.4 L161.1,552.1 L162.5,551 L164,550 L165.5,549.1 L167,548.4 L168.6,547.8 L170.2,547.3 L171.8,547 L173.5,546.8 L175.3,546.8 L177,546.8 L178.7,546.7 L180.4,546.7 L182.2,546.8 L184.3,547.5 L186.8,548.8 L189.5,550.5 L192.4,552.6 L195,554.8 L197.4,557.3 L199.7,560.1 L201.9,563.1 L204.1,565.9 L206.2,568.7 L208.2,571.5 L210.2,574.2 L212.1,576.6 L214,578.6 L215.9,580.3 L217.8,581.8 L219.7,583.3 L221.7,584.7 L223.7,586.1 L225.7,587.3 L227.7,588.2 L229.8,588.7 L231.9,588.9 L233.8,589 L235.1,589 L235.1,589" fill="none" stroke="#a9dd94" stroke-width="1.2"/><g fill="url(#m3)"><circle cx="113" cy="646" r="2.9"/><circle cx="113.1" cy="644.5" r="2.9"/><circle cx="113.2" cy="643" r="2.9"/><circle cx="113.2" cy="641.5" r="2.9"/><circle cx="113.4" cy="640" r="2.9"/><circle cx="113.5" cy="638.5" r="2.9"/><circle cx="113.8" cy="637" r="2.9"/><circle cx="114" cy="635.6" r="2.9"/><circle cx="114.4" cy="634.1" r="2.9"/><circle cx="114.7" cy="632.6" r="2.9"/><circle cx="115.1" cy="631.2" r="2.9"/><circle cx="115.6" cy="629.8" r="2.9"/><circle cx="116.1" cy="628.3" r="2.9"/><circle cx="116.8" cy="626.8" r="2.9"/><circle cx="117.6" cy="625.5" r="2.9"/><circle cx="118.8" cy="624.3" r="2.9"/><circle cx="120.3" cy="623.5" r="2.9"/><circle cx="121.9" cy="623.5" r="2.9"/><circle cx="123.5" cy="624.3" r="2.9"/><circle cx="124.9" cy="625.4" r="2.9"/><circle cx="126.1" cy="626.8" r="2.9"/><circle cx="127.2" cy="628.2" r="2.9"/><circle cx="128.2" cy="629.7" r="2.9"/><circle cx="129.2" cy="631.2" r="2.9"/><circle cx="130.1" cy="632.7" r="2.9"/><circle cx="131.2" cy="634.1" r="2.9"/><circle cx="132.1" cy="632.6" r="2.9"/><circle cx="132.7" cy="628.9" r="2.9"/><circle cx="133.1" cy="625.1" r="2.9"/><circle cx="133.3" cy="620.1" r="2.9"/><circle cx="133.8" cy="615.1" r="2.9"/><circle cx="134.7" cy="610.2" r="2.9"/><circle cx="136" cy="604.3" r="2.9"/><circle cx="137.4" cy="598.5" r="2.9"/><circle cx="139.3" cy="591.8" r="2.9"/><circle cx="141.3" cy="585.1" r="2.9"/><circle cx="143.5" cy="578.4" r="2.9"/><circle cx="146" cy="571.9" r="2.9"/><circle cx="150.1" cy="566.4" r="2.9"/><circle cx="154.6" cy="560.4" r="2.9"/><circle cx="159.2" cy="553.9" r="2.9"/><circle cx="165.6" cy="549.1" r="2.9"/><circle cx="173.2" cy="546.9" r="2.9"/><circle cx="182.2" cy="546.8" r="2.9"/><circle cx="190.1" cy="550.9" r="2.9"/><circle cx="196.9" cy="556.8" r="2.9"/><circle cx="202.5" cy="563.8" r="2.9"/><circle cx="207.9" cy="571.1" r="2.9"/><circle cx="213.5" cy="578.1" r="2.9"/><circle cx="220.4" cy="583.8" r="2.9"/><circle cx="227.2" cy="588" r="2.9"/><circle cx="235.1" cy="589" r="2.9"/></g><path d="M113.5,622 L113.7,620.4 L113.9,618.1 L114.2,615.5 L114.5,613 L114.8,610.7 L115.2,608.4 L115.5,606.2 L116,604 L116.5,601.9 L117.2,599.8 L117.8,597.8 L118.5,596 L119.2,594.3 L120,592.7 L120.7,591.2 L121.5,590 L122.2,589 L123,588.2 L123.7,587.7 L124.5,587.5 L125.3,587.6 L126.2,588.1 L127.1,588.9 L128,590 L128.9,591.6 L129.8,593.7 L130.7,595.9 L131.5,598 L132.3,600.2 L133.1,602.4 L133.9,604.5 L134.6,606 L135.2,607 L135.8,607.5 L136.3,607.7 L137,607.5 L137.8,606.8 L138.7,605.7 L139.6,604.3 L140.5,603 L141.4,601.7 L142.3,600.4 L143.2,599.1 L144,598 L144.7,597.2 L145.3,596.6 L145.9,595.8 L146.4,594.6 L146.9,592.7 L147.3,590.3 L147.6,587.6 L148,585 L148.4,582.4 L148.8,579.6 L149.2,576.9 L149.6,574.3 L150.2,571.8 L150.8,569.3 L151.4,567.2 L151.8,565.7 L151.8,565.7" fill="none" stroke="#c8e690" stroke-width="1.2"/><g fill="url(#m4)"><circle cx="113.5" cy="622" r="2.9"/><circle cx="113.7" cy="620.5" r="2.9"/><circle cx="113.8" cy="619" r="2.9"/><circle cx="114" cy="617.5" r="2.9"/><circle cx="114.1" cy="616" r="2.9"/><circle cx="114.3" cy="614.5" r="2.9"/><circle cx="114.5" cy="613.1" r="2.9"/><circle cx="114.7" cy="611.6" r="2.9"/><circle cx="114.9" cy="610.1" r="2.9"/><circle cx="115.1" cy="608.6" r="2.9"/><circle cx="115.4" cy="607.1" r="2.9"/><circle cx="115.6" cy="605.6" r="2.9"/><circle cx="116" cy="604.2" r="2.9"/><circle cx="116.3" cy="602.7" r="2.9"/><circle cx="116.7" cy="601.3" r="2.9"/><circle cx="117.1" cy="599.8" r="2.9"/><circle cx="117.6" cy="598.4" r="2.9"/><circle cx="118.1" cy="597" r="2.9"/><circle cx="118.7" cy="595.6" r="2.9"/><circle cx="119.3" cy="594.1" r="2.9"/><circle cx="120" cy="592.7" r="2.9"/><circle cx="120.7" cy="591.3" r="2.9"/><circle cx="121.6" cy="589.9" r="2.9"/><circle cx="122.6" cy="588.6" r="2.9"/><circle cx="124" cy="587.6" r="2.9"/><circle cx="125.6" cy="587.8" r="2.9"/><circle cx="127.1" cy="588.8" r="2.9"/><circle cx="128.2" cy="590.2" r="2.9"/><circle cx="129" cy="591.8" r="2.9"/><circle cx="129.7" cy="593.5" r="2.9"/><circle cx="130.4" cy="595.2" r="2.9"/><circle cx="131" cy="596.8" r="2.9"/><circle cx="131.7" cy="598.5" r="2.9"/><circle cx="132.3" cy="600.2" r="2.9"/><circle cx="132.9" cy="601.9" r="2.9"/><circle cx="133.5" cy="603.6" r="2.9"/><circle cx="134.2" cy="605.3" r="2.9"/><circle cx="135.1" cy="606.8" r="2.9"/><circle cx="137.2" cy="607.4" r="2.9"/><circle cx="139.1" cy="605.1" r="2.9"/><circle cx="140.8" cy="602.6" r="2.9"/><circle cx="142.8" cy="599.7" r="2.9"/><circle cx="144.9" cy="597" r="2.9"/><circle cx="146.7" cy="593.5" r="2.9"/><circle cx="147.4" cy="589" r="2.9"/><circle cx="148.1" cy="584.6" r="2.9"/><circle cx="148.8" cy="579.1" r="2.9"/><circle cx="149.7" cy="573.7" r="2.9"/><circle cx="151.3" cy="567.4" r="2.9"/></g><path d="M114,600 L114.1,598.2 L114.3,595.6 L114.5,592.7 L114.8,590 L115.1,587.5 L115.4,585.1 L115.8,582.6 L116.2,580 L116.7,577.3 L117.2,574.4 L117.8,571.6 L118.5,569 L119.3,566.6 L120.2,564.3 L121.1,562.2 L122,560.5 L122.9,559.1 L123.8,558 L124.6,557.3 L125.5,557 L126.4,557.2 L127.3,557.7 L128.2,558.7 L129,560 L129.7,561.8 L130.3,564.1 L130.9,566.6 L131.5,569 L132,571.4 L132.5,573.8 L133,576.1 L133.5,578 L134,579.5 L134.5,580.8 L135,581.6 L135.5,582 L136.1,581.9 L136.8,581.2 L137.4,580.3 L138,579 L138.5,577.4 L139,575.4 L139.5,573.3 L140,571 L140.5,568.6 L141,566 L141.5,563.4 L142,561 L142.4,558.9 L142.8,556.9 L143.1,555 L143.5,553 L143.9,550.8 L144.3,548.5 L144.7,546.4 L145,545 L145,545" fill="none" stroke="#e4ec8e" stroke-width="1.2"/><g fill="url(#m5)"><circle cx="114" cy="600" r="2.9"/><circle cx="114.1" cy="598.5" r="2.9"/><circle cx="114.2" cy="597" r="2.9"/><circle cx="114.3" cy="595.5" r="2.9"/><circle cx="114.4" cy="594" r="2.9"/><circle cx="114.6" cy="592.5" r="2.9"/><circle cx="114.7" cy="591" r="2.9"/><circle cx="114.9" cy="589.5" r="2.9"/><circle cx="115" cy="588" r="2.9"/><circle cx="115.2" cy="586.6" r="2.9"/><circle cx="115.4" cy="585.1" r="2.9"/><circle cx="115.6" cy="583.6" r="2.9"/><circle cx="115.8" cy="582.1" r="2.9"/><circle cx="116.1" cy="580.6" r="2.9"/><circle cx="116.4" cy="579.1" r="2.9"/><circle cx="116.6" cy="577.7" r="2.9"/><circle cx="116.9" cy="576.2" r="2.9"/><circle cx="117.2" cy="574.7" r="2.9"/><circle cx="117.5" cy="573.2" r="2.9"/><circle cx="117.8" cy="571.8" r="2.9"/><circle cx="118.1" cy="570.3" r="2.9"/><circle cx="118.5" cy="568.9" r="2.9"/><circle cx="119" cy="567.4" r="2.9"/><circle cx="119.6" cy="565.8" r="2.9"/><circle cx="120.1" cy="564.4" r="2.9"/><circle cx="120.8" cy="562.9" r="2.9"/><circle cx="121.5" cy="561.5" r="2.9"/><circle cx="122.3" cy="560.1" r="2.9"/><circle cx="123.2" cy="558.7" r="2.9"/><circle cx="124.4" cy="557.4" r="2.9"/><circle cx="126" cy="557" r="2.9"/><circle cx="127.5" cy="557.9" r="2.9"/><circle cx="128.6" cy="559.3" r="2.9"/><circle cx="129.4" cy="561" r="2.9"/><circle cx="130" cy="562.7" r="2.9"/><circle cx="130.4" cy="564.4" r="2.9"/><circle cx="130.8" cy="566.2" r="2.9"/><circle cx="131.2" cy="567.9" r="2.9"/><circle cx="131.7" cy="569.7" r="2.9"/><circle cx="132" cy="571.4" r="2.9"/><circle cx="132.4" cy="573.2" r="2.9"/><circle cx="132.8" cy="575" r="2.9"/><circle cx="133.2" cy="576.7" r="2.9"/><circle cx="133.6" cy="578.5" r="2.9"/><circle cx="134.2" cy="580.2" r="2.9"/><circle cx="135.1" cy="581.7" r="2.9"/><circle cx="136.6" cy="581.4" r="2.9"/><circle cx="137.9" cy="579.3" r="2.9"/><circle cx="138.7" cy="576.9" r="2.9"/><circle cx="139.4" cy="574" r="2.9"/><circle cx="140" cy="571.1" r="2.9"/><circle cx="140.6" cy="568.1" r="2.9"/><circle cx="141.3" cy="564.7" r="2.9"/><circle cx="141.9" cy="561.3" r="2.9"/><circle cx="142.6" cy="557.8" r="2.9"/><circle cx="143.3" cy="553.9" r="2.9"/><circle cx="144.1" cy="550" r="2.9"/><circle cx="144.9" cy="545.5" r="2.9"/></g><path d="M113.5,570.5 L113.6,569.5 L113.8,568.1 L114,566.5 L114.3,565 L114.6,563.5 L114.9,562 L115.3,560.5 L115.8,559 L116.4,557.5 L117.1,556.1 L117.8,554.7 L118.5,553.5 L119.2,552.4 L120,551.5 L120.7,550.7 L121.5,550 L122.3,549.5 L123.2,549.1 L124.1,548.8 L125,548.8 L126,549 L127,549.3 L128,549.8 L129,550.5 L129.9,551.4 L130.8,552.5 L131.7,553.8 L132.5,555 L133.2,556.2 L133.8,557.6 L134.4,558.8 L135,560 L135.5,561.1 L136,562.3 L136.5,563.2 L137,563.5 L137.6,563.1 L138.2,562.2 L138.9,561.1 L139.5,560 L140.1,558.9 L140.8,557.8 L141.4,556.6 L142,555.5 L142.6,554.4 L143.2,553.2 L143.7,552.2 L144,551.5 L144,551.5" fill="none" stroke="#ddb264" stroke-width="1.2"/><g fill="url(#m6)"><circle cx="113.5" cy="570.5" r="2.9"/><circle cx="113.7" cy="569.1" r="2.9"/><circle cx="113.9" cy="567.7" r="2.9"/><circle cx="114.1" cy="566.3" r="2.9"/><circle cx="114.3" cy="565" r="2.9"/><circle cx="114.6" cy="563.6" r="2.9"/><circle cx="114.9" cy="562.2" r="2.9"/><circle cx="115.2" cy="560.9" r="2.9"/><circle cx="115.6" cy="559.5" r="2.9"/><circle cx="116.1" cy="558.2" r="2.9"/><circle cx="116.7" cy="556.9" r="2.9"/><circle cx="117.3" cy="555.7" r="2.9"/><circle cx="117.9" cy="554.4" r="2.9"/><circle cx="118.7" cy="553.2" r="2.9"/><circle cx="119.5" cy="552" r="2.9"/><circle cx="120.5" cy="550.9" r="2.9"/><circle cx="121.6" cy="549.9" r="2.9"/><circle cx="123" cy="549.2" r="2.9"/><circle cx="124.4" cy="548.8" r="2.9"/><circle cx="125.9" cy="548.9" r="2.9"/><circle cx="127.4" cy="549.5" r="2.9"/><circle cx="128.8" cy="550.3" r="2.9"/><circle cx="129.9" cy="551.4" r="2.9"/><circle cx="130.9" cy="552.6" r="2.9"/><circle cx="131.8" cy="554" r="2.9"/><circle cx="132.7" cy="555.3" r="2.9"/><circle cx="133.4" cy="556.7" r="2.9"/><circle cx="134.1" cy="558.2" r="2.9"/><circle cx="134.8" cy="559.6" r="2.9"/><circle cx="135.5" cy="561.1" r="2.9"/><circle cx="136.1" cy="562.5" r="2.9"/><circle cx="137.2" cy="563.4" r="2.9"/><circle cx="138.4" cy="561.9" r="2.9"/><circle cx="139.4" cy="560.1" r="2.9"/><circle cx="140.4" cy="558.4" r="2.9"/><circle cx="141.5" cy="556.5" r="2.9"/><circle cx="142.5" cy="554.5" r="2.9"/><circle cx="143.6" cy="552.3" r="2.9"/></g><path d="M114,545.5 L114.1,544.7 L114.3,543.5 L114.5,542.2 L114.8,541 L115.1,539.9 L115.5,538.8 L115.9,537.6 L116.3,536.5 L116.8,535.4 L117.3,534.2 L117.9,533.1 L118.5,532 L119.1,531 L119.8,530 L120.6,529 L121.5,528 L122.6,526.9 L123.9,525.8 L125.2,524.8 L126.5,524 L127.6,523.5 L128.7,523.2 L129.8,523.1 L131,523.2 L132.4,523.5 L134,523.9 L135.6,524.6 L137,525.5 L138.3,526.7 L139.4,528.2 L140.5,529.8 L141.5,531.5 L142.4,533.5 L143.3,535.9 L144.1,537.9 L145,539 L145.9,538.8 L146.8,537.8 L147.6,536.3 L148.5,535 L149.4,533.8 L150.2,532.4 L151.1,531.1 L152,530 L153.2,529.1 L154.5,528.3 L155.7,527.7 L156.5,527.3 L156.5,527.3" fill="none" stroke="#df8a56" stroke-width="1.2"/><g fill="url(#m7)"><circle cx="114" cy="545.5" r="2.9"/><circle cx="114.2" cy="544.1" r="2.9"/><circle cx="114.4" cy="542.7" r="2.9"/><circle cx="114.7" cy="541.4" r="2.9"/><circle cx="115.1" cy="540" r="2.9"/><circle cx="115.5" cy="538.7" r="2.9"/><circle cx="116" cy="537.4" r="2.9"/><circle cx="116.5" cy="536.1" r="2.9"/><circle cx="117" cy="534.8" r="2.9"/><circle cx="117.7" cy="533.5" r="2.9"/><circle cx="118.3" cy="532.3" r="2.9"/><circle cx="119.1" cy="531.1" r="2.9"/><circle cx="119.9" cy="529.9" r="2.9"/><circle cx="120.9" cy="528.7" r="2.9"/><circle cx="121.9" cy="527.6" r="2.9"/><circle cx="123" cy="526.6" r="2.9"/><circle cx="124.1" cy="525.6" r="2.9"/><circle cx="125.3" cy="524.7" r="2.9"/><circle cx="126.6" cy="523.9" r="2.9"/><circle cx="128.1" cy="523.3" r="2.9"/><circle cx="129.7" cy="523.1" r="2.9"/><circle cx="131.3" cy="523.2" r="2.9"/><circle cx="132.8" cy="523.6" r="2.9"/><circle cx="134.4" cy="524.1" r="2.9"/><circle cx="135.8" cy="524.7" r="2.9"/><circle cx="137.1" cy="525.6" r="2.9"/><circle cx="138.3" cy="526.7" r="2.9"/><circle cx="139.3" cy="528" r="2.9"/><circle cx="140.2" cy="529.3" r="2.9"/><circle cx="141" cy="530.7" r="2.9"/><circle cx="141.8" cy="532.1" r="2.9"/><circle cx="142.5" cy="533.7" r="2.9"/><circle cx="143.1" cy="535.4" r="2.9"/><circle cx="143.8" cy="537.1" r="2.9"/><circle cx="144.6" cy="538.7" r="2.9"/><circle cx="146.1" cy="538.6" r="2.9"/><circle cx="147.4" cy="536.8" r="2.9"/><circle cx="148.6" cy="534.9" r="2.9"/><circle cx="150" cy="532.8" r="2.9"/><circle cx="151.4" cy="530.6" r="2.9"/><circle cx="153.4" cy="528.9" r="2.9"/><circle cx="156.1" cy="527.5" r="2.9"/></g><path d="M114,519.7 L114.1,518.9 L114.3,517.6 L114.5,516.3 L114.7,515 L115,513.9 L115.3,512.8 L115.6,511.7 L116,510.5 L116.4,509.2 L116.9,507.8 L117.4,506.4 L118,505 L118.7,503.7 L119.4,502.3 L120.2,501.1 L121,500 L121.8,499.1 L122.7,498.3 L123.6,497.6 L124.5,497 L125.5,496.5 L126.5,496 L127.6,495.8 L128.7,495.8 L129.9,496.2 L131.1,496.8 L132.3,497.7 L133.4,498.7 L134.4,499.9 L135.3,501.3 L136.1,502.9 L137,504.5 L137.9,506.3 L138.7,508.2 L139.6,510 L140.4,511.5 L141.2,512.6 L141.9,513.4 L142.6,513.9 L143.3,514 L144,513.6 L144.8,512.6 L145.5,511.5 L146.2,510.4 L146.8,509.3 L147.3,508 L147.8,506.8 L148.5,505.7 L149.5,504.7 L150.7,503.7 L151.8,502.8 L152.6,502.2 L152.6,502.2" fill="none" stroke="#dc6646" stroke-width="1.2"/><g fill="url(#m8)"><circle cx="114" cy="519.7" r="2.9"/><circle cx="114.2" cy="518.3" r="2.9"/><circle cx="114.4" cy="516.9" r="2.9"/><circle cx="114.6" cy="515.5" r="2.9"/><circle cx="114.9" cy="514.2" r="2.9"/><circle cx="115.3" cy="512.8" r="2.9"/><circle cx="115.7" cy="511.5" r="2.9"/><circle cx="116.1" cy="510.2" r="2.9"/><circle cx="116.5" cy="508.8" r="2.9"/><circle cx="117" cy="507.5" r="2.9"/><circle cx="117.5" cy="506.2" r="2.9"/><circle cx="118" cy="504.9" r="2.9"/><circle cx="118.7" cy="503.6" r="2.9"/><circle cx="119.5" cy="502.3" r="2.9"/><circle cx="120.3" cy="501" r="2.9"/><circle cx="121.2" cy="499.8" r="2.9"/><circle cx="122.2" cy="498.7" r="2.9"/><circle cx="123.3" cy="497.7" r="2.9"/><circle cx="124.6" cy="496.9" r="2.9"/><circle cx="126" cy="496.2" r="2.9"/><circle cx="127.6" cy="495.8" r="2.9"/><circle cx="129.1" cy="495.9" r="2.9"/><circle cx="130.6" cy="496.5" r="2.9"/><circle cx="132" cy="497.4" r="2.9"/><circle cx="133.2" cy="498.5" r="2.9"/><circle cx="134.2" cy="499.7" r="2.9"/><circle cx="135.1" cy="501" r="2.9"/><circle cx="135.9" cy="502.4" r="2.9"/><circle cx="136.6" cy="503.8" r="2.9"/><circle cx="137.4" cy="505.2" r="2.9"/><circle cx="138.1" cy="506.9" r="2.9"/><circle cx="138.9" cy="508.5" r="2.9"/><circle cx="139.6" cy="510.1" r="2.9"/><circle cx="140.5" cy="511.7" r="2.9"/><circle cx="141.9" cy="513.4" r="2.9"/><circle cx="143.8" cy="513.7" r="2.9"/><circle cx="145.4" cy="511.7" r="2.9"/><circle cx="146.7" cy="509.4" r="2.9"/><circle cx="147.9" cy="506.7" r="2.9"/><circle cx="149.8" cy="504.4" r="2.9"/><circle cx="152.3" cy="502.4" r="2.9"/></g><path d="M113.5,496 L113.6,495.3 L113.8,494.2 L114,493.1 L114.2,492 L114.5,491.1 L114.8,490.3 L115.1,489.4 L115.5,488.5 L115.9,487.5 L116.4,486.4 L116.9,485.2 L117.5,484 L118.1,482.7 L118.7,481.2 L119.4,479.8 L120,478.5 L120.6,477.3 L121.2,476.1 L121.8,475 L122.5,474 L123.2,473.1 L124,472.2 L124.7,471.4 L125.5,470.8 L126.3,470.3 L127.1,469.9 L127.9,469.6 L128.7,469.5 L129.5,469.5 L130.3,469.7 L131.2,469.9 L132,470.3 L132.8,470.8 L133.7,471.3 L134.6,472 L135.5,472.8 L136.5,473.8 L137.4,475 L138.5,476.2 L139.5,477.4 L140.6,478.6 L141.7,479.8 L142.8,481 L143.9,481.8 L145,482.3 L146.2,482.5 L147.3,482.6 L148.5,482.6 L149.7,482.6 L150.9,482.6 L152.1,482.4 L153.2,482.1 L154.2,481.6 L155,481 L155.9,480.3 L156.7,479.7 L157.6,479.1 L158.4,478.5 L159.3,477.9 L160.2,477.4 L161.3,476.9 L162.6,476.4 L163.7,476 L164.5,475.7 L164.5,475.7" fill="none" stroke="#d7463a" stroke-width="1.2"/><g fill="url(#m9)"><circle cx="113.5" cy="496" r="2.9"/><circle cx="113.7" cy="494.6" r="2.9"/><circle cx="113.9" cy="493.2" r="2.9"/><circle cx="114.2" cy="491.9" r="2.9"/><circle cx="114.7" cy="490.5" r="2.9"/><circle cx="115.2" cy="489.2" r="2.9"/><circle cx="115.7" cy="487.9" r="2.9"/><circle cx="116.3" cy="486.7" r="2.9"/><circle cx="116.9" cy="485.4" r="2.9"/><circle cx="117.4" cy="484.1" r="2.9"/><circle cx="118" cy="482.8" r="2.9"/><circle cx="118.6" cy="481.5" r="2.9"/><circle cx="119.2" cy="480.1" r="2.9"/><circle cx="119.9" cy="478.7" r="2.9"/><circle cx="120.6" cy="477.4" r="2.9"/><circle cx="121.2" cy="476.1" r="2.9"/><circle cx="122" cy="474.8" r="2.9"/><circle cx="122.8" cy="473.5" r="2.9"/><circle cx="123.9" cy="472.3" r="2.9"/><circle cx="125" cy="471.2" r="2.9"/><circle cx="126.3" cy="470.3" r="2.9"/><circle cx="127.8" cy="469.7" r="2.9"/><circle cx="129.4" cy="469.5" r="2.9"/><circle cx="130.9" cy="469.8" r="2.9"/><circle cx="132.4" cy="470.5" r="2.9"/><circle cx="133.8" cy="471.4" r="2.9"/><circle cx="135.2" cy="472.5" r="2.9"/><circle cx="136.3" cy="473.7" r="2.9"/><circle cx="137.5" cy="475.1" r="2.9"/><circle cx="138.7" cy="476.4" r="2.9"/><circle cx="139.9" cy="477.8" r="2.9"/><circle cx="141.2" cy="479.3" r="2.9"/><circle cx="142.5" cy="480.7" r="2.9"/><circle cx="144.1" cy="481.9" r="2.9"/><circle cx="146.3" cy="482.5" r="2.9"/><circle cx="148.5" cy="482.6" r="2.9"/><circle cx="150.7" cy="482.6" r="2.9"/><circle cx="153.2" cy="482.1" r="2.9"/><circle cx="155.7" cy="480.5" r="2.9"/><circle cx="158.1" cy="478.7" r="2.9"/><circle cx="161" cy="477" r="2.9"/><circle cx="164.3" cy="475.8" r="2.9"/></g><path d="M114.1,470.4 L114.2,469.3 L114.2,467.6 L114.3,465.8 L114.5,464 L114.7,462.4 L114.9,460.8 L115.2,459.1 L115.5,457.5 L115.9,455.8 L116.4,454.2 L116.9,452.5 L117.5,451 L118.1,449.6 L118.7,448.3 L119.4,447.1 L120,446 L120.6,445.1 L121.2,444.3 L121.8,443.7 L122.5,443.2 L123.2,442.8 L124,442.5 L124.7,442.3 L125.5,442.4 L126.3,442.7 L127.1,443.3 L127.9,444.1 L128.7,445 L129.6,446.2 L130.5,447.5 L131.4,449 L132.2,450.5 L133,452 L133.7,453.7 L134.4,455.2 L135.1,456.4 L135.7,457.4 L136.3,458.2 L136.8,458.7 L137.4,458.7 L138,458.1 L138.7,456.9 L139.3,455.5 L139.8,454 L140.2,452.4 L140.4,450.6 L140.6,448.7 L140.9,447 L141.3,445.5 L141.8,444 L142.2,442.6 L142.7,441.2 L143.1,439.9 L143.5,438.6 L144,437.3 L144.5,436 L145.1,434.6 L145.8,433.1 L146.6,431.5 L147.4,430.1 L148.2,428.7 L149,427.4 L149.9,426.1 L150.9,424.9 L152,423.8 L153.1,422.7 L154.3,421.7 L155.5,420.8 L156.7,420.1 L157.8,419.4 L159,418.9 L160.2,418.4 L161.4,418 L162.5,417.7 L163.7,417.5 L164.9,417.3 L166.1,417.1 L167.3,416.9 L168.4,416.7 L169.6,416.7 L170.7,416.8 L171.9,417.1 L173,417.4 L174.2,417.8 L175.5,418.3 L176.8,418.8 L178.2,419.3 L179.5,419.6 L180.8,419.6 L182.1,419.4 L183.4,419.1 L184.7,419 L186,419.1 L187.4,419.3 L188.6,419.5 L189.4,419.6 L189.4,419.6" fill="none" stroke="#d42a20" stroke-width="1.2"/><g fill="url(#m10)"><circle cx="114.1" cy="470.4" r="2.9"/><circle cx="114.2" cy="469" r="2.9"/><circle cx="114.2" cy="467.6" r="2.9"/><circle cx="114.3" cy="466.2" r="2.9"/><circle cx="114.4" cy="464.8" r="2.9"/><circle cx="114.6" cy="463.4" r="2.9"/><circle cx="114.7" cy="462" r="2.9"/><circle cx="114.9" cy="460.6" r="2.9"/><circle cx="115.1" cy="459.3" r="2.9"/><circle cx="115.4" cy="457.9" r="2.9"/><circle cx="115.7" cy="456.5" r="2.9"/><circle cx="116.1" cy="455.2" r="2.9"/><circle cx="116.5" cy="453.8" r="2.9"/><circle cx="116.9" cy="452.5" r="2.9"/><circle cx="117.4" cy="451.2" r="2.9"/><circle cx="118" cy="449.9" r="2.9"/><circle cx="118.6" cy="448.5" r="2.9"/><circle cx="119.3" cy="447.2" r="2.9"/><circle cx="120.1" cy="445.9" r="2.9"/><circle cx="120.9" cy="444.7" r="2.9"/><circle cx="122" cy="443.6" r="2.9"/><circle cx="123.2" cy="442.8" r="2.9"/><circle cx="124.7" cy="442.3" r="2.9"/><circle cx="126.2" cy="442.7" r="2.9"/><circle cx="127.5" cy="443.7" r="2.9"/><circle cx="128.6" cy="444.9" r="2.9"/><circle cx="129.6" cy="446.1" r="2.9"/><circle cx="130.4" cy="447.5" r="2.9"/><circle cx="131.3" cy="448.9" r="2.9"/><circle cx="132.1" cy="450.2" r="2.9"/><circle cx="132.8" cy="451.7" r="2.9"/><circle cx="133.5" cy="453.1" r="2.9"/><circle cx="134.1" cy="454.6" r="2.9"/><circle cx="134.9" cy="456" r="2.9"/><circle cx="135.7" cy="457.4" r="2.9"/><circle cx="136.9" cy="458.7" r="2.9"/><circle cx="138.2" cy="457.8" r="2.9"/><circle cx="139.3" cy="455.5" r="2.9"/><circle cx="140" cy="453.1" r="2.9"/><circle cx="140.5" cy="449.7" r="2.9"/><circle cx="141.1" cy="446.2" r="2.9"/><circle cx="142.3" cy="442.4" r="2.9"/><circle cx="143.5" cy="438.6" r="2.9"/><circle cx="145.2" cy="434.4" r="2.9"/><circle cx="147.5" cy="430" r="2.9"/><circle cx="150.2" cy="425.8" r="2.9"/><circle cx="153.7" cy="422.2" r="2.9"/><circle cx="157.8" cy="419.4" r="2.9"/><circle cx="162.5" cy="417.7" r="2.9"/><circle cx="167.4" cy="416.8" r="2.9"/><circle cx="172.3" cy="417.2" r="2.9"/><circle cx="177.1" cy="418.9" r="2.9"/><circle cx="181.9" cy="419.4" r="2.9"/><circle cx="186.9" cy="419.2" r="2.9"/><circle cx="189.4" cy="419.6" r="2.9"/></g><line x1="182.2" y1="413.5" x2="202.3" y2="413.5" stroke="#6cc9a0" stroke-width="2"/><circle cx="192.3" cy="413.5" r="2.9" fill="url(#m0)"/><text x="204.7" y="417.3" font-size="10.5">C-4.1 V</text><line x1="182.2" y1="426.6" x2="202.3" y2="426.6" stroke="#7ccf9c" stroke-width="2"/><circle cx="192.3" cy="426.6" r="2.9" fill="url(#m1)"/><text x="204.7" y="430.4" font-size="10.5">C-4.3 V</text><line x1="182.2" y1="439.7" x2="202.3" y2="439.7" stroke="#8fd59b" stroke-width="2"/><circle cx="192.3" cy="439.7" r="2.9" fill="url(#m2)"/><text x="204.7" y="443.5" font-size="10.5">C-4.5 V</text><line x1="182.2" y1="452.8" x2="202.3" y2="452.8" stroke="#a9dd94" stroke-width="2"/><circle cx="192.3" cy="452.8" r="2.9" fill="url(#m3)"/><text x="204.7" y="456.6" font-size="10.5">C-4.7 V</text><line x1="182.2" y1="465.9" x2="202.3" y2="465.9" stroke="#c8e690" stroke-width="2"/><circle cx="192.3" cy="465.9" r="2.9" fill="url(#m4)"/><text x="204.7" y="469.7" font-size="10.5">D-4.5 V</text><line x1="182.2" y1="479" x2="202.3" y2="479" stroke="#e4ec8e" stroke-width="2"/><circle cx="192.3" cy="479" r="2.9" fill="url(#m5)"/><text x="204.7" y="482.8" font-size="10.5">D-4.3 V</text><line x1="182.2" y1="492.1" x2="202.3" y2="492.1" stroke="#ddb264" stroke-width="2"/><circle cx="192.3" cy="492.1" r="2.9" fill="url(#m6)"/><text x="204.7" y="495.9" font-size="10.5">D-4.1 V</text><line x1="182.2" y1="505.2" x2="202.3" y2="505.2" stroke="#df8a56" stroke-width="2"/><circle cx="192.3" cy="505.2" r="2.9" fill="url(#m7)"/><text x="204.7" y="509" font-size="10.5">D-3.9 V</text><line x1="182.2" y1="518.3" x2="202.3" y2="518.3" stroke="#dc6646" stroke-width="2"/><circle cx="192.3" cy="518.3" r="2.9" fill="url(#m8)"/><text x="204.7" y="522.1" font-size="10.5">D-3.7 V</text><line x1="182.2" y1="531.4" x2="202.3" y2="531.4" stroke="#d7463a" stroke-width="2"/><circle cx="192.3" cy="531.4" r="2.9" fill="url(#m9)"/><text x="204.7" y="535.2" font-size="10.5">D-3.5 V</text><line x1="182.2" y1="544.5" x2="202.3" y2="544.5" stroke="#d42a20" stroke-width="2"/><circle cx="192.3" cy="544.5" r="2.9" fill="url(#m10)"/><text x="204.7" y="548.3" font-size="10.5">D-3.3 V</text><rect x="292.3" y="407.9" width="132.2" height="304.1" fill="none" stroke="#333" stroke-width="1"/><line x1="292.3" y1="712" x2="292.3" y2="715" stroke="#222" stroke-width="1"/><text x="292.3" y="724.5" font-size="10" text-anchor="middle">0</text><line x1="305.5" y1="712" x2="305.5" y2="713.8" stroke="#222" stroke-width="1"/><line x1="318.7" y1="712" x2="318.7" y2="715" stroke="#222" stroke-width="1"/><text x="318.7" y="724.5" font-size="10" text-anchor="middle">50</text><line x1="331.9" y1="712" x2="331.9" y2="713.8" stroke="#222" stroke-width="1"/><line x1="345.1" y1="712" x2="345.1" y2="715" stroke="#222" stroke-width="1"/><text x="345.1" y="724.5" font-size="10" text-anchor="middle">100</text><line x1="358.3" y1="712" x2="358.3" y2="713.8" stroke="#222" stroke-width="1"/><line x1="371.5" y1="712" x2="371.5" y2="715" stroke="#222" stroke-width="1"/><text x="371.5" y="724.5" font-size="10" text-anchor="middle">150</text><line x1="384.7" y1="712" x2="384.7" y2="713.8" stroke="#222" stroke-width="1"/><line x1="397.9" y1="712" x2="397.9" y2="715" stroke="#222" stroke-width="1"/><text x="397.9" y="724.5" font-size="10" text-anchor="middle">200</text><line x1="411.1" y1="712" x2="411.1" y2="713.8" stroke="#222" stroke-width="1"/><line x1="424.3" y1="712" x2="424.3" y2="715" stroke="#222" stroke-width="1"/><text x="424.3" y="724.5" font-size="10" text-anchor="middle">250</text><text x="358.4" y="739" font-size="12.6" text-anchor="middle">Z' (Ω)</text><path d="M293.6,709.5 L294,709.2 L294.6,708.7 L295.2,708.2 L296,707.5 L296.9,706.8 L297.9,705.9 L298.9,705 L299.8,704 L300.5,703 L301.1,701.9 L301.7,700.8 L302.3,699.6 L302.9,698.3 L303.4,697 L303.9,695.7 L304.5,694.5 L305.1,693.5 L305.8,692.6 L306.4,691.7 L307.2,690.9 L308,690 L309,689 L309.9,688.1 L311,687.6 L312.2,687.4 L313.5,687.6 L314.7,687.9 L315.9,688.4 L316.9,689.1 L317.8,689.9 L318.7,691 L319.6,692.1 L320.6,693.5 L321.6,695.2 L322.5,696.8 L323.3,698 L323.8,698.9 L324.2,699.6 L324.6,699.9 L325,699.6 L325.6,698.6 L326.3,697.1 L327,695.2 L327.6,693.3 L328.2,691.3 L328.7,689.1 L329.2,686.9 L329.6,684.7 L330,682.3 L330.3,679.8 L330.6,677.6 L330.8,676 L330.8,676" fill="none" stroke="#6cc9a0" stroke-width="1.2"/><g fill="url(#m0)"><circle cx="293.6" cy="709.5" r="2.9"/><circle cx="295.3" cy="708.1" r="2.9"/><circle cx="297" cy="706.7" r="2.9"/><circle cx="298.7" cy="705.2" r="2.9"/><circle cx="300.2" cy="703.4" r="2.9"/><circle cx="301.5" cy="701.3" r="2.9"/><circle cx="302.6" cy="699" r="2.9"/><circle cx="303.6" cy="696.5" r="2.9"/><circle cx="304.7" cy="694.1" r="2.9"/><circle cx="306.5" cy="691.7" r="2.9"/><circle cx="308.5" cy="689.4" r="2.9"/><circle cx="311.2" cy="687.6" r="2.9"/><circle cx="314.6" cy="687.9" r="2.9"/><circle cx="317.6" cy="689.7" r="2.9"/><circle cx="319.8" cy="692.4" r="2.9"/><circle cx="321.7" cy="695.3" r="2.9"/><circle cx="323.5" cy="698.3" r="2.9"/><circle cx="325.7" cy="698.4" r="2.9"/><circle cx="327.3" cy="694.2" r="2.9"/><circle cx="328.5" cy="689.9" r="2.9"/><circle cx="329.6" cy="684.5" r="2.9"/><circle cx="330.5" cy="678.1" r="2.9"/></g><path d="M292.8,694 L293,692.9 L293.3,691.4 L293.6,689.6 L294,688 L294.4,686.5 L294.9,685 L295.4,683.5 L296,682 L296.6,680.5 L297.2,678.9 L297.8,677.4 L298.5,676 L299.2,674.7 L300,673.5 L300.7,672.4 L301.5,671.5 L302.2,670.9 L303,670.5 L303.7,670.3 L304.5,670.2 L305.4,670.2 L306.3,670.4 L307.2,670.7 L308,671.2 L308.7,671.8 L309.3,672.7 L309.9,673.6 L310.5,674.5 L311,675.7 L311.6,677 L312.1,678.1 L312.6,678.6 L313.2,678.2 L313.8,677.2 L314.5,675.9 L315,674.5 L315.4,673 L315.8,671.4 L316.1,669.7 L316.5,668 L317,666.2 L317.4,664.3 L317.9,662.7 L318.2,661.5 L318.2,661.5" fill="none" stroke="#7ccf9c" stroke-width="1.2"/><g fill="url(#m1)"><circle cx="292.8" cy="694" r="2.9"/><circle cx="293.1" cy="692.5" r="2.9"/><circle cx="293.3" cy="691" r="2.9"/><circle cx="293.6" cy="689.6" r="2.9"/><circle cx="294" cy="688.1" r="2.9"/><circle cx="294.4" cy="686.7" r="2.9"/><circle cx="294.8" cy="685.2" r="2.9"/><circle cx="295.3" cy="683.8" r="2.9"/><circle cx="295.8" cy="682.4" r="2.9"/><circle cx="296.4" cy="681" r="2.9"/><circle cx="296.9" cy="679.6" r="2.9"/><circle cx="297.5" cy="678.2" r="2.9"/><circle cx="298.1" cy="676.9" r="2.9"/><circle cx="298.8" cy="675.5" r="2.9"/><circle cx="299.6" cy="674.1" r="2.9"/><circle cx="300.4" cy="672.8" r="2.9"/><circle cx="301.4" cy="671.6" r="2.9"/><circle cx="302.7" cy="670.6" r="2.9"/><circle cx="304.3" cy="670.2" r="2.9"/><circle cx="305.9" cy="670.3" r="2.9"/><circle cx="307.4" cy="670.8" r="2.9"/><circle cx="308.6" cy="671.8" r="2.9"/><circle cx="309.6" cy="673.1" r="2.9"/><circle cx="310.4" cy="674.4" r="2.9"/><circle cx="311.1" cy="675.9" r="2.9"/><circle cx="311.7" cy="677.4" r="2.9"/><circle cx="312.6" cy="678.6" r="2.9"/><circle cx="313.9" cy="677.1" r="2.9"/><circle cx="314.7" cy="675.3" r="2.9"/><circle cx="315.3" cy="673.4" r="2.9"/><circle cx="315.9" cy="671" r="2.9"/><circle cx="316.4" cy="668.5" r="2.9"/><circle cx="317" cy="666.1" r="2.9"/><circle cx="317.7" cy="663.2" r="2.9"/><circle cx="318.2" cy="661.5" r="2.9"/></g><path d="M292.8,672.5 L292.9,671.5 L293.1,670.1 L293.3,668.5 L293.6,667 L293.9,665.7 L294.2,664.4 L294.6,663.1 L295,662 L295.4,661 L295.9,660 L296.5,659.2 L297,658.5 L297.6,657.9 L298.2,657.4 L298.9,657.1 L299.5,657 L300.1,657.2 L300.8,657.7 L301.4,658.3 L302,659 L302.6,660 L303.1,661.2 L303.6,662.2 L304,662.5 L304.4,662 L304.7,660.9 L305,659.4 L305.2,658 L305.3,656.6 L305.4,655 L305.4,653.3 L305.5,651.6 L305.6,649.8 L305.7,647.9 L305.9,646 L306,644 L306.1,642 L306.2,640 L306.4,637.9 L306.5,636 L306.7,634 L306.9,632 L307.1,630.2 L307.2,629 L307.2,629" fill="none" stroke="#8fd59b" stroke-width="1.2"/><g fill="url(#m2)"><circle cx="292.8" cy="672.5" r="2.9"/><circle cx="293" cy="671" r="2.9"/><circle cx="293.2" cy="669.5" r="2.9"/><circle cx="293.4" cy="668" r="2.9"/><circle cx="293.7" cy="666.6" r="2.9"/><circle cx="294" cy="665.1" r="2.9"/><circle cx="294.4" cy="663.7" r="2.9"/><circle cx="294.9" cy="662.2" r="2.9"/><circle cx="295.5" cy="660.9" r="2.9"/><circle cx="296.2" cy="659.5" r="2.9"/><circle cx="297.1" cy="658.4" r="2.9"/><circle cx="298.3" cy="657.4" r="2.9"/><circle cx="299.7" cy="657" r="2.9"/><circle cx="300.9" cy="657.8" r="2.9"/><circle cx="301.9" cy="658.9" r="2.9"/><circle cx="302.7" cy="660.2" r="2.9"/><circle cx="303.3" cy="661.6" r="2.9"/><circle cx="304.2" cy="662.3" r="2.9"/><circle cx="304.7" cy="660.8" r="2.9"/><circle cx="305" cy="659.2" r="2.9"/><circle cx="305.2" cy="657.6" r="2.9"/><circle cx="305.4" cy="654.1" r="2.9"/><circle cx="305.6" cy="650.6" r="2.9"/><circle cx="305.9" cy="646.1" r="2.9"/><circle cx="306.1" cy="641.7" r="2.9"/><circle cx="306.4" cy="636.7" r="2.9"/><circle cx="306.9" cy="631.7" r="2.9"/><circle cx="307.2" cy="629" r="2.9"/></g><path d="M292.8,648.5 L292.9,647.5 L293.1,646.1 L293.3,644.5 L293.6,643 L293.9,641.7 L294.2,640.4 L294.6,639.1 L295,638 L295.4,637 L295.9,636 L296.4,635.2 L297,634.5 L297.6,634 L298.2,633.6 L298.9,633.4 L299.6,633.3 L300.3,633.4 L301.1,633.6 L301.8,634 L302.5,634.5 L303.2,635.2 L303.8,636 L304.4,636.8 L305,637.5 L305.5,638.2 L306,638.9 L306.4,639.3 L306.8,639 L307,637.9 L307.1,636.2 L307.3,634.1 L307.5,632 L307.9,629.7 L308.4,627.2 L308.9,624.8 L309.5,622.5 L310.2,620.5 L310.9,618.5 L311.7,616.9 L312.6,615.5 L313.6,614.5 L314.8,613.9 L315.9,613.5 L317,613.3 L318,613.3 L318.9,613.6 L319.7,614.1 L320.5,614.6 L321.2,615.2 L321.9,616 L322.5,616.8 L323.1,617.6 L323.7,618.5 L324.4,619.4 L325,620.3 L325.7,621.1 L326.4,622 L327.2,622.8 L328,623.5 L328.7,623.7 L329.4,623.3 L330.1,622.4 L330.7,621.2 L331.3,620.2 L331.9,619.3 L332.4,618.4 L332.9,617.5 L333.5,616.3 L334.3,614.7 L335.2,612.8 L336,611 L336.6,609.8 L336.6,609.8" fill="none" stroke="#a9dd94" stroke-width="1.2"/><g fill="url(#m3)"><circle cx="292.8" cy="648.5" r="2.9"/><circle cx="293" cy="647" r="2.9"/><circle cx="293.2" cy="645.5" r="2.9"/><circle cx="293.4" cy="644" r="2.9"/><circle cx="293.7" cy="642.6" r="2.9"/><circle cx="294" cy="641.1" r="2.9"/><circle cx="294.4" cy="639.7" r="2.9"/><circle cx="294.9" cy="638.2" r="2.9"/><circle cx="295.5" cy="636.9" r="2.9"/><circle cx="296.2" cy="635.5" r="2.9"/><circle cx="297.1" cy="634.4" r="2.9"/><circle cx="298.4" cy="633.5" r="2.9"/><circle cx="299.8" cy="633.3" r="2.9"/><circle cx="301.3" cy="633.7" r="2.9"/><circle cx="302.5" cy="634.5" r="2.9"/><circle cx="303.6" cy="635.6" r="2.9"/><circle cx="304.5" cy="636.8" r="2.9"/><circle cx="305.4" cy="638" r="2.9"/><circle cx="306.4" cy="639.2" r="2.9"/><circle cx="307" cy="638" r="2.9"/><circle cx="307.2" cy="634.5" r="2.9"/><circle cx="307.7" cy="631" r="2.9"/><circle cx="308.5" cy="626.6" r="2.9"/><circle cx="309.6" cy="622.2" r="2.9"/><circle cx="311.4" cy="617.5" r="2.9"/><circle cx="314.7" cy="613.9" r="2.9"/><circle cx="319" cy="613.7" r="2.9"/><circle cx="321.9" cy="616.1" r="2.9"/><circle cx="324.2" cy="619.1" r="2.9"/><circle cx="326.5" cy="622.1" r="2.9"/><circle cx="329.5" cy="623.1" r="2.9"/><circle cx="331.5" cy="619.9" r="2.9"/><circle cx="333.7" cy="616" r="2.9"/><circle cx="336" cy="611" r="2.9"/></g><path d="M292.8,624.6 L292.9,623.6 L293.1,622.1 L293.3,620.5 L293.6,619 L293.9,617.7 L294.3,616.4 L294.7,615.1 L295.2,614 L295.7,613 L296.3,612 L296.9,611.2 L297.5,610.5 L298.2,609.9 L298.9,609.3 L299.6,609 L300.4,608.9 L301.2,609.1 L302,609.6 L302.8,610.2 L303.5,611 L304.2,611.9 L304.8,613 L305.4,614.2 L306,615.5 L306.6,617.1 L307.2,618.9 L307.8,620.4 L308.3,621 L308.8,620.3 L309.2,618.7 L309.6,616.8 L310,615 L310.4,613.5 L310.8,612 L311.1,610.5 L311.5,609 L311.9,607.3 L312.4,605.5 L312.8,603.9 L313.1,602.8 L313.1,602.8" fill="none" stroke="#c8e690" stroke-width="1.2"/><g fill="url(#m4)"><circle cx="292.8" cy="624.6" r="2.9"/><circle cx="293" cy="623.2" r="2.9"/><circle cx="293.1" cy="621.8" r="2.9"/><circle cx="293.3" cy="620.4" r="2.9"/><circle cx="293.6" cy="619.1" r="2.9"/><circle cx="293.9" cy="617.7" r="2.9"/><circle cx="294.3" cy="616.4" r="2.9"/><circle cx="294.8" cy="615" r="2.9"/><circle cx="295.3" cy="613.7" r="2.9"/><circle cx="296" cy="612.5" r="2.9"/><circle cx="296.8" cy="611.3" r="2.9"/><circle cx="297.7" cy="610.3" r="2.9"/><circle cx="298.8" cy="609.4" r="2.9"/><circle cx="300.1" cy="608.9" r="2.9"/><circle cx="301.4" cy="609.2" r="2.9"/><circle cx="302.5" cy="610" r="2.9"/><circle cx="303.5" cy="611" r="2.9"/><circle cx="304.3" cy="612.2" r="2.9"/><circle cx="305" cy="613.4" r="2.9"/><circle cx="305.6" cy="614.7" r="2.9"/><circle cx="306.2" cy="615.9" r="2.9"/><circle cx="306.7" cy="617.3" r="2.9"/><circle cx="307.1" cy="618.6" r="2.9"/><circle cx="307.6" cy="619.9" r="2.9"/><circle cx="308.3" cy="621" r="2.9"/><circle cx="309" cy="619.6" r="2.9"/><circle cx="309.4" cy="618" r="2.9"/><circle cx="309.7" cy="616.4" r="2.9"/><circle cx="310" cy="614.9" r="2.9"/><circle cx="310.5" cy="612.9" r="2.9"/><circle cx="311" cy="611" r="2.9"/><circle cx="311.5" cy="609.1" r="2.9"/><circle cx="312" cy="607.1" r="2.9"/><circle cx="312.6" cy="604.7" r="2.9"/><circle cx="313.1" cy="602.8" r="2.9"/></g><path d="M292.8,601 L292.9,600 L293.1,598.5 L293.3,596.9 L293.6,595.5 L293.9,594.3 L294.3,593.1 L294.8,592 L295.2,591 L295.6,590.1 L296,589.4 L296.5,588.7 L297,588.2 L297.5,587.8 L298.1,587.5 L298.7,587.3 L299.4,587.3 L300.1,587.5 L300.9,587.9 L301.8,588.4 L302.5,589 L303.2,589.7 L303.8,590.6 L304.4,591.5 L305,592.5 L305.6,593.8 L306.2,595.4 L306.8,596.7 L307.4,597.2 L308,596.5 L308.5,595 L309.1,593.2 L309.6,591.5 L310,590.1 L310.5,588.7 L310.8,587.3 L311.2,586 L311.6,584.6 L312,583.1 L312.4,581.8 L312.6,580.9 L312.6,580.9" fill="none" stroke="#e4ec8e" stroke-width="1.2"/><g fill="url(#m5)"><circle cx="292.8" cy="601" r="2.9"/><circle cx="293" cy="599.6" r="2.9"/><circle cx="293.1" cy="598.2" r="2.9"/><circle cx="293.3" cy="596.8" r="2.9"/><circle cx="293.6" cy="595.5" r="2.9"/><circle cx="294" cy="594.1" r="2.9"/><circle cx="294.4" cy="592.8" r="2.9"/><circle cx="295" cy="591.5" r="2.9"/><circle cx="295.6" cy="590.2" r="2.9"/><circle cx="296.3" cy="589" r="2.9"/><circle cx="297.2" cy="588" r="2.9"/><circle cx="298.5" cy="587.4" r="2.9"/><circle cx="299.8" cy="587.4" r="2.9"/><circle cx="301.1" cy="588" r="2.9"/><circle cx="302.3" cy="588.8" r="2.9"/><circle cx="303.2" cy="589.8" r="2.9"/><circle cx="304" cy="590.9" r="2.9"/><circle cx="304.8" cy="592.1" r="2.9"/><circle cx="305.4" cy="593.4" r="2.9"/><circle cx="305.9" cy="594.7" r="2.9"/><circle cx="306.4" cy="596" r="2.9"/><circle cx="307.2" cy="597.1" r="2.9"/><circle cx="308.1" cy="596.3" r="2.9"/><circle cx="308.6" cy="594.8" r="2.9"/><circle cx="309.1" cy="593.2" r="2.9"/><circle cx="309.5" cy="591.7" r="2.9"/><circle cx="310" cy="590.2" r="2.9"/><circle cx="310.6" cy="588.3" r="2.9"/><circle cx="311.1" cy="586.3" r="2.9"/><circle cx="311.6" cy="584.4" r="2.9"/><circle cx="312.3" cy="582" r="2.9"/><circle cx="312.6" cy="580.9" r="2.9"/></g><path d="M293.2,579.3 L293.3,578.4 L293.5,577 L293.7,575.5 L294,574 L294.3,572.6 L294.7,571.2 L295.1,569.8 L295.5,568.5 L295.9,567.3 L296.4,566.3 L296.9,565.3 L297.4,564.5 L297.9,563.8 L298.4,563.2 L299,562.8 L299.6,562.7 L300.3,562.8 L301,563.2 L301.8,563.8 L302.5,564.5 L303.2,565.3 L303.8,566.3 L304.4,567.4 L305,568.5 L305.6,569.9 L306.2,571.5 L306.8,572.8 L307.4,573.2 L307.9,572.4 L308.4,570.7 L308.9,568.7 L309.3,567 L309.7,565.7 L310,564.4 L310.3,563.2 L310.6,562 L310.9,560.7 L311.3,559.4 L311.6,558.3 L311.8,557.5 L311.8,557.5" fill="none" stroke="#ddb264" stroke-width="1.2"/><g fill="url(#m6)"><circle cx="293.2" cy="579.3" r="2.9"/><circle cx="293.4" cy="577.9" r="2.9"/><circle cx="293.6" cy="576.5" r="2.9"/><circle cx="293.8" cy="575.1" r="2.9"/><circle cx="294.1" cy="573.8" r="2.9"/><circle cx="294.4" cy="572.4" r="2.9"/><circle cx="294.7" cy="571" r="2.9"/><circle cx="295.1" cy="569.7" r="2.9"/><circle cx="295.5" cy="568.4" r="2.9"/><circle cx="296.1" cy="567.1" r="2.9"/><circle cx="296.6" cy="565.8" r="2.9"/><circle cx="297.3" cy="564.6" r="2.9"/><circle cx="298.2" cy="563.5" r="2.9"/><circle cx="299.3" cy="562.7" r="2.9"/><circle cx="300.7" cy="563" r="2.9"/><circle cx="301.8" cy="563.8" r="2.9"/><circle cx="302.8" cy="564.8" r="2.9"/><circle cx="303.6" cy="566" r="2.9"/><circle cx="304.3" cy="567.2" r="2.9"/><circle cx="305" cy="568.4" r="2.9"/><circle cx="305.5" cy="569.7" r="2.9"/><circle cx="306.1" cy="571" r="2.9"/><circle cx="306.6" cy="572.3" r="2.9"/><circle cx="307.5" cy="573.1" r="2.9"/><circle cx="308.2" cy="571.7" r="2.9"/><circle cx="308.6" cy="570.1" r="2.9"/><circle cx="308.9" cy="568.6" r="2.9"/><circle cx="309.3" cy="567" r="2.9"/><circle cx="309.7" cy="565.5" r="2.9"/><circle cx="310.2" cy="563.5" r="2.9"/><circle cx="310.7" cy="561.6" r="2.9"/><circle cx="311.3" cy="559.2" r="2.9"/><circle cx="311.8" cy="557.5" r="2.9"/></g><path d="M293.2,554.9 L293.3,553.8 L293.5,552.3 L293.7,550.6 L294,549 L294.4,547.5 L294.8,545.9 L295.2,544.4 L295.7,543 L296.2,541.8 L296.7,540.7 L297.2,539.7 L297.8,538.8 L298.4,538 L299.1,537.3 L299.7,536.8 L300.4,536.6 L301.1,536.7 L301.8,537.1 L302.5,537.7 L303.2,538.5 L303.8,539.5 L304.4,540.7 L305,542.1 L305.5,543.5 L306,545.4 L306.5,547.6 L306.9,549.4 L307.4,550.3 L307.9,549.7 L308.5,548.2 L309,546.2 L309.5,544.5 L310,543.1 L310.4,541.7 L310.8,540.3 L311.2,539 L311.6,537.6 L312,536.2 L312.4,534.9 L312.6,534 L312.6,534" fill="none" stroke="#df8a56" stroke-width="1.2"/><g fill="url(#m7)"><circle cx="293.2" cy="554.9" r="2.9"/><circle cx="293.4" cy="553.5" r="2.9"/><circle cx="293.5" cy="552.1" r="2.9"/><circle cx="293.7" cy="550.7" r="2.9"/><circle cx="293.9" cy="549.3" r="2.9"/><circle cx="294.2" cy="548" r="2.9"/><circle cx="294.6" cy="546.6" r="2.9"/><circle cx="294.9" cy="545.3" r="2.9"/><circle cx="295.4" cy="543.9" r="2.9"/><circle cx="295.8" cy="542.6" r="2.9"/><circle cx="296.4" cy="541.3" r="2.9"/><circle cx="297" cy="540.1" r="2.9"/><circle cx="297.7" cy="538.9" r="2.9"/><circle cx="298.6" cy="537.8" r="2.9"/><circle cx="299.6" cy="536.9" r="2.9"/><circle cx="301" cy="536.7" r="2.9"/><circle cx="302.2" cy="537.4" r="2.9"/><circle cx="303.1" cy="538.4" r="2.9"/><circle cx="303.9" cy="539.6" r="2.9"/><circle cx="304.5" cy="540.9" r="2.9"/><circle cx="305" cy="542.2" r="2.9"/><circle cx="305.5" cy="543.5" r="2.9"/><circle cx="305.9" cy="544.8" r="2.9"/><circle cx="306.2" cy="546.2" r="2.9"/><circle cx="306.5" cy="547.6" r="2.9"/><circle cx="306.8" cy="548.9" r="2.9"/><circle cx="307.3" cy="550.2" r="2.9"/><circle cx="308.1" cy="549.3" r="2.9"/><circle cx="308.6" cy="547.8" r="2.9"/><circle cx="309" cy="546.3" r="2.9"/><circle cx="309.4" cy="544.7" r="2.9"/><circle cx="309.9" cy="543.2" r="2.9"/><circle cx="310.5" cy="541.3" r="2.9"/><circle cx="311.1" cy="539.4" r="2.9"/><circle cx="311.6" cy="537.4" r="2.9"/><circle cx="312.3" cy="535" r="2.9"/><circle cx="312.6" cy="534" r="2.9"/></g><path d="M293.2,531.4 L293.3,530.3 L293.5,528.8 L293.7,527.1 L294,525.5 L294.3,524 L294.8,522.5 L295.2,521.1 L295.7,519.8 L296.2,518.7 L296.7,517.7 L297.3,516.8 L298,516 L298.8,515.3 L299.6,514.6 L300.5,514.1 L301.3,514 L302.1,514.3 L303,514.8 L303.8,515.6 L304.5,516.5 L305.2,517.4 L305.8,518.5 L306.4,519.7 L307,521 L307.6,522.7 L308.1,524.6 L308.7,526.3 L309.2,527 L309.7,526.4 L310.2,524.9 L310.7,523.1 L311.2,521.5 L311.7,520.2 L312.1,518.9 L312.5,517.7 L312.9,516.5 L313.3,515.3 L313.8,514 L314.1,513 L314.4,512.2 L314.4,512.2" fill="none" stroke="#dc6646" stroke-width="1.2"/><g fill="url(#m8)"><circle cx="293.2" cy="531.4" r="2.9"/><circle cx="293.4" cy="530" r="2.9"/><circle cx="293.5" cy="528.6" r="2.9"/><circle cx="293.7" cy="527.2" r="2.9"/><circle cx="293.9" cy="525.8" r="2.9"/><circle cx="294.2" cy="524.5" r="2.9"/><circle cx="294.6" cy="523.1" r="2.9"/><circle cx="295" cy="521.8" r="2.9"/><circle cx="295.4" cy="520.5" r="2.9"/><circle cx="296" cy="519.2" r="2.9"/><circle cx="296.6" cy="517.9" r="2.9"/><circle cx="297.4" cy="516.7" r="2.9"/><circle cx="298.3" cy="515.7" r="2.9"/><circle cx="299.4" cy="514.8" r="2.9"/><circle cx="300.6" cy="514.1" r="2.9"/><circle cx="301.9" cy="514.2" r="2.9"/><circle cx="303.1" cy="515" r="2.9"/><circle cx="304.1" cy="516" r="2.9"/><circle cx="304.9" cy="517.1" r="2.9"/><circle cx="305.7" cy="518.3" r="2.9"/><circle cx="306.3" cy="519.5" r="2.9"/><circle cx="306.9" cy="520.8" r="2.9"/><circle cx="307.4" cy="522.1" r="2.9"/><circle cx="307.8" cy="523.4" r="2.9"/><circle cx="308.2" cy="524.8" r="2.9"/><circle cx="308.6" cy="526.1" r="2.9"/><circle cx="309.4" cy="526.9" r="2.9"/><circle cx="310.1" cy="525.4" r="2.9"/><circle cx="310.5" cy="523.9" r="2.9"/><circle cx="310.9" cy="522.3" r="2.9"/><circle cx="311.4" cy="520.8" r="2.9"/><circle cx="312.1" cy="518.9" r="2.9"/><circle cx="312.7" cy="517" r="2.9"/><circle cx="313.4" cy="515.1" r="2.9"/><circle cx="314.2" cy="512.8" r="2.9"/></g><path d="M293.2,507.9 L293.3,506.8 L293.5,505.3 L293.7,503.5 L294,502 L294.3,500.7 L294.7,499.4 L295.1,498.2 L295.5,497 L296,495.7 L296.6,494.4 L297.2,493.1 L297.8,492 L298.5,491.1 L299.1,490.3 L299.9,489.6 L300.6,489 L301.4,488.5 L302.2,488.2 L303.1,487.9 L303.9,487.9 L304.7,488.1 L305.5,488.4 L306.3,488.9 L307,489.5 L307.7,490.3 L308.3,491.3 L308.8,492.4 L309.4,493.5 L310,494.6 L310.5,495.8 L311.1,497 L311.6,498 L312.1,498.9 L312.5,499.7 L313,500.3 L313.5,500.5 L314.1,500.1 L314.7,499.4 L315.4,498.4 L316,497.5 L316.6,496.7 L317.1,495.8 L317.6,494.9 L318.2,494 L318.8,493.1 L319.3,492.2 L319.9,491.4 L320.5,490.5 L321.2,489.5 L321.9,488.5 L322.6,487.6 L323.1,487 L323.1,487" fill="none" stroke="#d7463a" stroke-width="1.2"/><g fill="url(#m9)"><circle cx="293.2" cy="507.9" r="2.9"/><circle cx="293.4" cy="506.5" r="2.9"/><circle cx="293.5" cy="505.1" r="2.9"/><circle cx="293.7" cy="503.7" r="2.9"/><circle cx="293.9" cy="502.3" r="2.9"/><circle cx="294.2" cy="501" r="2.9"/><circle cx="294.6" cy="499.6" r="2.9"/><circle cx="295" cy="498.3" r="2.9"/><circle cx="295.5" cy="497" r="2.9"/><circle cx="296" cy="495.7" r="2.9"/><circle cx="296.6" cy="494.4" r="2.9"/><circle cx="297.2" cy="493.1" r="2.9"/><circle cx="297.9" cy="491.9" r="2.9"/><circle cx="298.7" cy="490.8" r="2.9"/><circle cx="299.6" cy="489.8" r="2.9"/><circle cx="300.7" cy="488.9" r="2.9"/><circle cx="302" cy="488.3" r="2.9"/><circle cx="303.3" cy="487.9" r="2.9"/><circle cx="304.7" cy="488.1" r="2.9"/><circle cx="306" cy="488.7" r="2.9"/><circle cx="307" cy="489.6" r="2.9"/><circle cx="307.9" cy="490.7" r="2.9"/><circle cx="308.6" cy="491.9" r="2.9"/><circle cx="309.2" cy="493.1" r="2.9"/><circle cx="309.8" cy="494.4" r="2.9"/><circle cx="310.5" cy="495.7" r="2.9"/><circle cx="311.1" cy="497.1" r="2.9"/><circle cx="311.8" cy="498.4" r="2.9"/><circle cx="312.6" cy="499.8" r="2.9"/><circle cx="313.9" cy="500.3" r="2.9"/><circle cx="315" cy="499" r="2.9"/><circle cx="316" cy="497.5" r="2.9"/><circle cx="317.2" cy="495.6" r="2.9"/><circle cx="318.4" cy="493.7" r="2.9"/><circle cx="319.7" cy="491.6" r="2.9"/><circle cx="321.2" cy="489.6" r="2.9"/><circle cx="323" cy="487.2" r="2.9"/></g><path d="M293.2,485.2 L293.3,484.1 L293.5,482.5 L293.7,480.7 L294,479 L294.4,477.5 L294.8,475.9 L295.2,474.4 L295.7,473 L296.2,471.7 L296.7,470.6 L297.2,469.5 L297.8,468.5 L298.4,467.5 L299,466.6 L299.6,465.7 L300.3,465 L301,464.4 L301.7,464 L302.4,463.7 L303.1,463.5 L303.8,463.5 L304.6,463.7 L305.3,464 L306,464.5 L306.7,465.3 L307.3,466.2 L307.9,467.4 L308.5,468.5 L309.1,469.7 L309.6,471 L310.2,472.3 L310.7,473.5 L311.2,474.9 L311.7,476.4 L312.2,477.6 L312.6,478 L312.9,477.4 L313.2,476.1 L313.4,474.4 L313.6,473 L313.8,471.8 L314,470.7 L314.1,469.5 L314.3,468.4 L314.5,467.3 L314.8,466.2 L315,465.1 L315.3,463.8 L315.6,462.4 L316,460.9 L316.4,459.3 L316.8,457.6 L317.3,455.8 L317.9,454 L318.5,452.1 L319.1,450 L319.7,447.8 L320.3,445.4 L320.9,442.9 L321.7,440.3 L322.6,437.5 L323.6,434.7 L324.7,431.6 L325.8,428.5 L327.1,424.9 L328.6,420.9 L330,417.2 L330.9,414.7 L330.9,414.7" fill="none" stroke="#d42a20" stroke-width="1.2"/><g fill="url(#m10)"><circle cx="293.2" cy="485.2" r="2.9"/><circle cx="293.4" cy="483.8" r="2.9"/><circle cx="293.5" cy="482.4" r="2.9"/><circle cx="293.7" cy="481" r="2.9"/><circle cx="293.9" cy="479.6" r="2.9"/><circle cx="294.2" cy="478.3" r="2.9"/><circle cx="294.5" cy="476.9" r="2.9"/><circle cx="294.9" cy="475.6" r="2.9"/><circle cx="295.3" cy="474.2" r="2.9"/><circle cx="295.7" cy="472.9" r="2.9"/><circle cx="296.3" cy="471.6" r="2.9"/><circle cx="296.8" cy="470.3" r="2.9"/><circle cx="297.5" cy="469.1" r="2.9"/><circle cx="298.2" cy="467.9" r="2.9"/><circle cx="298.9" cy="466.7" r="2.9"/><circle cx="299.8" cy="465.6" r="2.9"/><circle cx="300.8" cy="464.6" r="2.9"/><circle cx="301.9" cy="463.8" r="2.9"/><circle cx="303.3" cy="463.5" r="2.9"/><circle cx="304.7" cy="463.7" r="2.9"/><circle cx="305.9" cy="464.4" r="2.9"/><circle cx="306.8" cy="465.4" r="2.9"/><circle cx="307.5" cy="466.6" r="2.9"/><circle cx="308.2" cy="467.9" r="2.9"/><circle cx="308.8" cy="469.1" r="2.9"/><circle cx="309.4" cy="470.5" r="2.9"/><circle cx="310" cy="471.9" r="2.9"/><circle cx="310.6" cy="473.2" r="2.9"/><circle cx="311.1" cy="474.6" r="2.9"/><circle cx="311.6" cy="476.2" r="2.9"/><circle cx="312.2" cy="477.6" r="2.9"/><circle cx="313" cy="477" r="2.9"/><circle cx="313.3" cy="475.3" r="2.9"/><circle cx="313.5" cy="473.5" r="2.9"/><circle cx="313.8" cy="471.7" r="2.9"/><circle cx="314.2" cy="468.7" r="2.9"/><circle cx="314.8" cy="465.8" r="2.9"/><circle cx="315.9" cy="461.3" r="2.9"/><circle cx="317.5" cy="455.3" r="2.9"/><circle cx="319.7" cy="447.6" r="2.9"/><circle cx="322.4" cy="438" r="2.9"/><circle cx="326.6" cy="426.2" r="2.9"/><circle cx="330.9" cy="414.7" r="2.9"/></g><line x1="361.2" y1="414.2" x2="381" y2="414.2" stroke="#6cc9a0" stroke-width="2"/><circle cx="371.2" cy="414.2" r="2.9" fill="url(#m0)"/><text x="384.4" y="418" font-size="10.5">C-4.1 V</text><line x1="361.2" y1="427.3" x2="381" y2="427.3" stroke="#7ccf9c" stroke-width="2"/><circle cx="371.2" cy="427.3" r="2.9" fill="url(#m1)"/><text x="384.4" y="431.1" font-size="10.5">C-4.3 V</text><line x1="361.2" y1="440.4" x2="381" y2="440.4" stroke="#8fd59b" stroke-width="2"/><circle cx="371.2" cy="440.4" r="2.9" fill="url(#m2)"/><text x="384.4" y="444.2" font-size="10.5">C-4.5 V</text><line x1="361.2" y1="453.5" x2="381" y2="453.5" stroke="#a9dd94" stroke-width="2"/><circle cx="371.2" cy="453.5" r="2.9" fill="url(#m3)"/><text x="384.4" y="457.3" font-size="10.5">C-4.7 V</text><line x1="361.2" y1="466.6" x2="381" y2="466.6" stroke="#c8e690" stroke-width="2"/><circle cx="371.2" cy="466.6" r="2.9" fill="url(#m4)"/><text x="384.4" y="470.4" font-size="10.5">D-4.5 V</text><line x1="361.2" y1="479.7" x2="381" y2="479.7" stroke="#e4ec8e" stroke-width="2"/><circle cx="371.2" cy="479.7" r="2.9" fill="url(#m5)"/><text x="384.4" y="483.5" font-size="10.5">D-4.3 V</text><line x1="361.2" y1="492.8" x2="381" y2="492.8" stroke="#ddb264" stroke-width="2"/><circle cx="371.2" cy="492.8" r="2.9" fill="url(#m6)"/><text x="384.4" y="496.6" font-size="10.5">D-4.1 V</text><line x1="361.2" y1="505.9" x2="381" y2="505.9" stroke="#df8a56" stroke-width="2"/><circle cx="371.2" cy="505.9" r="2.9" fill="url(#m7)"/><text x="384.4" y="509.7" font-size="10.5">D-3.9 V</text><line x1="361.2" y1="519" x2="381" y2="519" stroke="#dc6646" stroke-width="2"/><circle cx="371.2" cy="519" r="2.9" fill="url(#m8)"/><text x="384.4" y="522.8" font-size="10.5">D-3.7 V</text><line x1="361.2" y1="532.1" x2="381" y2="532.1" stroke="#d7463a" stroke-width="2"/><circle cx="371.2" cy="532.1" r="2.9" fill="url(#m9)"/><text x="384.4" y="535.9" font-size="10.5">D-3.5 V</text><line x1="361.2" y1="545.2" x2="381" y2="545.2" stroke="#d42a20" stroke-width="2"/><circle cx="371.2" cy="545.2" r="2.9" fill="url(#m10)"/><text x="384.4" y="549" font-size="10.5">D-3.3 V</text><text transform="translate(91.3,560) rotate(-90)" font-size="13" text-anchor="middle" fill="#000">−Z'' (Ω)</text><text transform="translate(284.3,560) rotate(-90)" font-size="13" text-anchor="middle" fill="#000">−Z'' (Ω)</text><path d="M67.7,432.9 L81.5,446.9 L74.7,446.9 L74.7,553.4 L81.5,553.4 L67.7,567.4 L53.9,553.4 L60.7,553.4 L60.7,446.9 L53.9,446.9Z" fill="url(#gDis)"/><path d="M68.9,567.4 L83.9,582.4 L76.4,582.4 L76.4,678.2 L83.9,678.2 L68.9,693.2 L53.9,678.2 L61.4,678.2 L61.4,582.4 L53.9,582.4Z" fill="url(#gCh)"/><text transform="translate(47,501.6) rotate(-90)" font-size="21.5" text-anchor="middle" fill="#d4302a" font-style="italic">Discharge</text><text transform="translate(46.7,631.7) rotate(-90)" font-size="21.3" text-anchor="middle" fill="#72c8a0" font-style="italic">Charge</text><path d="M476,489 C477,486.5 479.8,478.4 482,474 C484.2,469.6 487.2,463.3 489.4,462.5 C491.6,461.7 493.2,466.2 495,469 C496.8,471.8 498.2,476.5 500,479 C501.8,481.5 503.5,483 506,484 C508.5,485 511.8,485.1 515,485 C518.2,484.9 521.5,484.2 525,483.5 C528.5,482.8 532.2,481.5 536,480.5 C539.8,479.5 544.4,478 547.7,477.7 C551,477.4 553.3,478.3 556,478.5 C558.7,478.7 561.3,479 564,479 C566.7,479 569.2,478.7 572,478.5 C574.8,478.3 578.3,478.2 581,477.7 C583.7,477.2 585.8,476.4 588,475.5 C590.2,474.6 592,472.9 594,472 C596,471.1 598.8,465.3 600,470 C601.2,474.7 601.3,493.7 601,500 C600.7,506.3 599.3,506.8 598,508 C596.7,509.2 594.3,503.7 593,507 C591.7,510.3 591.3,525.5 590,528 C588.7,530.5 586.8,522.8 585,522 C583.2,521.2 580.8,522.2 579,523.4 C577.2,524.6 576.7,528 574,529 C571.3,530 566.7,529.5 563,529.6 C559.3,529.7 556.7,529.7 552,529.6 C547.3,529.5 539.7,529.2 534.7,529 C529.7,528.8 525.3,528.2 522,528.3 C518.7,528.4 517.5,528.6 514.8,529.6 C512.1,530.6 509,535.1 506,534.5 C503,533.9 500,530.1 497,526 C494,521.9 491.5,516.2 488,510 C484.5,503.8 478,492.5 476,489Z" fill="url(#gBack)"/><path d="M476,489 C477,486.5 479.8,478.4 482,474 C484.2,469.6 487.6,463.8 489.4,462.5 C491.1,461.2 491.6,463.9 492.5,466 C493.4,468.1 494.1,471 495,475 C495.9,479 496.8,484.5 498,490 C499.2,495.5 500.7,502.3 502,508 C503.3,513.7 505,519.8 506,524 C507,528.2 508,531.2 508,533 C508,534.8 507.7,535.5 506,534.5 C504.3,533.5 501,531.1 498,527 C495,522.9 491.7,516.3 488,510 C484.3,503.7 478,492.5 476,489Z" fill="url(#gLeft)"/><path d="M514.8,529.6 C515.5,527.8 517.6,523.3 519,519 C520.4,514.7 521.7,508.3 523,504 C524.3,499.7 525.8,495.6 527,493 C528.2,490.4 529.1,489.4 530,488.5 C530.9,487.6 531.5,487.4 532.2,487.4 C533,487.4 533.5,487.4 534.5,488.5 C535.5,489.6 536.6,491.4 538,494 C539.4,496.6 541.2,500.7 543,504 C544.8,507.3 546.8,511.2 549,514 C551.2,516.8 553.3,518.8 556,520.5 C558.7,522.2 562,523.1 565,524.5 C568,525.9 574.3,528.1 574,529 C573.7,529.9 566.7,529.5 563,529.6 C559.3,529.7 556.7,529.8 552,529.8 C547.3,529.8 539.7,529.7 534.7,529.5 C529.7,529.3 525.3,528.8 522,528.8 C518.7,528.8 516,529.5 514.8,529.6Z" fill="url(#gMid)"/><path d="M564,503 C565.2,502 568.8,498.4 571,497 C573.2,495.6 575,494.5 577,494.5 C579,494.5 581.8,495.6 583,497 C584.2,498.4 584.8,501.5 584,503 C583.2,504.5 580.3,505.5 578,506 C575.7,506.5 572.3,506.5 570,506 C567.7,505.5 565,503.5 564,503Z" fill="#88cfa4"/><path d="M579,523.4 C579.4,521.8 580.7,517.6 581.5,514 C582.3,510.4 583.2,506 584,502 C584.8,498 585.6,493.2 586.5,490 C587.4,486.8 588.4,484.7 589.5,483 C590.6,481.3 591.9,480.3 593,480 C594.1,479.7 595.3,479 596,481 C596.7,483 597,488 597,492 C597,496 596.7,502.5 596,505 C595.3,507.5 594,503.2 593,507 C592,510.8 591.3,525.5 590,528 C588.7,530.5 586.8,522.8 585,522 C583.2,521.2 580,523.2 579,523.4Z" fill="url(#gMid2)"/><path d="M594.2,507.2 C594.2,504.3 594.2,495.2 594.4,490 C594.6,484.8 595.1,481 595.5,476 C595.9,471 596.4,466 597,460 C597.6,454 598.2,446.7 599,440 C599.8,433.3 600.6,426.3 601.5,420 C602.4,413.7 603.6,406.4 604.5,402 C605.4,397.6 606.1,395.3 606.8,393.5 C607.5,391.7 608,391.2 608.7,391 C609.4,390.8 610.1,391.1 610.8,392 C611.5,392.9 612.2,394.5 613,396.5 C613.8,398.5 614.6,401.7 615.5,404 C616.4,406.3 617.5,408.8 618.5,410.5 C619.5,412.2 620.4,413 621.2,414.2 C622,415.4 622.8,415.9 623.5,417.5 C624.2,419.1 624.8,421.2 625.5,424 C626.2,426.8 626.8,430.7 627.5,434 C628.2,437.3 628.9,441.6 629.5,444 C630.1,446.4 630.4,447.9 631,448.3 C631.6,448.7 632.3,447.6 633,446.5 C633.7,445.4 634.3,442.8 635,441.5 C635.7,440.2 636.5,438.8 637.2,438.5 C637.9,438.2 638.5,438.6 639,440 C639.5,441.4 640,443.7 640.3,447 C640.6,450.3 640.8,454.5 641,460 C641.2,465.5 641.2,472.5 641.3,480 C641.4,487.5 640.9,498.7 641.5,505 C642.1,511.3 643.7,514.6 645,518 C646.3,521.4 648.9,524.2 649.5,525.5 C650.1,526.8 649.9,526.5 648.8,525.8 C647.7,525 644.6,522.6 643,521 C641.4,519.4 640.4,517.6 638.9,515.9 C637.4,514.2 635.6,512.2 634,511 C632.4,509.8 630.7,508.8 629,508.5 C627.3,508.2 625.7,509.1 624,509.5 C622.3,509.9 620.8,510 619,511 C617.2,512 615.1,513.9 613,515.5 C610.9,517.1 608.3,519.8 606.6,520.9 C604.9,522 604.3,523.1 602.9,522.1 C601.5,521.1 599.5,517.5 598,515 C596.5,512.5 594.8,508.5 594.2,507.2Z" fill="url(#gRed)"/><line x1="546.2" y1="477.7" x2="580.4" y2="535.5" stroke="#111" stroke-width="1.3" stroke-dasharray="3.9,3"/><line x1="475.7" y1="491" x2="504.9" y2="545.7" stroke="#222" stroke-width="1"/><line x1="473.5" y1="491" x2="475.7" y2="491" stroke="#222" stroke-width="0.8"/><text x="472.9" y="493.5" font-size="7.2" text-anchor="end">D-3.3 V</text><line x1="476.7" y1="497.1" x2="478.9" y2="497.1" stroke="#222" stroke-width="0.8"/><text x="476.1" y="499.6" font-size="7.2" text-anchor="end">D-3.5 V</text><line x1="480" y1="503.2" x2="482.2" y2="503.2" stroke="#222" stroke-width="0.8"/><text x="479.4" y="505.7" font-size="7.2" text-anchor="end">D-3.7 V</text><line x1="483.2" y1="509.2" x2="485.4" y2="509.2" stroke="#222" stroke-width="0.8"/><text x="482.6" y="511.7" font-size="7.2" text-anchor="end">D-3.9 V</text><line x1="486.5" y1="515.3" x2="488.7" y2="515.3" stroke="#222" stroke-width="0.8"/><text x="485.9" y="517.8" font-size="7.2" text-anchor="end">D-4.3 V</text><line x1="489.7" y1="521.4" x2="491.9" y2="521.4" stroke="#222" stroke-width="0.8"/><text x="489.1" y="523.9" font-size="7.2" text-anchor="end">D-4.5 V</text><line x1="493" y1="527.5" x2="495.2" y2="527.5" stroke="#222" stroke-width="0.8"/><text x="492.4" y="530" font-size="7.2" text-anchor="end">C-4.7 V</text><line x1="496.2" y1="533.5" x2="498.4" y2="533.5" stroke="#222" stroke-width="0.8"/><text x="495.6" y="536" font-size="7.2" text-anchor="end">C-4.5 V</text><line x1="499.5" y1="539.6" x2="501.7" y2="539.6" stroke="#222" stroke-width="0.8"/><text x="498.9" y="542.1" font-size="7.2" text-anchor="end">C-4.3 V</text><line x1="502.7" y1="545.7" x2="504.9" y2="545.7" stroke="#222" stroke-width="0.8"/><text x="502.1" y="548.2" font-size="7.2" text-anchor="end">C-4.1 V</text><line x1="504.9" y1="545.7" x2="650.8" y2="526.9" stroke="#222" stroke-width="1"/><line x1="504.9" y1="545.7" x2="504.9" y2="548.7" stroke="#222" stroke-width="0.8"/><line x1="512.2" y1="544.8" x2="512.2" y2="546.5" stroke="#222" stroke-width="0.8"/><line x1="516.5" y1="544.2" x2="516.5" y2="545.9" stroke="#222" stroke-width="0.8"/><line x1="519.5" y1="543.8" x2="519.5" y2="545.5" stroke="#222" stroke-width="0.8"/><line x1="521.9" y1="543.5" x2="521.9" y2="545.2" stroke="#222" stroke-width="0.8"/><line x1="523.8" y1="543.3" x2="523.8" y2="545" stroke="#222" stroke-width="0.8"/><line x1="525.4" y1="543.1" x2="525.4" y2="544.8" stroke="#222" stroke-width="0.8"/><line x1="526.9" y1="542.9" x2="526.9" y2="544.6" stroke="#222" stroke-width="0.8"/><line x1="528.1" y1="542.7" x2="528.1" y2="544.4" stroke="#222" stroke-width="0.8"/><line x1="529.2" y1="542.6" x2="529.2" y2="545.6" stroke="#222" stroke-width="0.8"/><line x1="536.5" y1="541.6" x2="536.5" y2="543.3" stroke="#222" stroke-width="0.8"/><line x1="540.8" y1="541.1" x2="540.8" y2="542.8" stroke="#222" stroke-width="0.8"/><line x1="543.9" y1="540.7" x2="543.9" y2="542.4" stroke="#222" stroke-width="0.8"/><line x1="546.2" y1="540.4" x2="546.2" y2="542.1" stroke="#222" stroke-width="0.8"/><line x1="548.1" y1="540.1" x2="548.1" y2="541.8" stroke="#222" stroke-width="0.8"/><line x1="549.8" y1="539.9" x2="549.8" y2="541.6" stroke="#222" stroke-width="0.8"/><line x1="551.2" y1="539.7" x2="551.2" y2="541.4" stroke="#222" stroke-width="0.8"/><line x1="552.4" y1="539.6" x2="552.4" y2="541.3" stroke="#222" stroke-width="0.8"/><line x1="553.5" y1="539.4" x2="553.5" y2="542.4" stroke="#222" stroke-width="0.8"/><line x1="560.9" y1="538.5" x2="560.9" y2="540.2" stroke="#222" stroke-width="0.8"/><line x1="565.1" y1="537.9" x2="565.1" y2="539.6" stroke="#222" stroke-width="0.8"/><line x1="568.2" y1="537.5" x2="568.2" y2="539.2" stroke="#222" stroke-width="0.8"/><line x1="570.5" y1="537.2" x2="570.5" y2="538.9" stroke="#222" stroke-width="0.8"/><line x1="572.5" y1="537" x2="572.5" y2="538.7" stroke="#222" stroke-width="0.8"/><line x1="574.1" y1="536.8" x2="574.1" y2="538.5" stroke="#222" stroke-width="0.8"/><line x1="575.5" y1="536.6" x2="575.5" y2="538.3" stroke="#222" stroke-width="0.8"/><line x1="576.7" y1="536.4" x2="576.7" y2="538.1" stroke="#222" stroke-width="0.8"/><line x1="577.8" y1="536.3" x2="577.8" y2="539.3" stroke="#222" stroke-width="0.8"/><line x1="585.2" y1="535.4" x2="585.2" y2="537.1" stroke="#222" stroke-width="0.8"/><line x1="589.5" y1="534.8" x2="589.5" y2="536.5" stroke="#222" stroke-width="0.8"/><line x1="592.5" y1="534.4" x2="592.5" y2="536.1" stroke="#222" stroke-width="0.8"/><line x1="594.8" y1="534.1" x2="594.8" y2="535.8" stroke="#222" stroke-width="0.8"/><line x1="596.8" y1="533.9" x2="596.8" y2="535.6" stroke="#222" stroke-width="0.8"/><line x1="598.4" y1="533.7" x2="598.4" y2="535.4" stroke="#222" stroke-width="0.8"/><line x1="599.8" y1="533.5" x2="599.8" y2="535.2" stroke="#222" stroke-width="0.8"/><line x1="601.1" y1="533.3" x2="601.1" y2="535" stroke="#222" stroke-width="0.8"/><line x1="602.2" y1="533.2" x2="602.2" y2="536.2" stroke="#222" stroke-width="0.8"/><line x1="609.5" y1="532.2" x2="609.5" y2="533.9" stroke="#222" stroke-width="0.8"/><line x1="613.8" y1="531.7" x2="613.8" y2="533.4" stroke="#222" stroke-width="0.8"/><line x1="616.8" y1="531.3" x2="616.8" y2="533" stroke="#222" stroke-width="0.8"/><line x1="619.2" y1="531" x2="619.2" y2="532.7" stroke="#222" stroke-width="0.8"/><line x1="621.1" y1="530.7" x2="621.1" y2="532.4" stroke="#222" stroke-width="0.8"/><line x1="622.7" y1="530.5" x2="622.7" y2="532.2" stroke="#222" stroke-width="0.8"/><line x1="624.1" y1="530.3" x2="624.1" y2="532" stroke="#222" stroke-width="0.8"/><line x1="625.4" y1="530.2" x2="625.4" y2="531.9" stroke="#222" stroke-width="0.8"/><line x1="626.5" y1="530" x2="626.5" y2="533" stroke="#222" stroke-width="0.8"/><line x1="633.8" y1="529.1" x2="633.8" y2="530.8" stroke="#222" stroke-width="0.8"/><line x1="638.1" y1="528.5" x2="638.1" y2="530.2" stroke="#222" stroke-width="0.8"/><line x1="641.1" y1="528.1" x2="641.1" y2="529.8" stroke="#222" stroke-width="0.8"/><line x1="643.5" y1="527.8" x2="643.5" y2="529.5" stroke="#222" stroke-width="0.8"/><line x1="645.4" y1="527.6" x2="645.4" y2="529.3" stroke="#222" stroke-width="0.8"/><line x1="647" y1="527.4" x2="647" y2="529.1" stroke="#222" stroke-width="0.8"/><line x1="648.4" y1="527.2" x2="648.4" y2="528.9" stroke="#222" stroke-width="0.8"/><line x1="649.7" y1="527" x2="649.7" y2="528.7" stroke="#222" stroke-width="0.8"/><line x1="504.9" y1="545.7" x2="504.9" y2="548.7" stroke="#222" stroke-width="0.8"/><text x="498.1" y="561.7" font-size="10.8">10<tspan font-size="7.5" dy="-4.5">−5</tspan></text><line x1="529.2" y1="542.6" x2="529.2" y2="545.6" stroke="#222" stroke-width="0.8"/><text x="522.4" y="558.6" font-size="10.8">10<tspan font-size="7.5" dy="-4.5">−4</tspan></text><line x1="553.5" y1="539.4" x2="553.5" y2="542.4" stroke="#222" stroke-width="0.8"/><text x="546.7" y="555.4" font-size="10.8">10<tspan font-size="7.5" dy="-4.5">−3</tspan></text><line x1="577.8" y1="536.3" x2="577.8" y2="539.3" stroke="#222" stroke-width="0.8"/><text x="571" y="552.3" font-size="10.8">10<tspan font-size="7.5" dy="-4.5">−2</tspan></text><line x1="602.2" y1="533.2" x2="602.2" y2="536.2" stroke="#222" stroke-width="0.8"/><text x="595.4" y="549.2" font-size="10.8">10<tspan font-size="7.5" dy="-4.5">−1</tspan></text><line x1="626.5" y1="530" x2="626.5" y2="533" stroke="#222" stroke-width="0.8"/><text x="619.7" y="546" font-size="10.8">10<tspan font-size="7.5" dy="-4.5">0</tspan></text><line x1="650.8" y1="526.9" x2="650.8" y2="529.9" stroke="#222" stroke-width="0.8"/><text x="644" y="542.9" font-size="10.8">10<tspan font-size="7.5" dy="-4.5">1</tspan></text><text transform="translate(596,565.2) rotate(-4)" font-size="12.6" text-anchor="middle">Relaxation time τ (s)</text><line x1="650.8" y1="526.9" x2="657.7" y2="380.5" stroke="#222" stroke-width="1"/><line x1="650.8" y1="526.9" x2="653.8" y2="526.9" stroke="#222" stroke-width="0.8"/><text x="654.8" y="530.5" font-size="10">0</text><line x1="651.9" y1="503.5" x2="653.6" y2="503.5" stroke="#222" stroke-width="0.8"/><line x1="653" y1="479.9" x2="656" y2="479.9" stroke="#222" stroke-width="0.8"/><text x="657" y="483.5" font-size="10">20</text><line x1="654.1" y1="455.9" x2="655.8" y2="455.9" stroke="#222" stroke-width="0.8"/><line x1="655.3" y1="432" x2="658.3" y2="432" stroke="#222" stroke-width="0.8"/><text x="659.3" y="435.6" font-size="10">40</text><line x1="656.5" y1="406.3" x2="658.2" y2="406.3" stroke="#222" stroke-width="0.8"/><line x1="657.7" y1="380.5" x2="660.7" y2="380.5" stroke="#222" stroke-width="0.8"/><text x="661.7" y="384.1" font-size="10">60</text><text transform="translate(681,458) rotate(-90)" font-size="12.6" text-anchor="middle">Ω s<tspan font-size="8.5" dy="-4.5">−1</tspan></text><text transform="translate(459.8,524.5) rotate(-111)" font-size="12.6" text-anchor="middle">Voltage (V)</text><path d="M475.5,666 C476.4,663.7 479.1,655.7 481,652 C482.9,648.3 484.9,644.4 486.6,643.9 C488.3,643.4 489.4,646.3 491,649 C492.6,651.7 494.2,657.4 496,660 C497.8,662.6 499.1,664 501.9,664.7 C504.7,665.4 509.1,664.2 513,664 C516.9,663.8 521,663.7 525.5,663.3 C530,662.9 535.4,662.3 540,661.8 C544.6,661.3 549,661 553.2,660.5 C557.4,660 561.3,659.5 565,659 C568.7,658.5 572.5,658.4 575.4,657.7 C578.3,657 580.2,656 582.3,655 C584.4,654 586.4,652.9 588,652 C589.6,651.1 590.4,650.6 592,649.4 C593.6,648.2 590.6,638.9 597.6,645 C604.6,651.1 627.4,678.9 634,686 C640.6,693.1 635.7,686.8 637,687.5 C638.3,688.2 640.2,689 642,690.5 C643.8,692 646.1,694.3 647.5,696.6 C648.9,698.9 650.8,702.9 650.3,704.3 C649.8,705.7 648,705 644.8,704.9 C641.6,704.8 636,703.7 630.9,703.5 C625.8,703.3 620.7,703.3 614.2,703.5 C607.7,703.7 596.4,706 592,704.9 C587.6,703.8 589.3,699.1 587.9,696.6 C586.5,694.1 585.3,689.6 583.7,689.6 C582.1,689.6 579.6,693.6 578.2,696.6 C576.8,699.6 579.6,705.4 575.4,707.7 C571.2,710 561.5,710 553.2,710.4 C544.9,710.8 533.8,710.4 525.5,710.4 C517.2,710.4 508.6,711.3 503.3,710.4 C498,709.5 496.7,708.6 493.6,704.9 C490.6,701.2 488,694.5 485,688 C482,681.5 477.1,669.7 475.5,666Z" fill="url(#hBack)"/><path d="M475.5,666 C476.4,663.7 479.1,655.7 481,652 C482.9,648.3 485.2,644.7 486.6,643.9 C488,643.1 488.6,645.1 489.5,647 C490.4,648.9 491.1,651.5 492,655 C492.9,658.5 493.8,663.2 495,668 C496.2,672.8 497.7,678.7 499,684 C500.3,689.3 502.3,695.6 503,700 C503.7,704.4 504.9,709.6 503.3,710.4 C501.7,711.2 496.7,708.6 493.6,704.9 C490.6,701.2 488,694.5 485,688 C482,681.5 477.1,669.7 475.5,666Z" fill="url(#hLeft)"/><path d="M511,709 C511.7,708 513.5,704.5 515,703 C516.5,701.5 518.2,700 519.9,700 C521.6,700 523.5,701.5 525,703 C526.5,704.5 529.8,707.8 529,709 C528.2,710.2 523,710 520,710 C517,710 512.5,709.2 511,709Z" fill="#a6daa0"/><path d="M575.4,707.7 C575.6,705.1 576.1,697.3 576.5,692 C576.9,686.7 577.5,680.8 578,676 C578.5,671.2 579.1,666.4 579.8,663 C580.5,659.6 581.5,656.6 582.3,655.8 C583.1,655 584,656.5 584.8,658 C585.5,659.5 586.2,662.7 586.8,665 C587.4,667.3 587.9,669.3 588.5,672 C589.1,674.7 589.8,677.8 590.5,681 C591.2,684.2 591.9,688.2 592.5,691 C593.1,693.8 594.1,695.7 594,698 C593.9,700.3 593,705.1 592,704.9 C591,704.7 589.3,699.1 587.9,696.6 C586.5,694.1 585.3,689.6 583.7,689.6 C582.1,689.6 579.6,693.6 578.2,696.6 C576.8,699.6 575.9,705.9 575.4,707.7Z" fill="url(#hMid)"/><path d="M588,704 C588.2,701.7 588.3,695.3 589,690 C589.7,684.7 590.7,677.8 592,672 C593.3,666.2 595.2,659 597,655 C598.8,651 600.5,649.2 603,648 C605.5,646.8 609.3,646.8 612,648 C614.7,649.2 617,652.5 619,655 C621,657.5 622.5,659.7 624,663 C625.5,666.3 626.7,670.5 628,675 C629.3,679.5 631.7,685.3 632,690 C632.3,694.7 633.3,700.7 630,703 C626.7,705.3 619,703.8 612,704 C605,704.2 592,704 588,704Z" fill="#a6daa0"/><path d="M592,704.9 C592.2,702.8 592.9,697.5 593.5,692 C594.1,686.5 594.8,679 595.5,672 C596.2,665 596.8,657.8 597.6,650 C598.4,642.2 599.5,633.3 600.4,625.5 C601.3,617.7 602.2,609.8 603.1,603.3 C604,596.8 605.1,590.3 605.9,586.6 C606.7,582.9 607.2,581.6 607.9,581.1 C608.6,580.6 609.3,580.7 610.1,583.9 C610.9,587.1 612,593.6 612.9,600.5 C613.8,607.4 614.7,617.6 615.6,625.5 C616.5,633.4 617.5,642.2 618.4,647.7 C619.3,653.2 620.3,656.5 621.2,658.8 C622.1,661.1 622.9,662 624,661.5 C625.1,661 627,657.3 628.1,656 C629.2,654.7 630.2,652.6 630.9,653.6 C631.6,654.6 632,656.8 632.5,662 C633,667.2 633.1,680.9 633.7,685 C634.4,689.1 635,686 636.4,686.9 C637.8,687.8 640.1,688.9 642,690.5 C643.9,692.1 646.1,694.3 647.5,696.6 C648.9,698.9 650.8,702.9 650.3,704.3 C649.8,705.7 648,705 644.8,704.9 C641.6,704.8 636,703.7 630.9,703.5 C625.8,703.3 620.7,703.3 614.2,703.5 C607.7,703.7 595.7,704.7 592,704.9Z" fill="url(#hRed)"/><line x1="551.4" y1="660.2" x2="580.2" y2="712.7" stroke="#111" stroke-width="1.3" stroke-dasharray="3.9,3"/><line x1="475.7" y1="669.4" x2="504.9" y2="724.1" stroke="#222" stroke-width="1"/><line x1="473.5" y1="669.4" x2="475.7" y2="669.4" stroke="#222" stroke-width="0.8"/><text x="472.9" y="671.9" font-size="7.2" text-anchor="end">D-3.3 V</text><line x1="476.7" y1="675.5" x2="478.9" y2="675.5" stroke="#222" stroke-width="0.8"/><text x="476.1" y="678" font-size="7.2" text-anchor="end">D-3.5 V</text><line x1="480" y1="681.6" x2="482.2" y2="681.6" stroke="#222" stroke-width="0.8"/><text x="479.4" y="684.1" font-size="7.2" text-anchor="end">D-3.7 V</text><line x1="483.2" y1="687.6" x2="485.4" y2="687.6" stroke="#222" stroke-width="0.8"/><text x="482.6" y="690.1" font-size="7.2" text-anchor="end">D-3.9 V</text><line x1="486.5" y1="693.7" x2="488.7" y2="693.7" stroke="#222" stroke-width="0.8"/><text x="485.9" y="696.2" font-size="7.2" text-anchor="end">D-4.3 V</text><line x1="489.7" y1="699.8" x2="491.9" y2="699.8" stroke="#222" stroke-width="0.8"/><text x="489.1" y="702.3" font-size="7.2" text-anchor="end">D-4.5 V</text><line x1="493" y1="705.9" x2="495.2" y2="705.9" stroke="#222" stroke-width="0.8"/><text x="492.4" y="708.4" font-size="7.2" text-anchor="end">C-4.7 V</text><line x1="496.2" y1="711.9" x2="498.4" y2="711.9" stroke="#222" stroke-width="0.8"/><text x="495.6" y="714.4" font-size="7.2" text-anchor="end">C-4.5 V</text><line x1="499.5" y1="718" x2="501.7" y2="718" stroke="#222" stroke-width="0.8"/><text x="498.9" y="720.5" font-size="7.2" text-anchor="end">C-4.3 V</text><line x1="502.7" y1="724.1" x2="504.9" y2="724.1" stroke="#222" stroke-width="0.8"/><text x="502.1" y="726.6" font-size="7.2" text-anchor="end">C-4.1 V</text><line x1="504.9" y1="724.1" x2="650.8" y2="705.3" stroke="#222" stroke-width="1"/><line x1="504.9" y1="724.1" x2="504.9" y2="727.1" stroke="#222" stroke-width="0.8"/><line x1="512.2" y1="723.2" x2="512.2" y2="724.9" stroke="#222" stroke-width="0.8"/><line x1="516.5" y1="722.6" x2="516.5" y2="724.3" stroke="#222" stroke-width="0.8"/><line x1="519.5" y1="722.2" x2="519.5" y2="723.9" stroke="#222" stroke-width="0.8"/><line x1="521.9" y1="721.9" x2="521.9" y2="723.6" stroke="#222" stroke-width="0.8"/><line x1="523.8" y1="721.7" x2="523.8" y2="723.4" stroke="#222" stroke-width="0.8"/><line x1="525.4" y1="721.5" x2="525.4" y2="723.2" stroke="#222" stroke-width="0.8"/><line x1="526.9" y1="721.3" x2="526.9" y2="723" stroke="#222" stroke-width="0.8"/><line x1="528.1" y1="721.1" x2="528.1" y2="722.8" stroke="#222" stroke-width="0.8"/><line x1="529.2" y1="721" x2="529.2" y2="724" stroke="#222" stroke-width="0.8"/><line x1="536.5" y1="720" x2="536.5" y2="721.7" stroke="#222" stroke-width="0.8"/><line x1="540.8" y1="719.5" x2="540.8" y2="721.2" stroke="#222" stroke-width="0.8"/><line x1="543.9" y1="719.1" x2="543.9" y2="720.8" stroke="#222" stroke-width="0.8"/><line x1="546.2" y1="718.8" x2="546.2" y2="720.5" stroke="#222" stroke-width="0.8"/><line x1="548.1" y1="718.5" x2="548.1" y2="720.2" stroke="#222" stroke-width="0.8"/><line x1="549.8" y1="718.3" x2="549.8" y2="720" stroke="#222" stroke-width="0.8"/><line x1="551.2" y1="718.1" x2="551.2" y2="719.8" stroke="#222" stroke-width="0.8"/><line x1="552.4" y1="718" x2="552.4" y2="719.7" stroke="#222" stroke-width="0.8"/><line x1="553.5" y1="717.8" x2="553.5" y2="720.8" stroke="#222" stroke-width="0.8"/><line x1="560.9" y1="716.9" x2="560.9" y2="718.6" stroke="#222" stroke-width="0.8"/><line x1="565.1" y1="716.3" x2="565.1" y2="718" stroke="#222" stroke-width="0.8"/><line x1="568.2" y1="715.9" x2="568.2" y2="717.6" stroke="#222" stroke-width="0.8"/><line x1="570.5" y1="715.6" x2="570.5" y2="717.3" stroke="#222" stroke-width="0.8"/><line x1="572.5" y1="715.4" x2="572.5" y2="717.1" stroke="#222" stroke-width="0.8"/><line x1="574.1" y1="715.2" x2="574.1" y2="716.9" stroke="#222" stroke-width="0.8"/><line x1="575.5" y1="715" x2="575.5" y2="716.7" stroke="#222" stroke-width="0.8"/><line x1="576.7" y1="714.8" x2="576.7" y2="716.5" stroke="#222" stroke-width="0.8"/><line x1="577.8" y1="714.7" x2="577.8" y2="717.7" stroke="#222" stroke-width="0.8"/><line x1="585.2" y1="713.8" x2="585.2" y2="715.5" stroke="#222" stroke-width="0.8"/><line x1="589.5" y1="713.2" x2="589.5" y2="714.9" stroke="#222" stroke-width="0.8"/><line x1="592.5" y1="712.8" x2="592.5" y2="714.5" stroke="#222" stroke-width="0.8"/><line x1="594.8" y1="712.5" x2="594.8" y2="714.2" stroke="#222" stroke-width="0.8"/><line x1="596.8" y1="712.3" x2="596.8" y2="714" stroke="#222" stroke-width="0.8"/><line x1="598.4" y1="712.1" x2="598.4" y2="713.8" stroke="#222" stroke-width="0.8"/><line x1="599.8" y1="711.9" x2="599.8" y2="713.6" stroke="#222" stroke-width="0.8"/><line x1="601.1" y1="711.7" x2="601.1" y2="713.4" stroke="#222" stroke-width="0.8"/><line x1="602.2" y1="711.6" x2="602.2" y2="714.6" stroke="#222" stroke-width="0.8"/><line x1="609.5" y1="710.6" x2="609.5" y2="712.3" stroke="#222" stroke-width="0.8"/><line x1="613.8" y1="710.1" x2="613.8" y2="711.8" stroke="#222" stroke-width="0.8"/><line x1="616.8" y1="709.7" x2="616.8" y2="711.4" stroke="#222" stroke-width="0.8"/><line x1="619.2" y1="709.4" x2="619.2" y2="711.1" stroke="#222" stroke-width="0.8"/><line x1="621.1" y1="709.1" x2="621.1" y2="710.8" stroke="#222" stroke-width="0.8"/><line x1="622.7" y1="708.9" x2="622.7" y2="710.6" stroke="#222" stroke-width="0.8"/><line x1="624.1" y1="708.7" x2="624.1" y2="710.4" stroke="#222" stroke-width="0.8"/><line x1="625.4" y1="708.6" x2="625.4" y2="710.3" stroke="#222" stroke-width="0.8"/><line x1="626.5" y1="708.4" x2="626.5" y2="711.4" stroke="#222" stroke-width="0.8"/><line x1="633.8" y1="707.5" x2="633.8" y2="709.2" stroke="#222" stroke-width="0.8"/><line x1="638.1" y1="706.9" x2="638.1" y2="708.6" stroke="#222" stroke-width="0.8"/><line x1="641.1" y1="706.5" x2="641.1" y2="708.2" stroke="#222" stroke-width="0.8"/><line x1="643.5" y1="706.2" x2="643.5" y2="707.9" stroke="#222" stroke-width="0.8"/><line x1="645.4" y1="706" x2="645.4" y2="707.7" stroke="#222" stroke-width="0.8"/><line x1="647" y1="705.8" x2="647" y2="707.5" stroke="#222" stroke-width="0.8"/><line x1="648.4" y1="705.6" x2="648.4" y2="707.3" stroke="#222" stroke-width="0.8"/><line x1="649.7" y1="705.4" x2="649.7" y2="707.1" stroke="#222" stroke-width="0.8"/><line x1="504.9" y1="724.1" x2="504.9" y2="727.1" stroke="#222" stroke-width="0.8"/><text x="498.1" y="740.1" font-size="10.8">10<tspan font-size="7.5" dy="-4.5">−5</tspan></text><line x1="529.2" y1="721" x2="529.2" y2="724" stroke="#222" stroke-width="0.8"/><text x="522.4" y="737" font-size="10.8">10<tspan font-size="7.5" dy="-4.5">−4</tspan></text><line x1="553.5" y1="717.8" x2="553.5" y2="720.8" stroke="#222" stroke-width="0.8"/><text x="546.7" y="733.8" font-size="10.8">10<tspan font-size="7.5" dy="-4.5">−3</tspan></text><line x1="577.8" y1="714.7" x2="577.8" y2="717.7" stroke="#222" stroke-width="0.8"/><text x="571" y="730.7" font-size="10.8">10<tspan font-size="7.5" dy="-4.5">−2</tspan></text><line x1="602.2" y1="711.6" x2="602.2" y2="714.6" stroke="#222" stroke-width="0.8"/><text x="595.4" y="727.6" font-size="10.8">10<tspan font-size="7.5" dy="-4.5">−1</tspan></text><line x1="626.5" y1="708.4" x2="626.5" y2="711.4" stroke="#222" stroke-width="0.8"/><text x="619.7" y="724.4" font-size="10.8">10<tspan font-size="7.5" dy="-4.5">0</tspan></text><line x1="650.8" y1="705.3" x2="650.8" y2="708.3" stroke="#222" stroke-width="0.8"/><text x="644" y="721.3" font-size="10.8">10<tspan font-size="7.5" dy="-4.5">1</tspan></text><text transform="translate(596,743.6) rotate(-4)" font-size="12.6" text-anchor="middle">Relaxation time τ (s)</text><line x1="650.8" y1="705.3" x2="657.7" y2="558.9" stroke="#222" stroke-width="1"/><line x1="650.8" y1="705.3" x2="653.8" y2="705.3" stroke="#222" stroke-width="0.8"/><text x="654.8" y="708.9" font-size="10">0</text><line x1="651.9" y1="681.9" x2="653.6" y2="681.9" stroke="#222" stroke-width="0.8"/><line x1="653" y1="658.3" x2="656" y2="658.3" stroke="#222" stroke-width="0.8"/><text x="657" y="661.9" font-size="10">20</text><line x1="654.1" y1="634.3" x2="655.8" y2="634.3" stroke="#222" stroke-width="0.8"/><line x1="655.3" y1="610.4" x2="658.3" y2="610.4" stroke="#222" stroke-width="0.8"/><text x="659.3" y="614" font-size="10">40</text><line x1="656.5" y1="584.7" x2="658.2" y2="584.7" stroke="#222" stroke-width="0.8"/><line x1="657.7" y1="558.9" x2="660.7" y2="558.9" stroke="#222" stroke-width="0.8"/><text x="661.7" y="562.5" font-size="10">60</text><text transform="translate(681,636.4) rotate(-90)" font-size="12.6" text-anchor="middle">Ω s<tspan font-size="8.5" dy="-4.5">−1</tspan></text><text transform="translate(459.8,702.9) rotate(-111)" font-size="12.6" text-anchor="middle">Voltage (V)</text>
</svg></body></html>
